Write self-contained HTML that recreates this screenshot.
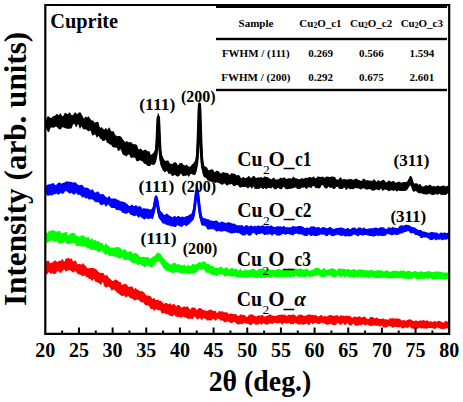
<!DOCTYPE html>
<html><head><meta charset="utf-8"><style>html,body{margin:0;padding:0;background:#fff}svg{display:block}</style></head>
<body><svg width="463" height="402" viewBox="0 0 463 402">
<style>
text{font-family:"Liberation Serif",serif;font-weight:bold;fill:#000}
.tk{font-size:20px}
.cl{font-size:21px}
.pk{font-size:16px}
.tb{font-size:11px}
</style>
<rect width="463" height="402" fill="#fff"/>
<path d="M45.50,261.8 45.75,261.6 46.00,261.5 46.25,261.4 46.50,261.3 46.75,261.2 47.00,261.1 47.25,261.0 47.50,260.8 47.75,260.7 48.00,260.7 48.25,260.6 48.50,260.7 48.75,260.9 49.00,261.2 49.25,261.6 49.50,262.1 49.75,262.7 50.00,263.0 50.25,263.2 50.50,263.2 50.75,263.1 51.00,262.9 51.25,262.7 51.50,262.6 51.75,262.5 52.00,262.5 52.25,262.4 52.50,262.4 52.75,262.3 53.00,262.2 53.25,262.0 53.50,261.7 53.75,261.3 54.00,261.0 54.25,260.7 54.50,260.5 54.75,260.5 55.00,260.5 55.25,260.5 55.50,260.6 55.75,260.8 56.00,261.0 56.25,261.2 56.50,261.4 56.75,261.6 57.00,261.8 57.25,261.9 57.50,261.9 57.75,261.8 58.00,261.6 58.25,261.4 58.50,261.2 58.75,261.1 59.00,260.9 59.25,260.7 59.50,260.5 59.75,260.4 60.00,260.4 60.25,260.6 60.50,260.8 60.75,260.9 61.00,260.9 61.25,260.6 61.50,260.1 61.75,259.6 62.00,259.2 62.25,259.0 62.50,259.0 62.75,259.2 63.00,259.5 63.25,260.0 63.50,260.6 63.75,261.2 64.00,261.5 64.25,261.7 64.50,261.5 64.75,261.1 65.00,260.5 65.25,259.8 65.50,259.1 65.75,258.6 66.00,258.4 66.25,258.3 66.50,258.3 66.75,258.4 67.00,258.4 67.25,258.4 67.50,258.4 67.75,258.2 68.00,258.1 68.25,258.0 68.50,258.1 68.75,258.2 69.00,258.4 69.25,258.7 69.50,259.0 69.75,259.1 70.00,259.0 70.25,258.8 70.50,258.6 70.75,258.4 71.00,258.4 71.25,258.4 71.50,258.5 71.75,258.8 72.00,259.2 72.25,259.7 72.50,260.2 72.75,260.7 73.00,261.1 73.25,261.3 73.50,261.4 73.75,261.4 74.00,261.3 74.25,261.1 74.50,261.0 74.75,260.8 75.00,260.6 75.25,260.5 75.50,260.5 75.75,260.6 76.00,260.9 76.25,261.3 76.50,262.0 76.75,262.7 77.00,263.4 77.25,263.9 77.50,264.2 77.75,264.2 78.00,264.2 78.25,264.2 78.50,264.1 78.75,264.0 79.00,263.9 79.25,263.8 79.50,263.8 79.75,263.8 80.00,263.9 80.25,264.0 80.50,264.2 80.75,264.3 81.00,264.5 81.25,264.6 81.50,264.6 81.75,264.6 82.00,264.4 82.25,264.1 82.50,263.8 82.75,263.5 83.00,263.3 83.25,263.2 83.50,263.4 83.75,263.6 84.00,264.1 84.25,264.5 84.50,264.9 84.75,265.3 85.00,265.5 85.25,265.6 85.50,265.8 85.75,265.9 86.00,266.2 86.25,266.6 86.50,267.0 86.75,267.4 87.00,267.8 87.25,268.0 87.50,268.2 87.75,268.2 88.00,268.2 88.25,268.2 88.50,268.1 88.75,268.2 89.00,268.2 89.25,268.2 89.50,268.3 89.75,268.3 90.00,268.2 90.25,268.1 90.50,268.0 90.75,268.0 91.00,267.9 91.25,267.9 91.50,267.9 91.75,267.9 92.00,267.9 92.25,267.8 92.50,267.8 92.75,267.9 93.00,267.9 93.25,268.0 93.50,268.0 93.75,268.1 94.00,268.3 94.25,268.4 94.50,268.5 94.75,268.7 95.00,268.8 95.25,268.9 95.50,269.0 95.75,269.1 96.00,269.2 96.25,269.3 96.50,269.5 96.75,269.7 97.00,269.9 97.25,270.2 97.50,270.6 97.75,271.0 98.00,271.4 98.25,271.8 98.50,272.0 98.75,272.1 99.00,272.3 99.25,272.4 99.50,272.6 99.75,272.7 100.00,272.8 100.25,272.8 100.50,272.9 100.75,272.9 101.00,272.9 101.25,272.9 101.50,272.9 101.75,272.9 102.00,272.9 102.25,272.8 102.50,272.8 102.75,272.8 103.00,272.8 103.25,273.0 103.50,273.2 103.75,273.6 104.00,274.0 104.25,274.4 104.50,274.8 104.75,275.1 105.00,275.4 105.25,275.6 105.50,275.7 105.75,275.6 106.00,275.5 106.25,275.2 106.50,275.0 106.75,274.9 107.00,274.9 107.25,275.1 107.50,275.4 107.75,275.9 108.00,276.4 108.25,276.9 108.50,277.3 108.75,277.6 109.00,277.9 109.25,278.1 109.50,278.2 109.75,278.4 110.00,278.6 110.25,278.8 110.50,279.1 110.75,279.4 111.00,279.6 111.25,279.9 111.50,280.1 111.75,280.3 112.00,280.6 112.25,280.8 112.50,281.0 112.75,281.0 113.00,281.0 113.25,280.9 113.50,280.8 113.75,280.6 114.00,280.4 114.25,280.2 114.50,279.9 114.75,279.7 115.00,279.5 115.25,279.4 115.50,279.4 115.75,279.5 116.00,279.6 116.25,279.8 116.50,280.0 116.75,280.1 117.00,280.3 117.25,280.4 117.50,280.5 117.75,280.6 118.00,280.8 118.25,281.1 118.50,281.4 118.75,281.6 119.00,281.8 119.25,281.9 119.50,281.9 119.75,281.9 120.00,281.9 120.25,282.0 120.50,282.2 120.75,282.6 121.00,283.1 121.25,283.6 121.50,284.1 121.75,284.5 122.00,284.7 122.25,284.8 122.50,284.8 122.75,284.7 123.00,284.7 123.25,284.6 123.50,284.5 123.75,284.3 124.00,284.1 124.25,284.0 124.50,283.9 124.75,283.8 125.00,283.8 125.25,283.8 125.50,283.9 125.75,284.0 126.00,284.2 126.25,284.3 126.50,284.4 126.75,284.6 127.00,284.8 127.25,285.0 127.50,285.4 127.75,285.9 128.00,286.2 128.25,286.5 128.50,286.7 128.75,286.8 129.00,286.8 129.25,286.8 129.50,286.8 129.75,286.8 130.00,286.8 130.25,286.7 130.50,286.6 130.75,286.5 131.00,286.4 131.25,286.4 131.50,286.4 131.75,286.4 132.00,286.5 132.25,286.6 132.50,286.8 132.75,287.1 133.00,287.5 133.25,288.0 133.50,288.5 133.75,289.0 134.00,289.3 134.25,289.3 134.50,289.1 134.75,288.8 135.00,288.4 135.25,288.1 135.50,288.0 135.75,288.0 136.00,288.1 136.25,288.4 136.50,288.8 136.75,289.2 137.00,289.6 137.25,289.8 137.50,289.9 137.75,289.8 138.00,289.8 138.25,289.8 138.50,289.9 138.75,290.1 139.00,290.3 139.25,290.6 139.50,290.9 139.75,291.1 140.00,291.2 140.25,291.3 140.50,291.3 140.75,291.3 141.00,291.2 141.25,291.2 141.50,291.2 141.75,291.1 142.00,291.1 142.25,291.2 142.50,291.3 142.75,291.4 143.00,291.6 143.25,291.9 143.50,292.1 143.75,292.3 144.00,292.4 144.25,292.6 144.50,292.9 144.75,293.2 145.00,293.7 145.25,294.1 145.50,294.5 145.75,294.9 146.00,295.1 146.25,295.3 146.50,295.4 146.75,295.5 147.00,295.5 147.25,295.5 147.50,295.6 147.75,295.6 148.00,295.6 148.25,295.6 148.50,295.7 148.75,295.7 149.00,295.8 149.25,295.8 149.50,295.8 149.75,295.9 150.00,296.0 150.25,296.1 150.50,296.3 150.75,296.4 151.00,296.7 151.25,297.0 151.50,297.4 151.75,298.0 152.00,298.5 152.25,298.9 152.50,299.0 152.75,298.9 153.00,298.6 153.25,298.3 153.50,298.1 153.75,298.0 154.00,298.0 154.25,298.1 154.50,298.5 154.75,298.9 155.00,299.3 155.25,299.6 155.50,299.8 155.75,299.9 156.00,300.0 156.25,299.9 156.50,299.9 156.75,299.9 157.00,299.8 157.25,299.7 157.50,299.7 157.75,299.7 158.00,299.7 158.25,299.8 158.50,300.0 158.75,300.3 159.00,300.6 159.25,300.9 159.50,301.0 159.75,301.0 160.00,300.9 160.25,300.7 160.50,300.7 160.75,300.6 161.00,300.8 161.25,301.0 161.50,301.3 161.75,301.7 162.00,302.0 162.25,302.3 162.50,302.5 162.75,302.6 163.00,302.9 163.25,303.1 163.50,303.4 163.75,303.6 164.00,303.8 164.25,303.8 164.50,303.7 164.75,303.5 165.00,303.3 165.25,303.1 165.50,303.0 165.75,302.9 166.00,302.9 166.25,302.9 166.50,303.0 166.75,303.1 167.00,303.3 167.25,303.5 167.50,303.6 167.75,303.8 168.00,304.0 168.25,304.1 168.50,304.2 168.75,304.2 169.00,304.0 169.25,303.8 169.50,303.6 169.75,303.4 170.00,303.3 170.25,303.3 170.50,303.4 170.75,303.6 171.00,303.9 171.25,304.3 171.50,304.6 171.75,304.9 172.00,304.9 172.25,304.8 172.50,304.6 172.75,304.4 173.00,304.2 173.25,304.2 173.50,304.1 173.75,304.1 174.00,304.1 174.25,304.2 174.50,304.3 174.75,304.5 175.00,304.8 175.25,305.2 175.50,305.6 175.75,306.1 176.00,306.3 176.25,306.4 176.50,306.3 176.75,305.9 177.00,305.6 177.25,305.3 177.50,305.1 177.75,305.0 178.00,305.0 178.25,305.0 178.50,305.0 178.75,305.1 179.00,305.2 179.25,305.3 179.50,305.4 179.75,305.6 180.00,305.9 180.25,306.2 180.50,306.5 180.75,306.8 181.00,307.0 181.25,307.1 181.50,307.3 181.75,307.4 182.00,307.4 182.25,307.4 182.50,307.4 182.75,307.2 183.00,307.0 183.25,306.7 183.50,306.5 183.75,306.3 184.00,306.2 184.25,306.2 184.50,306.3 184.75,306.5 185.00,306.7 185.25,306.9 185.50,307.1 185.75,307.1 186.00,307.0 186.25,306.8 186.50,306.7 186.75,306.6 187.00,306.6 187.25,306.6 187.50,306.6 187.75,306.7 188.00,306.8 188.25,306.9 188.50,307.2 188.75,307.6 189.00,308.1 189.25,308.6 189.50,309.1 189.75,309.5 190.00,309.7 190.25,309.7 190.50,309.5 190.75,309.1 191.00,308.6 191.25,308.2 191.50,307.8 191.75,307.6 192.00,307.5 192.25,307.5 192.50,307.5 192.75,307.4 193.00,307.4 193.25,307.4 193.50,307.4 193.75,307.5 194.00,307.5 194.25,307.6 194.50,307.7 194.75,307.8 195.00,308.0 195.25,308.1 195.50,308.3 195.75,308.6 196.00,309.0 196.25,309.4 196.50,309.7 196.75,309.9 197.00,309.9 197.25,309.7 197.50,309.4 197.75,309.1 198.00,308.7 198.25,308.4 198.50,308.2 198.75,308.1 199.00,308.1 199.25,308.1 199.50,308.2 199.75,308.2 200.00,308.3 200.25,308.3 200.50,308.3 200.75,308.3 201.00,308.3 201.25,308.3 201.50,308.4 201.75,308.7 202.00,308.9 202.25,309.3 202.50,309.5 202.75,309.7 203.00,309.9 203.25,309.9 203.50,310.0 203.75,310.0 204.00,310.1 204.25,310.2 204.50,310.3 204.75,310.5 205.00,310.6 205.25,310.7 205.50,310.7 205.75,310.7 206.00,310.7 206.25,310.7 206.50,310.7 206.75,310.7 207.00,310.7 207.25,310.7 207.50,310.7 207.75,310.7 208.00,310.6 208.25,310.6 208.50,310.5 208.75,310.3 209.00,310.1 209.25,309.9 209.50,309.6 209.75,309.5 210.00,309.4 210.25,309.4 210.50,309.5 210.75,309.6 211.00,309.7 211.25,309.9 211.50,310.1 211.75,310.2 212.00,310.2 212.25,310.3 212.50,310.3 212.75,310.4 213.00,310.6 213.25,310.8 213.50,311.0 213.75,311.2 214.00,311.2 214.25,311.1 214.50,310.9 214.75,310.7 215.00,310.6 215.25,310.6 215.50,310.8 215.75,311.1 216.00,311.6 216.25,312.2 216.50,312.6 216.75,312.8 217.00,312.9 217.25,312.8 217.50,312.7 217.75,312.6 218.00,312.4 218.25,312.1 218.50,311.8 218.75,311.4 219.00,311.1 219.25,310.8 219.50,310.7 219.75,310.7 220.00,310.9 220.25,311.1 220.50,311.4 220.75,311.7 221.00,311.9 221.25,311.8 221.50,311.6 221.75,311.4 222.00,311.2 222.25,311.1 222.50,311.1 222.75,311.2 223.00,311.5 223.25,311.7 223.50,312.0 223.75,312.2 224.00,312.3 224.25,312.3 224.50,312.3 224.75,312.2 225.00,312.2 225.25,312.2 225.50,312.2 225.75,312.2 226.00,312.2 226.25,312.2 226.50,312.2 226.75,312.2 227.00,312.3 227.25,312.4 227.50,312.6 227.75,313.0 228.00,313.3 228.25,313.7 228.50,313.9 228.75,314.0 229.00,314.1 229.25,314.0 229.50,313.9 229.75,313.8 230.00,313.6 230.25,313.5 230.50,313.5 230.75,313.5 231.00,313.5 231.25,313.5 231.50,313.5 231.75,313.5 232.00,313.6 232.25,313.6 232.50,313.7 232.75,313.8 233.00,313.9 233.25,314.0 233.50,314.2 233.75,314.3 234.00,314.3 234.25,314.3 234.50,314.2 234.75,314.1 235.00,314.0 235.25,313.9 235.50,313.8 235.75,313.9 236.00,314.0 236.25,314.3 236.50,314.6 236.75,315.0 237.00,315.4 237.25,315.6 237.50,315.8 237.75,315.8 238.00,315.8 238.25,315.8 238.50,315.8 238.75,315.8 239.00,315.7 239.25,315.6 239.50,315.5 239.75,315.2 240.00,315.0 240.25,314.7 240.50,314.5 240.75,314.3 241.00,314.3 241.25,314.3 241.50,314.4 241.75,314.6 242.00,314.7 242.25,314.9 242.50,314.9 242.75,314.9 243.00,314.9 243.25,314.8 243.50,314.7 243.75,314.7 244.00,314.8 244.25,314.8 244.50,315.0 244.75,315.2 245.00,315.5 245.25,315.7 245.50,315.9 245.75,316.1 246.00,316.3 246.25,316.5 246.50,316.8 246.75,317.0 247.00,317.1 247.25,317.0 247.50,316.7 247.75,316.4 248.00,316.0 248.25,315.7 248.50,315.3 248.75,315.0 249.00,314.9 249.25,314.7 249.50,314.7 249.75,314.6 250.00,314.6 250.25,314.5 250.50,314.5 250.75,314.5 251.00,314.5 251.25,314.4 251.50,314.4 251.75,314.5 252.00,314.5 252.25,314.5 252.50,314.5 252.75,314.5 253.00,314.6 253.25,314.7 253.50,314.9 253.75,315.2 254.00,315.4 254.25,315.7 254.50,315.9 254.75,316.0 255.00,316.1 255.25,316.1 255.50,316.2 255.75,316.3 256.00,316.4 256.25,316.5 256.50,316.4 256.75,316.3 257.00,316.2 257.25,316.0 257.50,315.8 257.75,315.6 258.00,315.6 258.25,315.6 258.50,315.6 258.75,315.6 259.00,315.6 259.25,315.6 259.50,315.6 259.75,315.5 260.00,315.5 260.25,315.5 260.50,315.5 260.75,315.5 261.00,315.5 261.25,315.4 261.50,315.3 261.75,315.2 262.00,315.1 262.25,315.1 262.50,315.1 262.75,315.1 263.00,315.3 263.25,315.5 263.50,315.9 263.75,316.2 264.00,316.4 264.25,316.5 264.50,316.6 264.75,316.5 265.00,316.5 265.25,316.4 265.50,316.3 265.75,316.2 266.00,316.1 266.25,316.0 266.50,315.9 266.75,315.9 267.00,315.8 267.25,315.7 267.50,315.6 267.75,315.5 268.00,315.4 268.25,315.3 268.50,315.1 268.75,314.9 269.00,314.7 269.25,314.6 269.50,314.4 269.75,314.3 270.00,314.3 270.25,314.3 270.50,314.4 270.75,314.6 271.00,314.8 271.25,315.0 271.50,315.2 271.75,315.3 272.00,315.4 272.25,315.5 272.50,315.5 272.75,315.5 273.00,315.5 273.25,315.6 273.50,315.7 273.75,315.8 274.00,316.0 274.25,316.1 274.50,316.1 274.75,316.1 275.00,316.0 275.25,315.9 275.50,315.9 275.75,315.8 276.00,315.8 276.25,315.8 276.50,315.7 276.75,315.6 277.00,315.5 277.25,315.4 277.50,315.4 277.75,315.3 278.00,315.2 278.25,315.1 278.50,315.0 278.75,314.9 279.00,314.8 279.25,314.7 279.50,314.7 279.75,314.7 280.00,314.8 280.25,314.8 280.50,314.8 280.75,314.8 281.00,314.7 281.25,314.5 281.50,314.4 281.75,314.4 282.00,314.4 282.25,314.5 282.50,314.7 282.75,314.9 283.00,315.0 283.25,315.0 283.50,314.9 283.75,314.7 284.00,314.5 284.25,314.4 284.50,314.4 284.75,314.5 285.00,314.7 285.25,314.9 285.50,315.2 285.75,315.4 286.00,315.6 286.25,315.6 286.50,315.7 286.75,315.7 287.00,315.7 287.25,315.6 287.50,315.5 287.75,315.3 288.00,315.1 288.25,314.9 288.50,314.8 288.75,314.7 289.00,314.6 289.25,314.6 289.50,314.7 289.75,314.7 290.00,314.8 290.25,314.9 290.50,315.0 290.75,315.0 291.00,315.0 291.25,315.0 291.50,314.9 291.75,314.7 292.00,314.6 292.25,314.5 292.50,314.5 292.75,314.5 293.00,314.5 293.25,314.5 293.50,314.5 293.75,314.6 294.00,314.6 294.25,314.7 294.50,314.8 294.75,315.0 295.00,315.1 295.25,315.2 295.50,315.4 295.75,315.7 296.00,316.0 296.25,316.3 296.50,316.5 296.75,316.6 297.00,316.5 297.25,316.3 297.50,315.9 297.75,315.6 298.00,315.4 298.25,315.1 298.50,315.0 298.75,314.8 299.00,314.7 299.25,314.6 299.50,314.6 299.75,314.6 300.00,314.7 300.25,314.8 300.50,314.8 300.75,314.8 301.00,314.7 301.25,314.7 301.50,314.6 301.75,314.6 302.00,314.7 302.25,314.9 302.50,315.1 302.75,315.3 303.00,315.5 303.25,315.7 303.50,315.7 303.75,315.8 304.00,315.8 304.25,315.8 304.50,315.8 304.75,315.8 305.00,315.8 305.25,315.8 305.50,315.8 305.75,315.7 306.00,315.6 306.25,315.4 306.50,315.2 306.75,315.0 307.00,314.9 307.25,314.8 307.50,314.8 307.75,314.7 308.00,314.7 308.25,314.6 308.50,314.6 308.75,314.6 309.00,314.6 309.25,314.6 309.50,314.6 309.75,314.6 310.00,314.7 310.25,314.7 310.50,314.7 310.75,314.8 311.00,314.8 311.25,314.9 311.50,314.9 311.75,314.9 312.00,314.8 312.25,314.8 312.50,314.8 312.75,314.8 313.00,314.9 313.25,315.1 313.50,315.3 313.75,315.4 314.00,315.5 314.25,315.4 314.50,315.3 314.75,315.1 315.00,315.0 315.25,314.9 315.50,314.8 315.75,314.8 316.00,314.9 316.25,315.1 316.50,315.4 316.75,315.7 317.00,316.0 317.25,316.2 317.50,316.4 317.75,316.4 318.00,316.4 318.25,316.4 318.50,316.3 318.75,316.2 319.00,316.1 319.25,316.1 319.50,316.0 319.75,315.9 320.00,315.8 320.25,315.6 320.50,315.4 320.75,315.1 321.00,315.0 321.25,314.9 321.50,314.9 321.75,315.0 322.00,315.2 322.25,315.5 322.50,315.9 322.75,316.2 323.00,316.4 323.25,316.5 323.50,316.5 323.75,316.4 324.00,316.3 324.25,316.2 324.50,316.1 324.75,316.1 325.00,316.1 325.25,316.1 325.50,316.2 325.75,316.3 326.00,316.4 326.25,316.5 326.50,316.5 326.75,316.6 327.00,316.5 327.25,316.5 327.50,316.3 327.75,316.1 328.00,315.8 328.25,315.6 328.50,315.4 328.75,315.3 329.00,315.3 329.25,315.3 329.50,315.2 329.75,315.2 330.00,315.1 330.25,315.1 330.50,315.0 330.75,315.0 331.00,315.0 331.25,315.1 331.50,315.1 331.75,315.2 332.00,315.4 332.25,315.5 332.50,315.6 332.75,315.7 333.00,315.7 333.25,315.8 333.50,315.8 333.75,315.9 334.00,315.9 334.25,315.9 334.50,315.8 334.75,315.7 335.00,315.6 335.25,315.5 335.50,315.5 335.75,315.4 336.00,315.4 336.25,315.3 336.50,315.2 336.75,315.2 337.00,315.1 337.25,315.1 337.50,315.2 337.75,315.4 338.00,315.6 338.25,316.0 338.50,316.3 338.75,316.6 339.00,316.7 339.25,316.6 339.50,316.3 339.75,315.9 340.00,315.6 340.25,315.4 340.50,315.3 340.75,315.2 341.00,315.3 341.25,315.5 341.50,315.6 341.75,315.8 342.00,315.8 342.25,315.8 342.50,315.7 342.75,315.7 343.00,315.6 343.25,315.6 343.50,315.7 343.75,315.7 344.00,315.9 344.25,316.0 344.50,316.1 344.75,316.2 345.00,316.2 345.25,316.1 345.50,315.9 345.75,315.7 346.00,315.6 346.25,315.5 346.50,315.4 346.75,315.5 347.00,315.6 347.25,315.8 347.50,316.0 347.75,316.1 348.00,316.1 348.25,316.0 348.50,315.9 348.75,315.7 349.00,315.6 349.25,315.6 349.50,315.7 349.75,315.8 350.00,316.1 350.25,316.3 350.50,316.5 350.75,316.7 351.00,316.9 351.25,317.1 351.50,317.2 351.75,317.4 352.00,317.6 352.25,317.7 352.50,317.7 352.75,317.7 353.00,317.5 353.25,317.3 353.50,317.1 353.75,316.8 354.00,316.7 354.25,316.6 354.50,316.5 354.75,316.6 355.00,316.6 355.25,316.7 355.50,316.8 355.75,316.9 356.00,317.0 356.25,317.1 356.50,317.1 356.75,317.2 357.00,317.1 357.25,317.1 357.50,317.0 357.75,316.9 358.00,316.8 358.25,316.7 358.50,316.6 358.75,316.5 359.00,316.4 359.25,316.3 359.50,316.3 359.75,316.3 360.00,316.3 360.25,316.4 360.50,316.7 360.75,317.0 361.00,317.3 361.25,317.6 361.50,317.7 361.75,317.7 362.00,317.5 362.25,317.3 362.50,317.1 362.75,317.0 363.00,316.9 363.25,316.8 363.50,316.8 363.75,316.7 364.00,316.7 364.25,316.6 364.50,316.6 364.75,316.7 365.00,316.8 365.25,317.0 365.50,317.3 365.75,317.6 366.00,317.9 366.25,318.2 366.50,318.4 366.75,318.5 367.00,318.6 367.25,318.6 367.50,318.8 367.75,318.9 368.00,319.0 368.25,319.1 368.50,319.1 368.75,318.9 369.00,318.6 369.25,318.2 369.50,317.8 369.75,317.5 370.00,317.3 370.25,317.2 370.50,317.1 370.75,317.0 371.00,317.0 371.25,316.9 371.50,316.9 371.75,317.0 372.00,317.0 372.25,317.0 372.50,317.0 372.75,317.1 373.00,317.2 373.25,317.3 373.50,317.5 373.75,317.8 374.00,318.1 374.25,318.3 374.50,318.5 374.75,318.5 375.00,318.4 375.25,318.2 375.50,318.0 375.75,317.8 376.00,317.6 376.25,317.4 376.50,317.4 376.75,317.4 377.00,317.5 377.25,317.6 377.50,317.9 377.75,318.1 378.00,318.4 378.25,318.5 378.50,318.6 378.75,318.7 379.00,318.7 379.25,318.8 379.50,318.8 379.75,318.9 380.00,319.0 380.25,319.0 380.50,319.1 380.75,319.1 381.00,319.1 381.25,319.0 381.50,318.9 381.75,318.8 382.00,318.7 382.25,318.6 382.50,318.5 382.75,318.5 383.00,318.5 383.25,318.5 383.50,318.6 383.75,318.7 384.00,318.8 384.25,319.0 384.50,319.2 384.75,319.3 385.00,319.3 385.25,319.4 385.50,319.4 385.75,319.3 386.00,319.3 386.25,319.3 386.50,319.3 386.75,319.3 387.00,319.4 387.25,319.4 387.50,319.5 387.75,319.6 388.00,319.7 388.25,319.8 388.50,319.7 388.75,319.5 389.00,319.2 389.25,318.8 389.50,318.5 389.75,318.3 390.00,318.2 390.25,318.2 390.50,318.3 390.75,318.5 391.00,318.6 391.25,318.7 391.50,318.6 391.75,318.5 392.00,318.4 392.25,318.3 392.50,318.3 392.75,318.3 393.00,318.3 393.25,318.3 393.50,318.3 393.75,318.3 394.00,318.4 394.25,318.4 394.50,318.4 394.75,318.5 395.00,318.5 395.25,318.5 395.50,318.5 395.75,318.5 396.00,318.5 396.25,318.5 396.50,318.5 396.75,318.5 397.00,318.5 397.25,318.5 397.50,318.6 397.75,318.6 398.00,318.6 398.25,318.6 398.50,318.6 398.75,318.6 399.00,318.6 399.25,318.7 399.50,318.7 399.75,318.8 400.00,318.9 400.25,319.1 400.50,319.4 400.75,319.6 401.00,319.9 401.25,320.1 401.50,320.3 401.75,320.4 402.00,320.5 402.25,320.5 402.50,320.4 402.75,320.3 403.00,320.2 403.25,320.1 403.50,320.0 403.75,320.0 404.00,320.1 404.25,320.2 404.50,320.3 404.75,320.5 405.00,320.7 405.25,320.8 405.50,320.8 405.75,320.8 406.00,320.8 406.25,320.6 406.50,320.4 406.75,320.2 407.00,320.1 407.25,320.0 407.50,320.0 407.75,319.9 408.00,319.8 408.25,319.7 408.50,319.5 408.75,319.4 409.00,319.3 409.25,319.2 409.50,319.2 409.75,319.2 410.00,319.3 410.25,319.4 410.50,319.4 410.75,319.5 411.00,319.6 411.25,319.8 411.50,319.9 411.75,320.0 412.00,320.2 412.25,320.3 412.50,320.5 412.75,320.7 413.00,320.8 413.25,321.0 413.50,321.0 413.75,321.1 414.00,321.1 414.25,321.0 414.50,320.9 414.75,320.8 415.00,320.7 415.25,320.5 415.50,320.4 415.75,320.3 416.00,320.3 416.25,320.4 416.50,320.5 416.75,320.7 417.00,320.9 417.25,321.0 417.50,321.2 417.75,321.2 418.00,321.1 418.25,321.0 418.50,320.9 418.75,320.8 419.00,320.8 419.25,320.7 419.50,320.7 419.75,320.6 420.00,320.5 420.25,320.5 420.50,320.5 420.75,320.4 421.00,320.4 421.25,320.4 421.50,320.5 421.75,320.5 422.00,320.5 422.25,320.6 422.50,320.5 422.75,320.5 423.00,320.3 423.25,320.2 423.50,320.1 423.75,320.0 424.00,320.0 424.25,320.2 424.50,320.4 424.75,320.7 425.00,321.0 425.25,321.1 425.50,321.1 425.75,320.9 426.00,320.7 426.25,320.5 426.50,320.4 426.75,320.3 427.00,320.4 427.25,320.4 427.50,320.5 427.75,320.6 428.00,320.8 428.25,321.0 428.50,321.2 428.75,321.4 429.00,321.5 429.25,321.6 429.50,321.7 429.75,321.6 430.00,321.5 430.25,321.4 430.50,321.3 430.75,321.2 431.00,321.2 431.25,321.3 431.50,321.4 431.75,321.5 432.00,321.7 432.25,321.8 432.50,321.9 432.75,322.0 433.00,321.9 433.25,321.8 433.50,321.6 433.75,321.4 434.00,321.2 434.25,321.1 434.50,321.0 434.75,321.0 435.00,321.1 435.25,321.2 435.50,321.4 435.75,321.6 436.00,321.7 436.25,321.8 436.50,321.9 436.75,321.8 437.00,321.7 437.25,321.5 437.50,321.3 437.75,321.1 438.00,320.9 438.25,320.8 438.50,320.8 438.75,320.8 439.00,320.8 439.25,320.9 439.50,321.0 439.75,321.0 440.00,321.1 440.25,321.2 440.50,321.3 440.75,321.4 441.00,321.6 441.25,321.8 441.50,322.0 441.75,322.1 442.00,322.2 442.25,322.3 442.50,322.3 442.75,322.3 443.00,322.4 443.25,322.4 443.50,322.4 443.75,322.3 444.00,322.3 444.25,322.1 444.50,321.9 444.75,321.6 445.00,321.3 445.25,321.1 445.50,320.9 445.75,320.8 446.00,320.8 446.25,320.8 446.50,321.0 446.75,321.2 447.00,321.4 447.25,321.5 447.50,321.6 447.75,321.7 448.00,321.7 448.25,321.7 448.50,321.7 448.75,321.8 449.00,321.8 449.25,321.9 449.50,322.1 L449.50,329.2 449.25,329.1 449.00,329.1 448.75,329.0 448.50,328.8 448.25,328.7 448.00,328.5 447.75,328.3 447.50,328.2 447.25,328.2 447.00,328.2 446.75,328.3 446.50,328.4 446.25,328.4 446.00,328.4 445.75,328.5 445.50,328.5 445.25,328.5 445.00,328.6 444.75,328.7 444.50,328.9 444.25,329.0 444.00,329.1 443.75,329.2 443.50,329.2 443.25,329.2 443.00,329.2 442.75,329.2 442.50,329.1 442.25,329.1 442.00,329.1 441.75,329.1 441.50,329.1 441.25,329.1 441.00,329.0 440.75,328.9 440.50,328.8 440.25,328.6 440.00,328.4 439.75,328.3 439.50,328.3 439.25,328.2 439.00,328.2 438.75,328.1 438.50,328.0 438.25,327.9 438.00,327.8 437.75,327.7 437.50,327.6 437.25,327.6 437.00,327.6 436.75,327.6 436.50,327.7 436.25,327.9 436.00,328.2 435.75,328.4 435.50,328.7 435.25,328.8 435.00,328.9 434.75,328.9 434.50,328.9 434.25,328.8 434.00,328.8 433.75,328.6 433.50,328.5 433.25,328.4 433.00,328.4 432.75,328.3 432.50,328.3 432.25,328.2 432.00,328.2 431.75,328.1 431.50,328.1 431.25,328.0 431.00,327.9 430.75,327.9 430.50,327.9 430.25,327.9 430.00,327.9 429.75,327.9 429.50,327.9 429.25,327.9 429.00,327.8 428.75,327.8 428.50,327.8 428.25,327.9 428.00,327.9 427.75,328.1 427.50,328.2 427.25,328.4 427.00,328.5 426.75,328.6 426.50,328.7 426.25,328.7 426.00,328.7 425.75,328.6 425.50,328.6 425.25,328.6 425.00,328.6 424.75,328.6 424.50,328.6 424.25,328.6 424.00,328.5 423.75,328.5 423.50,328.4 423.25,328.3 423.00,328.2 422.75,328.2 422.50,328.2 422.25,328.3 422.00,328.4 421.75,328.4 421.50,328.5 421.25,328.4 421.00,328.4 420.75,328.2 420.50,328.1 420.25,328.0 420.00,327.8 419.75,327.7 419.50,327.7 419.25,327.7 419.00,327.9 418.75,328.0 418.50,328.2 418.25,328.4 418.00,328.5 417.75,328.6 417.50,328.7 417.25,328.7 417.00,328.8 416.75,328.9 416.50,328.9 416.25,328.9 416.00,328.9 415.75,328.9 415.50,328.9 415.25,328.9 415.00,328.9 414.75,328.9 414.50,328.8 414.25,328.7 414.00,328.6 413.75,328.5 413.50,328.4 413.25,328.4 413.00,328.5 412.75,328.6 412.50,328.7 412.25,328.7 412.00,328.7 411.75,328.7 411.50,328.6 411.25,328.4 411.00,328.1 410.75,327.7 410.50,327.3 410.25,326.9 410.00,326.6 409.75,326.5 409.50,326.4 409.25,326.6 409.00,326.8 408.75,327.0 408.50,327.3 408.25,327.6 408.00,327.8 407.75,327.9 407.50,327.9 407.25,327.9 407.00,327.8 406.75,327.7 406.50,327.6 406.25,327.5 406.00,327.4 405.75,327.5 405.50,327.6 405.25,327.6 405.00,327.7 404.75,327.8 404.50,327.8 404.25,327.9 404.00,328.0 403.75,328.1 403.50,328.2 403.25,328.3 403.00,328.4 402.75,328.4 402.50,328.4 402.25,328.3 402.00,328.2 401.75,328.1 401.50,327.8 401.25,327.5 401.00,327.2 400.75,327.0 400.50,326.8 400.25,326.8 400.00,326.9 399.75,327.1 399.50,327.3 399.25,327.5 399.00,327.6 398.75,327.6 398.50,327.5 398.25,327.4 398.00,327.2 397.75,327.0 397.50,326.9 397.25,326.9 397.00,327.0 396.75,327.1 396.50,327.1 396.25,327.2 396.00,327.2 395.75,327.1 395.50,327.1 395.25,326.9 395.00,326.8 394.75,326.7 394.50,326.7 394.25,326.8 394.00,327.0 393.75,327.3 393.50,327.5 393.25,327.7 393.00,327.8 392.75,327.8 392.50,327.8 392.25,327.7 392.00,327.6 391.75,327.4 391.50,327.1 391.25,326.8 391.00,326.5 390.75,326.3 390.50,326.1 390.25,326.1 390.00,326.2 389.75,326.2 389.50,326.3 389.25,326.3 389.00,326.3 388.75,326.2 388.50,326.2 388.25,326.1 388.00,326.2 387.75,326.4 387.50,326.7 387.25,327.0 387.00,327.2 386.75,327.4 386.50,327.5 386.25,327.5 386.00,327.5 385.75,327.5 385.50,327.5 385.25,327.5 385.00,327.5 384.75,327.5 384.50,327.5 384.25,327.4 384.00,327.4 383.75,327.4 383.50,327.4 383.25,327.3 383.00,327.1 382.75,326.9 382.50,326.6 382.25,326.3 382.00,326.0 381.75,325.7 381.50,325.6 381.25,325.7 381.00,325.8 380.75,326.0 380.50,326.2 380.25,326.4 380.00,326.5 379.75,326.6 379.50,326.6 379.25,326.5 379.00,326.3 378.75,326.1 378.50,325.8 378.25,325.6 378.00,325.5 377.75,325.5 377.50,325.6 377.25,325.7 377.00,325.8 376.75,325.8 376.50,325.9 376.25,325.8 376.00,325.8 375.75,325.8 375.50,325.7 375.25,325.6 375.00,325.5 374.75,325.4 374.50,325.3 374.25,325.3 374.00,325.3 373.75,325.3 373.50,325.4 373.25,325.5 373.00,325.6 372.75,325.7 372.50,325.8 372.25,325.9 372.00,325.9 371.75,325.9 371.50,325.9 371.25,325.9 371.00,325.9 370.75,325.9 370.50,325.9 370.25,325.8 370.00,325.8 369.75,325.8 369.50,325.7 369.25,325.6 369.00,325.5 368.75,325.3 368.50,325.2 368.25,325.0 368.00,324.9 367.75,324.8 367.50,324.6 367.25,324.5 367.00,324.5 366.75,324.5 366.50,324.7 366.25,325.0 366.00,325.2 365.75,325.4 365.50,325.5 365.25,325.4 365.00,325.4 364.75,325.2 364.50,325.0 364.25,324.7 364.00,324.5 363.75,324.3 363.50,324.2 363.25,324.2 363.00,324.2 362.75,324.3 362.50,324.4 362.25,324.6 362.00,324.8 361.75,325.0 361.50,325.2 361.25,325.3 361.00,325.3 360.75,325.3 360.50,325.3 360.25,325.3 360.00,325.2 359.75,325.1 359.50,325.1 359.25,325.1 359.00,325.2 358.75,325.3 358.50,325.4 358.25,325.6 358.00,325.7 357.75,325.7 357.50,325.8 357.25,325.8 357.00,325.8 356.75,325.8 356.50,325.8 356.25,325.9 356.00,325.8 355.75,325.8 355.50,325.7 355.25,325.6 355.00,325.4 354.75,325.1 354.50,324.8 354.25,324.5 354.00,324.1 353.75,323.8 353.50,323.7 353.25,323.6 353.00,323.7 352.75,323.9 352.50,324.2 352.25,324.6 352.00,324.9 351.75,325.2 351.50,325.4 351.25,325.5 351.00,325.6 350.75,325.6 350.50,325.6 350.25,325.6 350.00,325.5 349.75,325.5 349.50,325.4 349.25,325.2 349.00,324.9 348.75,324.6 348.50,324.2 348.25,323.9 348.00,323.7 347.75,323.6 347.50,323.6 347.25,323.6 347.00,323.6 346.75,323.7 346.50,323.9 346.25,324.1 346.00,324.4 345.75,324.7 345.50,324.9 345.25,325.1 345.00,325.1 344.75,325.0 344.50,324.8 344.25,324.5 344.00,324.2 343.75,323.8 343.50,323.6 343.25,323.4 343.00,323.3 342.75,323.3 342.50,323.3 342.25,323.4 342.00,323.6 341.75,323.9 341.50,324.2 341.25,324.5 341.00,324.7 340.75,324.9 340.50,324.9 340.25,324.8 340.00,324.6 339.75,324.4 339.50,324.1 339.25,323.8 339.00,323.6 338.75,323.5 338.50,323.3 338.25,323.2 338.00,323.2 337.75,323.1 337.50,323.2 337.25,323.3 337.00,323.6 336.75,323.9 336.50,324.3 336.25,324.6 336.00,324.9 335.75,325.0 335.50,325.1 335.25,325.1 335.00,325.0 334.75,325.0 334.50,325.0 334.25,325.0 334.00,325.0 333.75,324.9 333.50,324.9 333.25,324.9 333.00,324.9 332.75,324.9 332.50,324.8 332.25,324.7 332.00,324.6 331.75,324.5 331.50,324.3 331.25,324.1 331.00,323.9 330.75,323.8 330.50,323.8 330.25,323.9 330.00,324.0 329.75,324.1 329.50,324.2 329.25,324.2 329.00,324.3 328.75,324.4 328.50,324.4 328.25,324.5 328.00,324.6 327.75,324.7 327.50,324.7 327.25,324.8 327.00,324.8 326.75,324.7 326.50,324.6 326.25,324.5 326.00,324.3 325.75,324.2 325.50,324.0 325.25,323.9 325.00,323.7 324.75,323.5 324.50,323.4 324.25,323.3 324.00,323.3 323.75,323.3 323.50,323.3 323.25,323.3 323.00,323.3 322.75,323.2 322.50,323.1 322.25,322.9 322.00,322.8 321.75,322.6 321.50,322.6 321.25,322.6 321.00,322.7 320.75,322.9 320.50,323.2 320.25,323.4 320.00,323.7 319.75,323.8 319.50,324.0 319.25,324.1 319.00,324.1 318.75,324.1 318.50,324.1 318.25,324.0 318.00,324.0 317.75,323.9 317.50,323.8 317.25,323.7 317.00,323.5 316.75,323.3 316.50,323.2 316.25,323.0 316.00,322.9 315.75,322.8 315.50,322.8 315.25,322.8 315.00,322.8 314.75,322.8 314.50,322.9 314.25,323.0 314.00,323.2 313.75,323.4 313.50,323.7 313.25,324.0 313.00,324.2 312.75,324.2 312.50,324.1 312.25,323.8 312.00,323.5 311.75,323.1 311.50,322.8 311.25,322.6 311.00,322.7 310.75,322.9 310.50,323.3 310.25,323.7 310.00,324.1 309.75,324.5 309.50,324.7 309.25,324.8 309.00,324.9 308.75,324.9 308.50,324.9 308.25,324.8 308.00,324.7 307.75,324.5 307.50,324.3 307.25,324.1 307.00,323.8 306.75,323.7 306.50,323.6 306.25,323.6 306.00,323.7 305.75,323.9 305.50,324.0 305.25,324.1 305.00,324.2 304.75,324.2 304.50,324.2 304.25,324.3 304.00,324.3 303.75,324.4 303.50,324.6 303.25,324.7 303.00,324.8 302.75,324.8 302.50,324.8 302.25,324.7 302.00,324.5 301.75,324.3 301.50,324.1 301.25,324.0 301.00,324.0 300.75,324.1 300.50,324.2 300.25,324.4 300.00,324.4 299.75,324.5 299.50,324.5 299.25,324.5 299.00,324.5 298.75,324.5 298.50,324.5 298.25,324.4 298.00,324.3 297.75,324.1 297.50,324.0 297.25,323.8 297.00,323.7 296.75,323.6 296.50,323.6 296.25,323.5 296.00,323.3 295.75,323.1 295.50,322.9 295.25,322.7 295.00,322.6 294.75,322.6 294.50,322.9 294.25,323.3 294.00,323.7 293.75,324.0 293.50,324.1 293.25,324.2 293.00,324.2 292.75,324.2 292.50,324.1 292.25,324.0 292.00,324.0 291.75,324.0 291.50,324.1 291.25,324.2 291.00,324.3 290.75,324.3 290.50,324.1 290.25,323.9 290.00,323.6 289.75,323.2 289.50,323.0 289.25,322.9 289.00,322.9 288.75,323.0 288.50,323.0 288.25,323.1 288.00,323.2 287.75,323.2 287.50,323.3 287.25,323.3 287.00,323.4 286.75,323.5 286.50,323.6 286.25,323.6 286.00,323.6 285.75,323.6 285.50,323.6 285.25,323.4 285.00,323.3 284.75,323.0 284.50,322.8 284.25,322.7 284.00,322.7 283.75,322.9 283.50,323.3 283.25,323.8 283.00,324.2 282.75,324.5 282.50,324.6 282.25,324.7 282.00,324.6 281.75,324.4 281.50,324.1 281.25,323.7 281.00,323.2 280.75,322.9 280.50,322.7 280.25,322.7 280.00,322.8 279.75,322.9 279.50,323.1 279.25,323.2 279.00,323.2 278.75,323.2 278.50,323.2 278.25,323.2 278.00,323.2 277.75,323.2 277.50,323.2 277.25,323.2 277.00,323.2 276.75,323.2 276.50,323.1 276.25,323.1 276.00,323.1 275.75,323.1 275.50,323.0 275.25,322.9 275.00,322.8 274.75,322.7 274.50,322.6 274.25,322.7 274.00,322.8 273.75,323.0 273.50,323.3 273.25,323.6 273.00,323.9 272.75,324.0 272.50,324.0 272.25,324.0 272.00,323.9 271.75,323.8 271.50,323.7 271.25,323.6 271.00,323.5 270.75,323.5 270.50,323.5 270.25,323.5 270.00,323.5 269.75,323.5 269.50,323.5 269.25,323.5 269.00,323.5 268.75,323.7 268.50,323.9 268.25,324.1 268.00,324.4 267.75,324.5 267.50,324.7 267.25,324.7 267.00,324.7 266.75,324.6 266.50,324.5 266.25,324.4 266.00,324.4 265.75,324.3 265.50,324.2 265.25,324.2 265.00,324.1 264.75,324.0 264.50,323.9 264.25,323.8 264.00,323.6 263.75,323.4 263.50,323.2 263.25,323.1 263.00,323.2 262.75,323.4 262.50,323.7 262.25,324.1 262.00,324.4 261.75,324.7 261.50,324.8 261.25,324.8 261.00,324.6 260.75,324.3 260.50,324.0 260.25,323.6 260.00,323.4 259.75,323.3 259.50,323.5 259.25,323.7 259.00,324.0 258.75,324.2 258.50,324.4 258.25,324.4 258.00,324.4 257.75,324.4 257.50,324.4 257.25,324.5 257.00,324.6 256.75,324.7 256.50,324.8 256.25,324.8 256.00,324.8 255.75,324.8 255.50,324.7 255.25,324.6 255.00,324.4 254.75,324.1 254.50,323.8 254.25,323.6 254.00,323.4 253.75,323.4 253.50,323.4 253.25,323.4 253.00,323.5 252.75,323.6 252.50,323.8 252.25,324.0 252.00,324.2 251.75,324.4 251.50,324.6 251.25,324.8 251.00,324.9 250.75,325.0 250.50,325.0 250.25,325.0 250.00,325.0 249.75,324.9 249.50,324.8 249.25,324.7 249.00,324.4 248.75,324.2 248.50,323.9 248.25,323.7 248.00,323.6 247.75,323.5 247.50,323.6 247.25,323.7 247.00,323.7 246.75,323.8 246.50,323.8 246.25,323.7 246.00,323.6 245.75,323.5 245.50,323.4 245.25,323.2 245.00,323.1 244.75,322.9 244.50,322.8 244.25,322.7 244.00,322.7 243.75,322.8 243.50,323.1 243.25,323.5 243.00,323.8 242.75,324.1 242.50,324.2 242.25,324.3 242.00,324.2 241.75,324.2 241.50,324.1 241.25,324.0 241.00,323.9 240.75,323.8 240.50,323.8 240.25,323.9 240.00,324.0 239.75,324.1 239.50,324.3 239.25,324.4 239.00,324.5 238.75,324.5 238.50,324.5 238.25,324.4 238.00,324.4 237.75,324.3 237.50,324.3 237.25,324.2 237.00,324.1 236.75,324.0 236.50,323.8 236.25,323.5 236.00,323.2 235.75,322.9 235.50,322.7 235.25,322.5 235.00,322.3 234.75,322.2 234.50,322.1 234.25,321.9 234.00,321.9 233.75,321.9 233.50,322.0 233.25,322.2 233.00,322.4 232.75,322.6 232.50,322.7 232.25,322.8 232.00,322.9 231.75,322.9 231.50,322.9 231.25,322.9 231.00,322.9 230.75,322.9 230.50,322.8 230.25,322.6 230.00,322.5 229.75,322.4 229.50,322.3 229.25,322.2 229.00,322.0 228.75,321.9 228.50,321.8 228.25,321.7 228.00,321.6 227.75,321.6 227.50,321.5 227.25,321.5 227.00,321.5 226.75,321.6 226.50,321.7 226.25,321.9 226.00,322.1 225.75,322.2 225.50,322.4 225.25,322.4 225.00,322.4 224.75,322.3 224.50,322.2 224.25,322.1 224.00,321.9 223.75,321.7 223.50,321.4 223.25,321.1 223.00,320.7 222.75,320.4 222.50,320.2 222.25,320.2 222.00,320.4 221.75,320.6 221.50,320.8 221.25,320.9 221.00,320.9 220.75,320.7 220.50,320.5 220.25,320.1 220.00,319.7 219.75,319.3 219.50,319.1 219.25,318.9 219.00,318.8 218.75,318.7 218.50,318.7 218.25,318.7 218.00,318.7 217.75,318.7 217.50,318.8 217.25,319.0 217.00,319.3 216.75,319.6 216.50,320.0 216.25,320.3 216.00,320.5 215.75,320.7 215.50,320.7 215.25,320.6 215.00,320.5 214.75,320.2 214.50,319.9 214.25,319.6 214.00,319.3 213.75,319.1 213.50,319.0 213.25,318.9 213.00,318.9 212.75,319.1 212.50,319.2 212.25,319.5 212.00,319.8 211.75,320.0 211.50,320.2 211.25,320.3 211.00,320.4 210.75,320.4 210.50,320.4 210.25,320.4 210.00,320.4 209.75,320.3 209.50,320.3 209.25,320.2 209.00,320.2 208.75,320.3 208.50,320.3 208.25,320.4 208.00,320.5 207.75,320.6 207.50,320.6 207.25,320.5 207.00,320.4 206.75,320.2 206.50,319.9 206.25,319.6 206.00,319.3 205.75,319.1 205.50,318.9 205.25,318.8 205.00,318.8 204.75,318.6 204.50,318.5 204.25,318.3 204.00,318.2 203.75,318.1 203.50,318.1 203.25,318.2 203.00,318.5 202.75,318.8 202.50,319.2 202.25,319.6 202.00,319.8 201.75,319.9 201.50,319.9 201.25,319.8 201.00,319.5 200.75,319.1 200.50,318.7 200.25,318.3 200.00,318.1 199.75,318.0 199.50,318.0 199.25,318.2 199.00,318.4 198.75,318.7 198.50,319.0 198.25,319.3 198.00,319.5 197.75,319.6 197.50,319.6 197.25,319.5 197.00,319.3 196.75,319.0 196.50,318.6 196.25,318.2 196.00,317.9 195.75,317.6 195.50,317.4 195.25,317.1 195.00,316.9 194.75,316.7 194.50,316.6 194.25,316.7 194.00,316.9 193.75,317.3 193.50,317.8 193.25,318.3 193.00,318.7 192.75,319.0 192.50,319.2 192.25,319.2 192.00,319.1 191.75,318.9 191.50,318.7 191.25,318.6 191.00,318.5 190.75,318.5 190.50,318.6 190.25,318.7 190.00,318.7 189.75,318.8 189.50,318.8 189.25,318.8 189.00,318.8 188.75,318.9 188.50,318.8 188.25,318.8 188.00,318.8 187.75,318.7 187.50,318.5 187.25,318.4 187.00,318.2 186.75,318.1 186.50,317.9 186.25,317.8 186.00,317.7 185.75,317.6 185.50,317.5 185.25,317.5 185.00,317.4 184.75,317.4 184.50,317.3 184.25,317.2 184.00,317.0 183.75,316.9 183.50,316.7 183.25,316.6 183.00,316.6 182.75,316.6 182.50,316.7 182.25,317.0 182.00,317.2 181.75,317.5 181.50,317.6 181.25,317.7 181.00,317.7 180.75,317.6 180.50,317.5 180.25,317.2 180.00,317.0 179.75,316.8 179.50,316.7 179.25,316.8 179.00,316.9 178.75,317.1 178.50,317.2 178.25,317.2 178.00,317.2 177.75,317.1 177.50,316.9 177.25,316.7 177.00,316.6 176.75,316.6 176.50,316.7 176.25,316.8 176.00,316.8 175.75,316.6 175.50,316.3 175.25,315.9 175.00,315.4 174.75,315.0 174.50,314.7 174.25,314.7 174.00,314.8 173.75,315.2 173.50,315.5 173.25,315.9 173.00,316.1 172.75,316.2 172.50,316.3 172.25,316.3 172.00,316.2 171.75,316.2 171.50,316.1 171.25,316.0 171.00,316.0 170.75,315.9 170.50,315.9 170.25,315.8 170.00,315.7 169.75,315.6 169.50,315.5 169.25,315.3 169.00,315.1 168.75,314.9 168.50,314.6 168.25,314.4 168.00,314.1 167.75,314.0 167.50,314.0 167.25,314.0 167.00,314.1 166.75,314.1 166.50,314.2 166.25,314.2 166.00,314.2 165.75,314.1 165.50,314.0 165.25,313.7 165.00,313.4 164.75,313.1 164.50,312.9 164.25,312.9 164.00,313.0 163.75,313.1 163.50,313.2 163.25,313.3 163.00,313.4 162.75,313.4 162.50,313.5 162.25,313.5 162.00,313.5 161.75,313.3 161.50,313.1 161.25,312.6 161.00,311.9 160.75,311.3 160.50,310.7 160.25,310.3 160.00,310.1 159.75,310.1 159.50,310.2 159.25,310.2 159.00,310.3 158.75,310.3 158.50,310.3 158.25,310.3 158.00,310.3 157.75,310.1 157.50,310.0 157.25,309.7 157.00,309.4 156.75,309.2 156.50,309.0 156.25,308.9 156.00,309.0 155.75,309.3 155.50,309.6 155.25,310.0 155.00,310.3 154.75,310.6 154.50,310.7 154.25,310.7 154.00,310.6 153.75,310.4 153.50,310.1 153.25,309.6 153.00,309.3 152.75,309.0 152.50,308.8 152.25,308.8 152.00,308.9 151.75,308.9 151.50,308.9 151.25,308.9 151.00,308.9 150.75,308.7 150.50,308.6 150.25,308.3 150.00,307.9 149.75,307.3 149.50,306.8 149.25,306.3 149.00,305.9 148.75,305.7 148.50,305.6 148.25,305.6 148.00,305.6 147.75,305.6 147.50,305.5 147.25,305.5 147.00,305.5 146.75,305.5 146.50,305.5 146.25,305.5 146.00,305.4 145.75,305.3 145.50,305.1 145.25,304.9 145.00,304.7 144.75,304.5 144.50,304.2 144.25,303.8 144.00,303.4 143.75,303.1 143.50,302.7 143.25,302.5 143.00,302.3 142.75,302.2 142.50,302.2 142.25,302.2 142.00,302.3 141.75,302.4 141.50,302.4 141.25,302.4 141.00,302.3 140.75,302.2 140.50,301.9 140.25,301.6 140.00,301.3 139.75,301.0 139.50,300.7 139.25,300.5 139.00,300.2 138.75,300.0 138.50,299.8 138.25,299.7 138.00,299.7 137.75,299.8 137.50,299.8 137.25,299.8 137.00,299.8 136.75,299.8 136.50,299.8 136.25,299.8 136.00,299.9 135.75,300.0 135.50,300.2 135.25,300.3 135.00,300.4 134.75,300.4 134.50,300.4 134.25,300.2 134.00,300.0 133.75,299.7 133.50,299.5 133.25,299.3 133.00,299.1 132.75,299.0 132.50,298.9 132.25,298.8 132.00,298.7 131.75,298.5 131.50,298.4 131.25,298.4 131.00,298.3 130.75,298.3 130.50,298.2 130.25,298.0 130.00,297.9 129.75,297.6 129.50,297.4 129.25,297.0 129.00,296.7 128.75,296.4 128.50,296.2 128.25,296.1 128.00,296.2 127.75,296.3 127.50,296.4 127.25,296.5 127.00,296.6 126.75,296.8 126.50,296.9 126.25,297.1 126.00,297.2 125.75,297.2 125.50,297.1 125.25,297.0 125.00,296.8 124.75,296.4 124.50,296.0 124.25,295.6 124.00,295.4 123.75,295.4 123.50,295.5 123.25,295.7 123.00,295.9 122.75,296.0 122.50,296.0 122.25,296.0 122.00,296.0 121.75,295.9 121.50,295.7 121.25,295.6 121.00,295.4 120.75,295.3 120.50,295.2 120.25,295.0 120.00,294.8 119.75,294.5 119.50,294.2 119.25,293.9 119.00,293.7 118.75,293.5 118.50,293.3 118.25,293.2 118.00,293.1 117.75,293.0 117.50,292.9 117.25,292.7 117.00,292.6 116.75,292.3 116.50,292.0 116.25,291.6 116.00,291.3 115.75,291.1 115.50,290.9 115.25,290.7 115.00,290.5 114.75,290.3 114.50,290.0 114.25,289.8 114.00,289.6 113.75,289.5 113.50,289.5 113.25,289.5 113.00,289.7 112.75,289.9 112.50,290.2 112.25,290.4 112.00,290.5 111.75,290.5 111.50,290.4 111.25,290.2 111.00,289.7 110.75,289.1 110.50,288.5 110.25,288.0 110.00,287.6 109.75,287.3 109.50,287.1 109.25,287.0 109.00,286.8 108.75,286.6 108.50,286.5 108.25,286.5 108.00,286.5 107.75,286.7 107.50,286.9 107.25,287.1 107.00,287.3 106.75,287.4 106.50,287.4 106.25,287.4 106.00,287.3 105.75,287.3 105.50,287.2 105.25,287.1 105.00,287.0 104.75,286.8 104.50,286.6 104.25,286.1 104.00,285.5 103.75,284.7 103.50,283.9 103.25,283.1 103.00,282.5 102.75,282.1 102.50,282.1 102.25,282.3 102.00,282.9 101.75,283.5 101.50,284.1 101.25,284.5 101.00,284.8 100.75,284.8 100.50,284.8 100.25,284.6 100.00,284.4 99.75,284.0 99.50,283.6 99.25,283.3 99.00,283.0 98.75,282.9 98.50,282.7 98.25,282.7 98.00,282.6 97.75,282.5 97.50,282.4 97.25,282.2 97.00,282.1 96.75,282.0 96.50,281.9 96.25,281.9 96.00,281.8 95.75,281.8 95.50,281.7 95.25,281.5 95.00,281.1 94.75,280.6 94.50,280.0 94.25,279.5 94.00,279.1 93.75,279.0 93.50,279.2 93.25,279.6 93.00,280.1 92.75,280.5 92.50,280.8 92.25,281.0 92.00,281.0 91.75,280.8 91.50,280.4 91.25,280.0 91.00,279.5 90.75,279.2 90.50,279.0 90.25,279.0 90.00,279.1 89.75,279.1 89.50,279.1 89.25,279.0 89.00,278.8 88.75,278.5 88.50,278.2 88.25,277.8 88.00,277.5 87.75,277.3 87.50,277.2 87.25,277.2 87.00,277.1 86.75,277.0 86.50,277.0 86.25,276.8 86.00,276.7 85.75,276.4 85.50,276.1 85.25,275.8 85.00,275.5 84.75,275.4 84.50,275.4 84.25,275.5 84.00,275.6 83.75,275.7 83.50,275.9 83.25,276.0 83.00,276.1 82.75,276.2 82.50,276.2 82.25,276.1 82.00,275.9 81.75,275.6 81.50,275.4 81.25,275.1 81.00,274.9 80.75,274.8 80.50,274.7 80.25,274.7 80.00,274.7 79.75,274.6 79.50,274.6 79.25,274.6 79.00,274.6 78.75,274.5 78.50,274.3 78.25,274.1 78.00,273.9 77.75,273.7 77.50,273.6 77.25,273.4 77.00,273.2 76.75,272.9 76.50,272.5 76.25,272.1 76.00,271.7 75.75,271.4 75.50,271.2 75.25,271.1 75.00,271.1 74.75,271.2 74.50,271.3 74.25,271.6 74.00,271.9 73.75,272.2 73.50,272.4 73.25,272.5 73.00,272.5 72.75,272.4 72.50,272.2 72.25,272.0 72.00,271.7 71.75,271.4 71.50,271.1 71.25,270.9 71.00,270.8 70.75,270.7 70.50,270.6 70.25,270.5 70.00,270.4 69.75,270.3 69.50,270.3 69.25,270.3 69.00,270.3 68.75,270.3 68.50,270.3 68.25,270.3 68.00,270.3 67.75,270.4 67.50,270.5 67.25,270.7 67.00,270.9 66.75,271.1 66.50,271.3 66.25,271.4 66.00,271.4 65.75,271.4 65.50,271.2 65.25,270.9 65.00,270.5 64.75,270.0 64.50,269.7 64.25,269.5 64.00,269.6 63.75,269.8 63.50,270.1 63.25,270.3 63.00,270.5 62.75,270.6 62.50,270.9 62.25,271.2 62.00,271.5 61.75,272.0 61.50,272.3 61.25,272.6 61.00,272.8 60.75,272.9 60.50,272.9 60.25,272.8 60.00,272.7 59.75,272.4 59.50,272.1 59.25,271.8 59.00,271.6 58.75,271.4 58.50,271.3 58.25,271.2 58.00,271.2 57.75,271.2 57.50,271.2 57.25,271.3 57.00,271.5 56.75,271.8 56.50,272.3 56.25,272.7 56.00,273.2 55.75,273.5 55.50,273.7 55.25,273.8 55.00,273.8 54.75,273.9 54.50,273.9 54.25,273.9 54.00,273.9 53.75,273.9 53.50,273.8 53.25,273.7 53.00,273.5 52.75,273.3 52.50,273.0 52.25,272.9 52.00,272.9 51.75,273.1 51.50,273.5 51.25,273.8 51.00,274.0 50.75,274.0 50.50,273.9 50.25,273.6 50.00,273.1 49.75,272.6 49.50,272.2 49.25,272.0 49.00,272.0 48.75,272.1 48.50,272.4 48.25,272.7 48.00,273.0 47.75,273.4 47.50,273.7 47.25,274.1 47.00,274.4 46.75,274.6 46.50,274.7 46.25,274.7 46.00,274.6 45.75,274.4 45.50,274.2Z" fill="#ff0000"/><path d="M45.5,267.9 46.0,267.9 46.5,267.8 47.0,267.8 47.5,267.7 48.0,267.7 48.5,267.6 49.0,267.6 49.5,267.5 50.0,267.5 50.5,267.4 51.0,267.3 51.5,267.3 52.0,267.2 52.5,267.2 53.0,267.1 53.5,267.0 54.0,267.0 54.5,266.9 55.0,266.8 55.5,266.8 56.0,266.7 56.5,266.6 57.0,266.6 57.5,266.5 58.0,266.4 58.5,266.3 59.0,266.3 59.5,266.2 60.0,266.1 60.5,266.0 61.0,266.0 61.5,265.9 62.0,265.8 62.5,265.7 63.0,265.6 63.5,265.6 64.0,265.5 64.5,265.4 65.0,265.3 65.5,265.2 66.0,265.1 66.5,265.0 67.0,264.9 67.5,264.9 68.0,264.9 68.5,264.9 69.0,264.9 69.5,264.9 70.0,265.0 70.5,265.0 71.0,265.1 71.5,265.2 72.0,265.4 72.5,265.5 73.0,265.7 73.5,265.8 74.0,266.0 74.5,266.1 75.0,266.3 75.5,266.4 76.0,266.6 76.5,266.7 77.0,266.9 77.5,267.1 78.0,267.3 78.5,267.5 79.0,267.7 79.5,267.9 80.0,268.1 80.5,268.3 81.0,268.6 81.5,268.8 82.0,269.1 82.5,269.4 83.0,269.7 83.5,269.9 84.0,270.2 84.5,270.5 85.0,270.8 85.5,271.0 86.0,271.3 86.5,271.6 87.0,271.9 87.5,272.1 88.0,272.4 88.5,272.6 89.0,272.9 89.5,273.1 90.0,273.4 90.5,273.6 91.0,273.9 91.5,274.1 92.0,274.3 92.5,274.5 93.0,274.8 93.5,275.0 94.0,275.2 94.5,275.4 95.0,275.7 95.5,275.9 96.0,276.1 96.5,276.3 97.0,276.6 97.5,276.8 98.0,277.0 98.5,277.3 99.0,277.5 99.5,277.7 100.0,278.0 100.5,278.2 101.0,278.5 101.5,278.7 102.0,279.0 102.5,279.2 103.0,279.5 103.5,279.7 104.0,280.0 104.5,280.2 105.0,280.5 105.5,280.7 106.0,281.0 106.5,281.2 107.0,281.5 107.5,281.7 108.0,282.0 108.5,282.2 109.0,282.5 109.5,282.8 110.0,283.0 110.5,283.3 111.0,283.6 111.5,283.8 112.0,284.1 112.5,284.4 113.0,284.7 113.5,284.9 114.0,285.2 114.5,285.5 115.0,285.8 115.5,286.0 116.0,286.3 116.5,286.6 117.0,286.9 117.5,287.1 118.0,287.4 118.5,287.6 119.0,287.9 119.5,288.1 120.0,288.3 120.5,288.5 121.0,288.8 121.5,289.0 122.0,289.2 122.5,289.4 123.0,289.6 123.5,289.8 124.0,290.0 124.5,290.2 125.0,290.4 125.5,290.6 126.0,290.8 126.5,291.0 127.0,291.2 127.5,291.4 128.0,291.6 128.5,291.7 129.0,291.9 129.5,292.1 130.0,292.3 130.5,292.5 131.0,292.7 131.5,292.9 132.0,293.0 132.5,293.2 133.0,293.4 133.5,293.6 134.0,293.7 134.5,293.9 135.0,294.1 135.5,294.3 136.0,294.4 136.5,294.6 137.0,294.8 137.5,295.0 138.0,295.2 138.5,295.5 139.0,295.7 139.5,296.0 140.0,296.3 140.5,296.6 141.0,296.9 141.5,297.2 142.0,297.5 142.5,297.9 143.0,298.2 143.5,298.5 144.0,298.8 144.5,299.1 145.0,299.4 145.5,299.7 146.0,300.0 146.5,300.3 147.0,300.6 147.5,300.9 148.0,301.1 148.5,301.4 149.0,301.7 149.5,301.9 150.0,302.2 150.5,302.5 151.0,302.7 151.5,303.0 152.0,303.3 152.5,303.5 153.0,303.8 153.5,304.0 154.0,304.2 154.5,304.5 155.0,304.7 155.5,304.9 156.0,305.1 156.5,305.3 157.0,305.5 157.5,305.6 158.0,305.8 158.5,306.0 159.0,306.2 159.5,306.4 160.0,306.5 160.5,306.7 161.0,306.9 161.5,307.1 162.0,307.2 162.5,307.4 163.0,307.6 163.5,307.7 164.0,307.9 164.5,308.0 165.0,308.2 165.5,308.3 166.0,308.5 166.5,308.6 167.0,308.7 167.5,308.9 168.0,309.0 168.5,309.1 169.0,309.2 169.5,309.4 170.0,309.5 170.5,309.6 171.0,309.7 171.5,309.9 172.0,310.0 172.5,310.1 173.0,310.2 173.5,310.3 174.0,310.4 174.5,310.5 175.0,310.6 175.5,310.7 176.0,310.8 176.5,310.9 177.0,311.0 177.5,311.1 178.0,311.2 178.5,311.2 179.0,311.3 179.5,311.4 180.0,311.5 180.5,311.6 181.0,311.7 181.5,311.7 182.0,311.8 182.5,311.9 183.0,312.0 183.5,312.1 184.0,312.2 184.5,312.2 185.0,312.3 185.5,312.4 186.0,312.5 186.5,312.6 187.0,312.7 187.5,312.7 188.0,312.8 188.5,312.9 189.0,312.9 189.5,313.0 190.0,313.1 190.5,313.1 191.0,313.2 191.5,313.2 192.0,313.3 192.5,313.3 193.0,313.4 193.5,313.4 194.0,313.5 194.5,313.5 195.0,313.6 195.5,313.6 196.0,313.6 196.5,313.7 197.0,313.7 197.5,313.8 198.0,313.8 198.5,313.9 199.0,313.9 199.5,314.0 200.0,314.0 200.5,314.1 201.0,314.1 201.5,314.2 202.0,314.2 202.5,314.3 203.0,314.3 203.5,314.4 204.0,314.4 204.5,314.5 205.0,314.5 205.5,314.6 206.0,314.6 206.5,314.7 207.0,314.8 207.5,314.8 208.0,314.9 208.5,314.9 209.0,315.0 209.5,315.1 210.0,315.1 210.5,315.2 211.0,315.2 211.5,315.3 212.0,315.4 212.5,315.4 213.0,315.5 213.5,315.5 214.0,315.6 214.5,315.7 215.0,315.7 215.5,315.8 216.0,315.8 216.5,315.9 217.0,316.0 217.5,316.0 218.0,316.1 218.5,316.1 219.0,316.2 219.5,316.3 220.0,316.3 220.5,316.4 221.0,316.5 221.5,316.5 222.0,316.6 222.5,316.7 223.0,316.8 223.5,316.8 224.0,316.9 224.5,317.0 225.0,317.0 225.5,317.1 226.0,317.2 226.5,317.2 227.0,317.3 227.5,317.4 228.0,317.5 228.5,317.5 229.0,317.6 229.5,317.7 230.0,317.7 230.5,317.8 231.0,317.9 231.5,317.9 232.0,318.0 232.5,318.1 233.0,318.2 233.5,318.2 234.0,318.3 234.5,318.4 235.0,318.4 235.5,318.5 236.0,318.6 236.5,318.6 237.0,318.7 237.5,318.8 238.0,318.9 238.5,318.9 239.0,319.0 239.5,319.1 240.0,319.1 240.5,319.2 241.0,319.3 241.5,319.3 242.0,319.4 242.5,319.5 243.0,319.5 243.5,319.5 244.0,319.6 244.5,319.6 245.0,319.6 245.5,319.7 246.0,319.7 246.5,319.7 247.0,319.7 247.5,319.7 248.0,319.7 248.5,319.7 249.0,319.7 249.5,319.7 250.0,319.7 250.5,319.7 251.0,319.7 251.5,319.7 252.0,319.7 252.5,319.7 253.0,319.7 253.5,319.7 254.0,319.7 254.5,319.6 255.0,319.6 255.5,319.6 256.0,319.6 256.5,319.6 257.0,319.6 257.5,319.6 258.0,319.6 258.5,319.6 259.0,319.6 259.5,319.6 260.0,319.6 260.5,319.6 261.0,319.6 261.5,319.6 262.0,319.6 262.5,319.6 263.0,319.6 263.5,319.6 264.0,319.6 264.5,319.6 265.0,319.6 265.5,319.6 266.0,319.6 266.5,319.6 267.0,319.6 267.5,319.6 268.0,319.6 268.5,319.6 269.0,319.6 269.5,319.6 270.0,319.6 270.5,319.6 271.0,319.6 271.5,319.6 272.0,319.6 272.5,319.6 273.0,319.6 273.5,319.6 274.0,319.6 274.5,319.5 275.0,319.5 275.5,319.5 276.0,319.5 276.5,319.5 277.0,319.5 277.5,319.5 278.0,319.5 278.5,319.5 279.0,319.5 279.5,319.5 280.0,319.5 280.5,319.5 281.0,319.5 281.5,319.5 282.0,319.5 282.5,319.5 283.0,319.5 283.5,319.5 284.0,319.5 284.5,319.5 285.0,319.5 285.5,319.5 286.0,319.5 286.5,319.5 287.0,319.5 287.5,319.5 288.0,319.5 288.5,319.6 289.0,319.6 289.5,319.6 290.0,319.6 290.5,319.6 291.0,319.6 291.5,319.6 292.0,319.6 292.5,319.6 293.0,319.6 293.5,319.6 294.0,319.6 294.5,319.6 295.0,319.6 295.5,319.6 296.0,319.6 296.5,319.6 297.0,319.7 297.5,319.7 298.0,319.7 298.5,319.7 299.0,319.7 299.5,319.7 300.0,319.7 300.5,319.7 301.0,319.7 301.5,319.7 302.0,319.7 302.5,319.7 303.0,319.7 303.5,319.7 304.0,319.7 304.5,319.7 305.0,319.7 305.5,319.8 306.0,319.8 306.5,319.8 307.0,319.8 307.5,319.8 308.0,319.8 308.5,319.8 309.0,319.8 309.5,319.8 310.0,319.8 310.5,319.8 311.0,319.8 311.5,319.8 312.0,319.8 312.5,319.8 313.0,319.8 313.5,319.8 314.0,319.8 314.5,319.9 315.0,319.9 315.5,319.9 316.0,319.9 316.5,319.9 317.0,319.9 317.5,319.9 318.0,319.9 318.5,319.9 319.0,319.9 319.5,319.9 320.0,319.9 320.5,319.9 321.0,319.9 321.5,319.9 322.0,319.9 322.5,319.9 323.0,320.0 323.5,320.0 324.0,320.0 324.5,320.0 325.0,320.0 325.5,320.0 326.0,320.0 326.5,320.0 327.0,320.0 327.5,320.0 328.0,320.0 328.5,320.0 329.0,320.0 329.5,320.0 330.0,320.0 330.5,320.0 331.0,320.0 331.5,320.1 332.0,320.1 332.5,320.1 333.0,320.1 333.5,320.1 334.0,320.1 334.5,320.1 335.0,320.1 335.5,320.1 336.0,320.1 336.5,320.1 337.0,320.1 337.5,320.1 338.0,320.1 338.5,320.1 339.0,320.1 339.5,320.1 340.0,320.2 340.5,320.2 341.0,320.2 341.5,320.2 342.0,320.2 342.5,320.2 343.0,320.2 343.5,320.2 344.0,320.2 344.5,320.3 345.0,320.3 345.5,320.3 346.0,320.3 346.5,320.3 347.0,320.4 347.5,320.4 348.0,320.4 348.5,320.5 349.0,320.5 349.5,320.5 350.0,320.6 350.5,320.6 351.0,320.6 351.5,320.6 352.0,320.7 352.5,320.7 353.0,320.7 353.5,320.8 354.0,320.8 354.5,320.8 355.0,320.9 355.5,320.9 356.0,320.9 356.5,320.9 357.0,321.0 357.5,321.0 358.0,321.0 358.5,321.1 359.0,321.1 359.5,321.1 360.0,321.2 360.5,321.2 361.0,321.2 361.5,321.2 362.0,321.3 362.5,321.3 363.0,321.3 363.5,321.4 364.0,321.4 364.5,321.4 365.0,321.5 365.5,321.5 366.0,321.5 366.5,321.5 367.0,321.6 367.5,321.6 368.0,321.6 368.5,321.7 369.0,321.7 369.5,321.7 370.0,321.8 370.5,321.8 371.0,321.8 371.5,321.8 372.0,321.9 372.5,321.9 373.0,321.9 373.5,322.0 374.0,322.0 374.5,322.0 375.0,322.1 375.5,322.1 376.0,322.1 376.5,322.1 377.0,322.2 377.5,322.2 378.0,322.2 378.5,322.3 379.0,322.3 379.5,322.3 380.0,322.3 380.5,322.4 381.0,322.4 381.5,322.4 382.0,322.4 382.5,322.5 383.0,322.5 383.5,322.5 384.0,322.6 384.5,322.6 385.0,322.6 385.5,322.6 386.0,322.7 386.5,322.7 387.0,322.7 387.5,322.8 388.0,322.8 388.5,322.8 389.0,322.8 389.5,322.9 390.0,322.9 390.5,322.9 391.0,323.0 391.5,323.0 392.0,323.0 392.5,323.0 393.0,323.1 393.5,323.1 394.0,323.1 394.5,323.2 395.0,323.2 395.5,323.2 396.0,323.2 396.5,323.3 397.0,323.3 397.5,323.3 398.0,323.4 398.5,323.4 399.0,323.4 399.5,323.4 400.0,323.5 400.5,323.5 401.0,323.5 401.5,323.6 402.0,323.6 402.5,323.6 403.0,323.6 403.5,323.7 404.0,323.7 404.5,323.7 405.0,323.7 405.5,323.8 406.0,323.8 406.5,323.8 407.0,323.8 407.5,323.8 408.0,323.9 408.5,323.9 409.0,323.9 409.5,323.9 410.0,324.0 410.5,324.0 411.0,324.0 411.5,324.0 412.0,324.0 412.5,324.1 413.0,324.1 413.5,324.1 414.0,324.1 414.5,324.2 415.0,324.2 415.5,324.2 416.0,324.2 416.5,324.2 417.0,324.3 417.5,324.3 418.0,324.3 418.5,324.3 419.0,324.3 419.5,324.4 420.0,324.4 420.5,324.4 421.0,324.4 421.5,324.5 422.0,324.5 422.5,324.5 423.0,324.5 423.5,324.5 424.0,324.6 424.5,324.6 425.0,324.6 425.5,324.6 426.0,324.7 426.5,324.7 427.0,324.7 427.5,324.7 428.0,324.7 428.5,324.8 429.0,324.8 429.5,324.8 430.0,324.8 430.5,324.8 431.0,324.9 431.5,324.9 432.0,324.9 432.5,324.9 433.0,324.9 433.5,325.0 434.0,325.0 434.5,325.0 435.0,325.0 435.5,325.0 436.0,325.0 436.5,325.0 437.0,325.1 437.5,325.1 438.0,325.1 438.5,325.1 439.0,325.1 439.5,325.1 440.0,325.1 440.5,325.1 441.0,325.1 441.5,325.1 442.0,325.2 442.5,325.2 443.0,325.2 443.5,325.2 444.0,325.2 444.5,325.2 445.0,325.2 445.5,325.2 446.0,325.2 446.5,325.2 447.0,325.3 447.5,325.3 448.0,325.3 448.5,325.3 449.0,325.3 449.5,325.3" fill="none" stroke="#ff0000" stroke-width="3.0" stroke-linejoin="round"/><path d="M45.50,230.4 45.75,230.7 46.00,231.0 46.25,231.4 46.50,231.9 46.75,232.4 47.00,232.7 47.25,232.9 47.50,232.9 47.75,232.8 48.00,232.5 48.25,232.0 48.50,231.5 48.75,231.0 49.00,230.6 49.25,230.4 49.50,230.4 49.75,230.5 50.00,230.7 50.25,230.9 50.50,231.0 50.75,231.0 51.00,230.8 51.25,230.6 51.50,230.4 51.75,230.3 52.00,230.2 52.25,230.2 52.50,230.2 52.75,230.2 53.00,230.2 53.25,230.2 53.50,230.2 53.75,230.3 54.00,230.4 54.25,230.6 54.50,230.8 54.75,231.0 55.00,231.1 55.25,231.2 55.50,231.2 55.75,231.3 56.00,231.3 56.25,231.3 56.50,231.4 56.75,231.4 57.00,231.4 57.25,231.5 57.50,231.6 57.75,231.6 58.00,231.6 58.25,231.4 58.50,231.2 58.75,231.0 59.00,230.9 59.25,230.8 59.50,230.8 59.75,230.8 60.00,231.0 60.25,231.3 60.50,231.7 60.75,232.2 61.00,232.7 61.25,233.1 61.50,233.3 61.75,233.4 62.00,233.4 62.25,233.4 62.50,233.3 62.75,233.2 63.00,233.1 63.25,233.0 63.50,232.9 63.75,232.8 64.00,232.8 64.25,232.7 64.50,232.6 64.75,232.4 65.00,232.2 65.25,232.0 65.50,231.8 65.75,231.7 66.00,231.7 66.25,231.8 66.50,232.1 66.75,232.6 67.00,233.2 67.25,234.0 67.50,234.6 67.75,235.1 68.00,235.3 68.25,235.3 68.50,235.2 68.75,235.0 69.00,234.8 69.25,234.6 69.50,234.4 69.75,234.2 70.00,234.0 70.25,233.8 70.50,233.6 70.75,233.4 71.00,233.3 71.25,233.2 71.50,233.1 71.75,233.1 72.00,233.0 72.25,232.9 72.50,232.8 72.75,232.7 73.00,232.7 73.25,232.7 73.50,232.7 73.75,232.8 74.00,232.9 74.25,233.1 74.50,233.2 74.75,233.4 75.00,233.7 75.25,234.0 75.50,234.4 75.75,234.8 76.00,235.1 76.25,235.4 76.50,235.7 76.75,235.9 77.00,236.0 77.25,236.0 77.50,236.1 77.75,236.1 78.00,236.1 78.25,236.2 78.50,236.3 78.75,236.5 79.00,236.7 79.25,237.0 79.50,237.1 79.75,237.1 80.00,236.9 80.25,236.5 80.50,236.0 80.75,235.7 81.00,235.5 81.25,235.4 81.50,235.4 81.75,235.4 82.00,235.4 82.25,235.4 82.50,235.4 82.75,235.4 83.00,235.3 83.25,235.3 83.50,235.4 83.75,235.5 84.00,235.8 84.25,236.0 84.50,236.3 84.75,236.6 85.00,236.9 85.25,237.2 85.50,237.4 85.75,237.5 86.00,237.5 86.25,237.5 86.50,237.5 86.75,237.5 87.00,237.4 87.25,237.3 87.50,237.2 87.75,237.1 88.00,237.0 88.25,237.0 88.50,237.1 88.75,237.2 89.00,237.6 89.25,238.0 89.50,238.6 89.75,239.1 90.00,239.5 90.25,239.7 90.50,239.7 90.75,239.5 91.00,239.1 91.25,238.8 91.50,238.5 91.75,238.3 92.00,238.3 92.25,238.5 92.50,238.8 92.75,239.2 93.00,239.6 93.25,240.1 93.50,240.4 93.75,240.6 94.00,240.6 94.25,240.4 94.50,240.2 94.75,240.0 95.00,240.0 95.25,240.0 95.50,240.1 95.75,240.3 96.00,240.6 96.25,240.9 96.50,241.2 96.75,241.4 97.00,241.5 97.25,241.5 97.50,241.3 97.75,241.2 98.00,241.0 98.25,240.9 98.50,240.9 98.75,241.0 99.00,241.1 99.25,241.4 99.50,241.8 99.75,242.3 100.00,242.6 100.25,242.9 100.50,243.0 100.75,243.0 101.00,242.9 101.25,242.8 101.50,242.7 101.75,242.7 102.00,242.8 102.25,242.9 102.50,243.2 102.75,243.6 103.00,244.1 103.25,244.6 103.50,245.1 103.75,245.4 104.00,245.5 104.25,245.5 104.50,245.3 104.75,244.9 105.00,244.4 105.25,244.0 105.50,243.6 105.75,243.5 106.00,243.5 106.25,243.6 106.50,243.9 106.75,244.2 107.00,244.5 107.25,244.8 107.50,245.1 107.75,245.3 108.00,245.5 108.25,245.7 108.50,245.9 108.75,246.1 109.00,246.2 109.25,246.4 109.50,246.6 109.75,246.9 110.00,247.2 110.25,247.5 110.50,247.8 110.75,247.8 111.00,247.7 111.25,247.6 111.50,247.4 111.75,247.4 112.00,247.3 112.25,247.4 112.50,247.5 112.75,247.6 113.00,247.7 113.25,247.7 113.50,247.8 113.75,247.8 114.00,247.7 114.25,247.6 114.50,247.6 114.75,247.5 115.00,247.5 115.25,247.4 115.50,247.4 115.75,247.4 116.00,247.3 116.25,247.2 116.50,247.1 116.75,247.0 117.00,246.9 117.25,246.9 117.50,246.8 117.75,246.9 118.00,247.0 118.25,247.2 118.50,247.4 118.75,247.5 119.00,247.6 119.25,247.6 119.50,247.5 119.75,247.5 120.00,247.6 120.25,247.8 120.50,248.1 120.75,248.5 121.00,249.0 121.25,249.5 121.50,249.8 121.75,250.1 122.00,250.2 122.25,250.3 122.50,250.2 122.75,250.1 123.00,250.0 123.25,249.8 123.50,249.6 123.75,249.5 124.00,249.4 124.25,249.4 124.50,249.3 124.75,249.2 125.00,249.2 125.25,249.2 125.50,249.3 125.75,249.5 126.00,249.9 126.25,250.4 126.50,251.0 126.75,251.5 127.00,251.8 127.25,251.9 127.50,252.0 127.75,251.9 128.00,251.9 128.25,251.9 128.50,251.9 128.75,251.9 129.00,251.8 129.25,251.8 129.50,251.7 129.75,251.5 130.00,251.4 130.25,251.2 130.50,251.1 130.75,251.1 131.00,251.2 131.25,251.4 131.50,251.7 131.75,252.1 132.00,252.6 132.25,253.0 132.50,253.3 132.75,253.4 133.00,253.5 133.25,253.4 133.50,253.4 133.75,253.4 134.00,253.3 134.25,253.2 134.50,253.1 134.75,253.0 135.00,252.9 135.25,252.9 135.50,252.9 135.75,253.0 136.00,253.1 136.25,253.3 136.50,253.5 136.75,253.6 137.00,253.8 137.25,253.9 137.50,254.0 137.75,254.1 138.00,254.3 138.25,254.5 138.50,254.9 138.75,255.3 139.00,255.7 139.25,256.0 139.50,256.3 139.75,256.5 140.00,256.8 140.25,257.0 140.50,257.1 140.75,257.2 141.00,257.1 141.25,257.0 141.50,256.9 141.75,256.8 142.00,256.7 142.25,256.7 142.50,256.7 142.75,256.7 143.00,256.7 143.25,256.6 143.50,256.7 143.75,256.7 144.00,256.9 144.25,257.0 144.50,257.1 144.75,257.2 145.00,257.2 145.25,257.2 145.50,257.2 145.75,257.2 146.00,257.2 146.25,257.2 146.50,257.2 146.75,257.1 147.00,257.0 147.25,256.9 147.50,256.9 147.75,256.8 148.00,256.8 148.25,257.0 148.50,257.2 148.75,257.5 149.00,257.9 149.25,258.3 149.50,258.6 149.75,258.8 150.00,258.8 150.25,258.8 150.50,258.6 150.75,258.4 151.00,258.2 151.25,258.0 151.50,257.8 151.75,257.6 152.00,257.4 152.25,257.2 152.50,256.9 152.75,256.7 153.00,256.5 153.25,256.4 153.50,256.3 153.75,256.3 154.00,256.2 154.25,256.1 154.50,255.9 154.75,255.8 155.00,255.5 155.25,255.3 155.50,255.1 155.75,254.7 156.00,254.3 156.25,253.9 156.50,253.4 156.75,253.0 157.00,252.7 157.25,252.6 157.50,252.6 157.75,252.7 158.00,252.8 158.25,252.9 158.50,253.1 158.75,253.2 159.00,253.2 159.25,253.3 159.50,253.3 159.75,253.3 160.00,253.4 160.25,253.5 160.50,253.7 160.75,254.1 161.00,254.6 161.25,255.2 161.50,255.8 161.75,256.3 162.00,256.6 162.25,256.8 162.50,257.0 162.75,257.3 163.00,257.6 163.25,257.9 163.50,258.2 163.75,258.4 164.00,258.6 164.25,258.7 164.50,258.8 164.75,259.0 165.00,259.3 165.25,259.7 165.50,260.2 165.75,260.7 166.00,261.0 166.25,261.3 166.50,261.4 166.75,261.5 167.00,261.7 167.25,261.9 167.50,262.2 167.75,262.5 168.00,262.8 168.25,263.0 168.50,263.2 168.75,263.2 169.00,263.3 169.25,263.4 169.50,263.5 169.75,263.8 170.00,264.0 170.25,264.2 170.50,264.4 170.75,264.5 171.00,264.5 171.25,264.5 171.50,264.4 171.75,264.2 172.00,264.0 172.25,263.8 172.50,263.5 172.75,263.3 173.00,263.1 173.25,262.9 173.50,262.8 173.75,262.8 174.00,262.8 174.25,262.8 174.50,262.8 174.75,262.8 175.00,262.8 175.25,262.9 175.50,263.1 175.75,263.4 176.00,263.8 176.25,264.2 176.50,264.5 176.75,264.6 177.00,264.6 177.25,264.4 177.50,264.2 177.75,264.0 178.00,263.8 178.25,263.7 178.50,263.7 178.75,263.9 179.00,264.1 179.25,264.3 179.50,264.6 179.75,264.8 180.00,264.9 180.25,264.9 180.50,264.9 180.75,264.9 181.00,265.0 181.25,265.0 181.50,265.1 181.75,265.2 182.00,265.3 182.25,265.4 182.50,265.4 182.75,265.5 183.00,265.4 183.25,265.3 183.50,265.1 183.75,265.0 184.00,264.8 184.25,264.7 184.50,264.6 184.75,264.7 185.00,264.9 185.25,265.2 185.50,265.6 185.75,266.0 186.00,266.4 186.25,266.5 186.50,266.4 186.75,266.1 187.00,265.7 187.25,265.3 187.50,265.0 187.75,264.9 188.00,264.8 188.25,264.8 188.50,264.9 188.75,265.1 189.00,265.4 189.25,265.7 189.50,265.9 189.75,266.1 190.00,266.1 190.25,266.1 190.50,265.9 190.75,265.7 191.00,265.6 191.25,265.4 191.50,265.1 191.75,264.8 192.00,264.5 192.25,264.3 192.50,264.1 192.75,264.0 193.00,264.0 193.25,264.0 193.50,264.1 193.75,264.2 194.00,264.3 194.25,264.3 194.50,264.4 194.75,264.5 195.00,264.5 195.25,264.5 195.50,264.4 195.75,264.3 196.00,264.2 196.25,264.0 196.50,263.8 196.75,263.7 197.00,263.5 197.25,263.4 197.50,263.3 197.75,263.2 198.00,263.0 198.25,262.8 198.50,262.6 198.75,262.3 199.00,262.1 199.25,262.0 199.50,261.9 199.75,262.0 200.00,262.1 200.25,262.3 200.50,262.6 200.75,262.8 201.00,262.9 201.25,262.8 201.50,262.6 201.75,262.2 202.00,261.8 202.25,261.6 202.50,261.5 202.75,261.4 203.00,261.5 203.25,261.6 203.50,261.7 203.75,261.7 204.00,261.7 204.25,261.6 204.50,261.6 204.75,261.6 205.00,261.6 205.25,261.7 205.50,262.0 205.75,262.3 206.00,262.7 206.25,263.2 206.50,263.5 206.75,263.8 207.00,264.0 207.25,264.1 207.50,264.0 207.75,264.0 208.00,263.9 208.25,263.9 208.50,264.0 208.75,264.1 209.00,264.2 209.25,264.4 209.50,264.5 209.75,264.8 210.00,265.0 210.25,265.2 210.50,265.5 210.75,265.7 211.00,265.8 211.25,265.8 211.50,265.8 211.75,265.9 212.00,265.9 212.25,266.0 212.50,266.1 212.75,266.2 213.00,266.4 213.25,266.5 213.50,266.7 213.75,266.8 214.00,267.0 214.25,267.3 214.50,267.5 214.75,267.6 215.00,267.7 215.25,267.8 215.50,267.9 215.75,268.0 216.00,268.0 216.25,268.0 216.50,268.0 216.75,268.0 217.00,267.9 217.25,267.9 217.50,267.9 217.75,267.9 218.00,267.8 218.25,267.8 218.50,267.8 218.75,267.8 219.00,267.7 219.25,267.6 219.50,267.5 219.75,267.2 220.00,267.0 220.25,266.7 220.50,266.6 220.75,266.5 221.00,266.5 221.25,266.6 221.50,266.8 221.75,267.0 222.00,267.3 222.25,267.6 222.50,267.9 222.75,268.2 223.00,268.4 223.25,268.5 223.50,268.6 223.75,268.6 224.00,268.6 224.25,268.6 224.50,268.5 224.75,268.3 225.00,268.0 225.25,267.7 225.50,267.4 225.75,267.2 226.00,267.1 226.25,267.1 226.50,267.2 226.75,267.3 227.00,267.5 227.25,267.8 227.50,268.0 227.75,268.3 228.00,268.5 228.25,268.8 228.50,269.1 228.75,269.3 229.00,269.5 229.25,269.5 229.50,269.4 229.75,269.3 230.00,269.1 230.25,268.8 230.50,268.6 230.75,268.5 231.00,268.3 231.25,268.2 231.50,268.1 231.75,268.1 232.00,268.1 232.25,268.1 232.50,268.1 232.75,268.2 233.00,268.4 233.25,268.5 233.50,268.7 233.75,268.8 234.00,269.0 234.25,269.1 234.50,269.2 234.75,269.2 235.00,269.1 235.25,268.9 235.50,268.8 235.75,268.6 236.00,268.6 236.25,268.6 236.50,268.7 236.75,269.0 237.00,269.3 237.25,269.6 237.50,269.9 237.75,270.2 238.00,270.5 238.25,270.6 238.50,270.6 238.75,270.5 239.00,270.3 239.25,269.9 239.50,269.4 239.75,269.1 240.00,268.8 240.25,268.7 240.50,268.7 240.75,268.8 241.00,269.1 241.25,269.5 241.50,270.0 241.75,270.4 242.00,270.8 242.25,271.0 242.50,271.1 242.75,271.1 243.00,271.0 243.25,270.8 243.50,270.5 243.75,270.2 244.00,269.9 244.25,269.8 244.50,269.7 244.75,269.6 245.00,269.6 245.25,269.7 245.50,269.7 245.75,269.8 246.00,269.9 246.25,270.0 246.50,270.1 246.75,270.1 247.00,270.2 247.25,270.2 247.50,270.2 247.75,270.2 248.00,270.3 248.25,270.4 248.50,270.4 248.75,270.4 249.00,270.3 249.25,270.1 249.50,269.9 249.75,269.7 250.00,269.6 250.25,269.5 250.50,269.5 250.75,269.5 251.00,269.5 251.25,269.5 251.50,269.4 251.75,269.2 252.00,269.0 252.25,268.9 252.50,268.7 252.75,268.6 253.00,268.6 253.25,268.6 253.50,268.7 253.75,268.8 254.00,268.9 254.25,269.1 254.50,269.2 254.75,269.4 255.00,269.6 255.25,269.8 255.50,270.1 255.75,270.4 256.00,270.6 256.25,270.7 256.50,270.7 256.75,270.6 257.00,270.5 257.25,270.3 257.50,270.1 257.75,269.9 258.00,269.7 258.25,269.4 258.50,269.2 258.75,269.0 259.00,268.8 259.25,268.7 259.50,268.6 259.75,268.6 260.00,268.6 260.25,268.7 260.50,268.8 260.75,268.9 261.00,268.9 261.25,268.9 261.50,268.8 261.75,268.7 262.00,268.6 262.25,268.6 262.50,268.5 262.75,268.5 263.00,268.5 263.25,268.6 263.50,268.6 263.75,268.6 264.00,268.8 264.25,269.0 264.50,269.3 264.75,269.7 265.00,269.9 265.25,270.0 265.50,270.0 265.75,269.8 266.00,269.6 266.25,269.4 266.50,269.2 266.75,269.0 267.00,268.9 267.25,268.7 267.50,268.7 267.75,268.7 268.00,268.8 268.25,269.0 268.50,269.2 268.75,269.5 269.00,269.8 269.25,270.0 269.50,270.1 269.75,270.1 270.00,270.1 270.25,270.1 270.50,270.0 270.75,269.8 271.00,269.7 271.25,269.6 271.50,269.5 271.75,269.5 272.00,269.5 272.25,269.5 272.50,269.6 272.75,269.6 273.00,269.7 273.25,269.7 273.50,269.8 273.75,269.9 274.00,270.0 274.25,270.1 274.50,270.2 274.75,270.3 275.00,270.3 275.25,270.2 275.50,270.0 275.75,269.9 276.00,269.7 276.25,269.6 276.50,269.5 276.75,269.4 277.00,269.4 277.25,269.3 277.50,269.3 277.75,269.2 278.00,269.2 278.25,269.1 278.50,269.1 278.75,269.0 279.00,268.9 279.25,268.9 279.50,268.9 279.75,268.9 280.00,269.0 280.25,269.1 280.50,269.4 280.75,269.6 281.00,269.8 281.25,269.9 281.50,269.9 281.75,269.8 282.00,269.5 282.25,269.3 282.50,269.1 282.75,268.9 283.00,268.8 283.25,268.8 283.50,268.7 283.75,268.8 284.00,268.8 284.25,268.8 284.50,268.8 284.75,268.9 285.00,268.9 285.25,268.9 285.50,269.0 285.75,269.1 286.00,269.2 286.25,269.4 286.50,269.6 286.75,269.7 287.00,269.8 287.25,269.8 287.50,269.7 287.75,269.4 288.00,269.2 288.25,268.9 288.50,268.7 288.75,268.6 289.00,268.6 289.25,268.6 289.50,268.5 289.75,268.5 290.00,268.5 290.25,268.6 290.50,268.6 290.75,268.8 291.00,269.1 291.25,269.5 291.50,269.8 291.75,270.1 292.00,270.3 292.25,270.2 292.50,270.0 292.75,269.8 293.00,269.5 293.25,269.4 293.50,269.2 293.75,269.1 294.00,269.0 294.25,268.8 294.50,268.7 294.75,268.6 295.00,268.5 295.25,268.4 295.50,268.4 295.75,268.5 296.00,268.5 296.25,268.6 296.50,268.8 296.75,268.9 297.00,269.0 297.25,269.0 297.50,269.0 297.75,269.0 298.00,269.0 298.25,269.0 298.50,269.0 298.75,269.0 299.00,268.9 299.25,268.8 299.50,268.7 299.75,268.6 300.00,268.5 300.25,268.4 300.50,268.3 300.75,268.4 301.00,268.4 301.25,268.6 301.50,268.7 301.75,268.9 302.00,269.1 302.25,269.2 302.50,269.3 302.75,269.4 303.00,269.4 303.25,269.4 303.50,269.4 303.75,269.4 304.00,269.4 304.25,269.4 304.50,269.4 304.75,269.4 305.00,269.4 305.25,269.4 305.50,269.3 305.75,269.1 306.00,268.9 306.25,268.7 306.50,268.5 306.75,268.4 307.00,268.4 307.25,268.5 307.50,268.8 307.75,269.1 308.00,269.5 308.25,269.9 308.50,270.2 308.75,270.4 309.00,270.5 309.25,270.6 309.50,270.6 309.75,270.7 310.00,270.8 310.25,270.8 310.50,270.7 310.75,270.5 311.00,270.3 311.25,270.2 311.50,270.0 311.75,269.9 312.00,269.8 312.25,269.7 312.50,269.6 312.75,269.6 313.00,269.5 313.25,269.5 313.50,269.4 313.75,269.3 314.00,269.0 314.25,268.7 314.50,268.5 314.75,268.3 315.00,268.2 315.25,268.1 315.50,268.1 315.75,268.1 316.00,268.1 316.25,268.1 316.50,268.1 316.75,268.1 317.00,268.1 317.25,268.0 317.50,268.0 317.75,268.0 318.00,268.0 318.25,268.0 318.50,268.1 318.75,268.1 319.00,268.2 319.25,268.4 319.50,268.7 319.75,269.0 320.00,269.2 320.25,269.4 320.50,269.6 320.75,269.7 321.00,269.7 321.25,269.7 321.50,269.6 321.75,269.5 322.00,269.4 322.25,269.3 322.50,269.2 322.75,269.1 323.00,268.9 323.25,268.7 323.50,268.5 323.75,268.3 324.00,268.1 324.25,268.1 324.50,268.1 324.75,268.3 325.00,268.5 325.25,268.9 325.50,269.3 325.75,269.7 326.00,269.9 326.25,269.9 326.50,269.9 326.75,269.8 327.00,269.7 327.25,269.6 327.50,269.5 327.75,269.5 328.00,269.5 328.25,269.5 328.50,269.4 328.75,269.3 329.00,269.2 329.25,269.1 329.50,269.0 329.75,268.9 330.00,268.8 330.25,268.8 330.50,268.8 330.75,268.8 331.00,268.8 331.25,268.8 331.50,268.6 331.75,268.5 332.00,268.4 332.25,268.3 332.50,268.3 332.75,268.3 333.00,268.4 333.25,268.5 333.50,268.6 333.75,268.7 334.00,268.8 334.25,268.9 334.50,269.0 334.75,269.1 335.00,269.3 335.25,269.5 335.50,269.8 335.75,270.1 336.00,270.3 336.25,270.5 336.50,270.5 336.75,270.5 337.00,270.3 337.25,270.0 337.50,269.6 337.75,269.2 338.00,268.9 338.25,268.6 338.50,268.5 338.75,268.5 339.00,268.5 339.25,268.5 339.50,268.5 339.75,268.5 340.00,268.6 340.25,268.6 340.50,268.7 340.75,268.7 341.00,268.8 341.25,268.8 341.50,268.8 341.75,268.8 342.00,268.9 342.25,268.9 342.50,268.9 342.75,268.9 343.00,268.9 343.25,268.9 343.50,268.8 343.75,268.8 344.00,268.7 344.25,268.7 344.50,268.7 344.75,268.8 345.00,268.9 345.25,269.1 345.50,269.3 345.75,269.5 346.00,269.6 346.25,269.7 346.50,269.6 346.75,269.5 347.00,269.4 347.25,269.2 347.50,269.0 347.75,268.9 348.00,268.9 348.25,268.9 348.50,268.9 348.75,269.1 349.00,269.3 349.25,269.5 349.50,269.7 349.75,269.8 350.00,269.9 350.25,270.0 350.50,270.0 350.75,270.0 351.00,270.0 351.25,270.0 351.50,269.9 351.75,269.9 352.00,269.7 352.25,269.6 352.50,269.5 352.75,269.4 353.00,269.3 353.25,269.2 353.50,269.2 353.75,269.1 354.00,269.1 354.25,269.1 354.50,269.2 354.75,269.3 355.00,269.5 355.25,269.7 355.50,269.9 355.75,270.1 356.00,270.2 356.25,270.2 356.50,270.2 356.75,270.2 357.00,270.2 357.25,270.1 357.50,270.0 357.75,269.9 358.00,269.7 358.25,269.5 358.50,269.4 358.75,269.3 359.00,269.3 359.25,269.3 359.50,269.4 359.75,269.4 360.00,269.5 360.25,269.5 360.50,269.5 360.75,269.5 361.00,269.5 361.25,269.5 361.50,269.5 361.75,269.5 362.00,269.6 362.25,269.6 362.50,269.6 362.75,269.7 363.00,269.7 363.25,269.7 363.50,269.7 363.75,269.7 364.00,269.8 364.25,269.9 364.50,270.1 364.75,270.2 365.00,270.3 365.25,270.4 365.50,270.4 365.75,270.3 366.00,270.2 366.25,270.2 366.50,270.2 366.75,270.2 367.00,270.2 367.25,270.2 367.50,270.2 367.75,270.3 368.00,270.4 368.25,270.4 368.50,270.5 368.75,270.5 369.00,270.5 369.25,270.5 369.50,270.4 369.75,270.4 370.00,270.2 370.25,270.1 370.50,270.0 370.75,269.9 371.00,269.9 371.25,269.9 371.50,269.9 371.75,270.0 372.00,270.1 372.25,270.2 372.50,270.3 372.75,270.3 373.00,270.4 373.25,270.5 373.50,270.6 373.75,270.7 374.00,270.8 374.25,270.9 374.50,271.0 374.75,271.1 375.00,271.1 375.25,271.1 375.50,271.0 375.75,270.9 376.00,270.8 376.25,270.6 376.50,270.5 376.75,270.4 377.00,270.3 377.25,270.2 377.50,270.1 377.75,270.1 378.00,270.1 378.25,270.1 378.50,270.2 378.75,270.3 379.00,270.4 379.25,270.5 379.50,270.5 379.75,270.5 380.00,270.4 380.25,270.3 380.50,270.2 380.75,270.2 381.00,270.2 381.25,270.2 381.50,270.2 381.75,270.3 382.00,270.4 382.25,270.5 382.50,270.7 382.75,270.9 383.00,271.0 383.25,271.2 383.50,271.3 383.75,271.4 384.00,271.4 384.25,271.4 384.50,271.3 384.75,271.1 385.00,270.9 385.25,270.7 385.50,270.6 385.75,270.5 386.00,270.4 386.25,270.4 386.50,270.4 386.75,270.4 387.00,270.4 387.25,270.4 387.50,270.5 387.75,270.6 388.00,270.7 388.25,270.8 388.50,271.0 388.75,271.2 389.00,271.3 389.25,271.4 389.50,271.5 389.75,271.5 390.00,271.6 390.25,271.7 390.50,271.8 390.75,271.8 391.00,271.7 391.25,271.6 391.50,271.3 391.75,271.1 392.00,270.9 392.25,270.8 392.50,270.7 392.75,270.7 393.00,270.7 393.25,270.8 393.50,270.8 393.75,270.9 394.00,270.9 394.25,270.9 394.50,270.8 394.75,270.7 395.00,270.7 395.25,270.6 395.50,270.6 395.75,270.6 396.00,270.6 396.25,270.7 396.50,270.7 396.75,270.7 397.00,270.8 397.25,270.9 397.50,270.9 397.75,271.0 398.00,271.1 398.25,271.2 398.50,271.3 398.75,271.4 399.00,271.4 399.25,271.3 399.50,271.1 399.75,270.9 400.00,270.7 400.25,270.6 400.50,270.6 400.75,270.6 401.00,270.6 401.25,270.7 401.50,270.7 401.75,270.7 402.00,270.7 402.25,270.7 402.50,270.7 402.75,270.7 403.00,270.6 403.25,270.6 403.50,270.6 403.75,270.6 404.00,270.6 404.25,270.6 404.50,270.7 404.75,270.9 405.00,271.1 405.25,271.3 405.50,271.6 405.75,271.7 406.00,271.7 406.25,271.6 406.50,271.4 406.75,271.3 407.00,271.2 407.25,271.1 407.50,271.0 407.75,271.0 408.00,271.0 408.25,270.9 408.50,270.9 408.75,270.8 409.00,270.8 409.25,270.8 409.50,270.8 409.75,270.8 410.00,271.0 410.25,271.1 410.50,271.4 410.75,271.6 411.00,271.7 411.25,271.9 411.50,272.0 411.75,272.1 412.00,272.1 412.25,272.1 412.50,272.0 412.75,271.9 413.00,271.7 413.25,271.6 413.50,271.5 413.75,271.4 414.00,271.3 414.25,271.3 414.50,271.2 414.75,271.1 415.00,271.0 415.25,271.0 415.50,270.9 415.75,271.0 416.00,271.1 416.25,271.2 416.50,271.4 416.75,271.7 417.00,271.9 417.25,272.0 417.50,272.1 417.75,272.2 418.00,272.2 418.25,272.2 418.50,272.1 418.75,272.1 419.00,272.0 419.25,271.8 419.50,271.6 419.75,271.4 420.00,271.3 420.25,271.3 420.50,271.3 420.75,271.3 421.00,271.4 421.25,271.4 421.50,271.5 421.75,271.5 422.00,271.4 422.25,271.4 422.50,271.5 422.75,271.5 423.00,271.7 423.25,271.8 423.50,271.9 423.75,272.0 424.00,272.0 424.25,271.9 424.50,271.9 424.75,271.8 425.00,271.8 425.25,271.8 425.50,271.8 425.75,271.8 426.00,271.7 426.25,271.7 426.50,271.6 426.75,271.5 427.00,271.4 427.25,271.3 427.50,271.3 427.75,271.3 428.00,271.3 428.25,271.3 428.50,271.3 428.75,271.3 429.00,271.3 429.25,271.3 429.50,271.3 429.75,271.3 430.00,271.3 430.25,271.3 430.50,271.4 430.75,271.4 431.00,271.5 431.25,271.7 431.50,271.9 431.75,272.1 432.00,272.2 432.25,272.3 432.50,272.2 432.75,272.1 433.00,271.9 433.25,271.8 433.50,271.8 433.75,271.7 434.00,271.7 434.25,271.8 434.50,271.8 434.75,271.7 435.00,271.7 435.25,271.6 435.50,271.6 435.75,271.5 436.00,271.5 436.25,271.5 436.50,271.5 436.75,271.6 437.00,271.6 437.25,271.6 437.50,271.6 437.75,271.6 438.00,271.6 438.25,271.6 438.50,271.6 438.75,271.6 439.00,271.6 439.25,271.6 439.50,271.7 439.75,271.7 440.00,271.8 440.25,271.8 440.50,271.8 440.75,271.8 441.00,271.9 441.25,271.9 441.50,271.9 441.75,271.9 442.00,272.0 442.25,272.1 442.50,272.2 442.75,272.4 443.00,272.6 443.25,272.7 443.50,272.8 443.75,272.8 444.00,272.7 444.25,272.6 444.50,272.5 444.75,272.3 445.00,272.2 445.25,272.2 445.50,272.2 445.75,272.3 446.00,272.4 446.25,272.6 446.50,272.7 446.75,272.7 447.00,272.6 447.25,272.5 447.50,272.4 447.75,272.4 448.00,272.3 448.25,272.3 448.50,272.3 448.75,272.2 449.00,272.1 449.25,272.1 449.50,272.0 L449.50,279.7 449.25,279.7 449.00,279.7 448.75,279.7 448.50,279.7 448.25,279.6 448.00,279.5 447.75,279.4 447.50,279.3 447.25,279.2 447.00,279.1 446.75,279.0 446.50,279.0 446.25,279.0 446.00,279.0 445.75,279.1 445.50,279.3 445.25,279.4 445.00,279.5 444.75,279.6 444.50,279.6 444.25,279.6 444.00,279.5 443.75,279.4 443.50,279.3 443.25,279.2 443.00,279.1 442.75,279.1 442.50,279.1 442.25,279.2 442.00,279.2 441.75,279.2 441.50,279.1 441.25,279.1 441.00,279.0 440.75,278.9 440.50,278.8 440.25,278.8 440.00,278.7 439.75,278.7 439.50,278.6 439.25,278.6 439.00,278.6 438.75,278.7 438.50,278.7 438.25,278.7 438.00,278.7 437.75,278.8 437.50,278.9 437.25,279.0 437.00,279.1 436.75,279.2 436.50,279.2 436.25,279.1 436.00,279.1 435.75,279.0 435.50,279.0 435.25,279.0 435.00,279.1 434.75,279.2 434.50,279.3 434.25,279.4 434.00,279.4 433.75,279.4 433.50,279.4 433.25,279.4 433.00,279.4 432.75,279.4 432.50,279.3 432.25,279.2 432.00,279.1 431.75,278.9 431.50,278.8 431.25,278.6 431.00,278.4 430.75,278.3 430.50,278.2 430.25,278.1 430.00,278.1 429.75,278.1 429.50,278.2 429.25,278.4 429.00,278.6 428.75,278.8 428.50,279.0 428.25,279.1 428.00,279.2 427.75,279.2 427.50,279.1 427.25,279.0 427.00,278.7 426.75,278.5 426.50,278.3 426.25,278.3 426.00,278.3 425.75,278.3 425.50,278.4 425.25,278.4 425.00,278.5 424.75,278.6 424.50,278.7 424.25,278.8 424.00,278.9 423.75,278.9 423.50,278.9 423.25,278.9 423.00,278.8 422.75,278.7 422.50,278.6 422.25,278.5 422.00,278.4 421.75,278.4 421.50,278.4 421.25,278.5 421.00,278.7 420.75,278.8 420.50,278.9 420.25,279.0 420.00,279.1 419.75,279.1 419.50,279.1 419.25,279.1 419.00,279.1 418.75,279.1 418.50,279.0 418.25,278.9 418.00,278.8 417.75,278.8 417.50,278.8 417.25,278.9 417.00,278.9 416.75,279.0 416.50,279.0 416.25,279.0 416.00,278.9 415.75,278.8 415.50,278.5 415.25,278.2 415.00,277.9 414.75,277.7 414.50,277.5 414.25,277.4 414.00,277.4 413.75,277.4 413.50,277.6 413.25,277.7 413.00,278.0 412.75,278.3 412.50,278.5 412.25,278.6 412.00,278.8 411.75,278.8 411.50,278.8 411.25,278.8 411.00,278.9 410.75,278.9 410.50,278.9 410.25,278.9 410.00,278.9 409.75,278.9 409.50,278.9 409.25,278.9 409.00,278.9 408.75,278.9 408.50,278.8 408.25,278.7 408.00,278.5 407.75,278.4 407.50,278.3 407.25,278.3 407.00,278.4 406.75,278.5 406.50,278.7 406.25,278.7 406.00,278.7 405.75,278.7 405.50,278.7 405.25,278.6 405.00,278.5 404.75,278.4 404.50,278.4 404.25,278.5 404.00,278.5 403.75,278.6 403.50,278.7 403.25,278.8 403.00,278.8 402.75,278.7 402.50,278.6 402.25,278.4 402.00,278.2 401.75,278.1 401.50,277.9 401.25,277.8 401.00,277.8 400.75,277.7 400.50,277.8 400.25,277.8 400.00,277.9 399.75,278.0 399.50,278.2 399.25,278.2 399.00,278.3 398.75,278.3 398.50,278.3 398.25,278.2 398.00,278.1 397.75,278.0 397.50,277.9 397.25,277.8 397.00,277.8 396.75,277.8 396.50,277.8 396.25,277.8 396.00,277.8 395.75,277.9 395.50,277.9 395.25,278.0 395.00,278.1 394.75,278.1 394.50,278.2 394.25,278.3 394.00,278.3 393.75,278.4 393.50,278.4 393.25,278.4 393.00,278.3 392.75,278.3 392.50,278.3 392.25,278.2 392.00,278.2 391.75,278.3 391.50,278.3 391.25,278.4 391.00,278.5 390.75,278.5 390.50,278.6 390.25,278.6 390.00,278.6 389.75,278.5 389.50,278.4 389.25,278.2 389.00,278.0 388.75,277.9 388.50,278.0 388.25,278.1 388.00,278.3 387.75,278.4 387.50,278.5 387.25,278.5 387.00,278.5 386.75,278.4 386.50,278.2 386.25,278.0 386.00,277.9 385.75,277.8 385.50,277.8 385.25,277.8 385.00,277.8 384.75,277.8 384.50,277.8 384.25,277.8 384.00,277.8 383.75,277.8 383.50,277.8 383.25,277.8 383.00,277.7 382.75,277.7 382.50,277.7 382.25,277.8 382.00,277.8 381.75,277.9 381.50,278.0 381.25,278.0 381.00,278.1 380.75,278.1 380.50,278.1 380.25,278.1 380.00,278.1 379.75,278.1 379.50,278.2 379.25,278.2 379.00,278.2 378.75,278.2 378.50,278.1 378.25,278.1 378.00,278.1 377.75,278.2 377.50,278.2 377.25,278.2 377.00,278.2 376.75,278.2 376.50,278.2 376.25,278.2 376.00,278.1 375.75,278.0 375.50,277.9 375.25,277.8 375.00,277.8 374.75,277.8 374.50,277.8 374.25,277.8 374.00,277.8 373.75,277.8 373.50,277.7 373.25,277.5 373.00,277.3 372.75,277.0 372.50,276.8 372.25,276.7 372.00,276.6 371.75,276.6 371.50,276.6 371.25,276.6 371.00,276.7 370.75,276.8 370.50,277.0 370.25,277.3 370.00,277.6 369.75,277.9 369.50,278.1 369.25,278.2 369.00,278.2 368.75,278.2 368.50,278.2 368.25,278.1 368.00,277.9 367.75,277.7 367.50,277.4 367.25,277.1 367.00,277.0 366.75,277.0 366.50,277.2 366.25,277.4 366.00,277.6 365.75,277.8 365.50,277.9 365.25,277.9 365.00,277.8 364.75,277.6 364.50,277.3 364.25,277.0 364.00,276.8 363.75,276.7 363.50,276.7 363.25,276.8 363.00,277.0 362.75,277.2 362.50,277.5 362.25,277.7 362.00,277.8 361.75,277.8 361.50,277.8 361.25,277.6 361.00,277.3 360.75,277.0 360.50,276.7 360.25,276.5 360.00,276.5 359.75,276.6 359.50,276.8 359.25,277.1 359.00,277.3 358.75,277.6 358.50,277.7 358.25,277.7 358.00,277.7 357.75,277.5 357.50,277.3 357.25,277.1 357.00,276.8 356.75,276.7 356.50,276.7 356.25,276.7 356.00,276.9 355.75,277.1 355.50,277.3 355.25,277.5 355.00,277.6 354.75,277.7 354.50,277.7 354.25,277.7 354.00,277.7 353.75,277.6 353.50,277.6 353.25,277.6 353.00,277.6 352.75,277.6 352.50,277.6 352.25,277.6 352.00,277.6 351.75,277.5 351.50,277.4 351.25,277.3 351.00,277.3 350.75,277.3 350.50,277.3 350.25,277.4 350.00,277.5 349.75,277.5 349.50,277.5 349.25,277.4 349.00,277.2 348.75,277.0 348.50,276.8 348.25,276.6 348.00,276.4 347.75,276.3 347.50,276.2 347.25,276.2 347.00,276.2 346.75,276.2 346.50,276.3 346.25,276.4 346.00,276.6 345.75,276.8 345.50,277.1 345.25,277.2 345.00,277.2 344.75,277.2 344.50,277.0 344.25,276.7 344.00,276.4 343.75,276.2 343.50,276.1 343.25,276.1 343.00,276.2 342.75,276.3 342.50,276.4 342.25,276.5 342.00,276.6 341.75,276.8 341.50,276.9 341.25,277.0 341.00,277.1 340.75,277.0 340.50,277.0 340.25,276.9 340.00,276.7 339.75,276.5 339.50,276.3 339.25,276.1 339.00,275.9 338.75,275.7 338.50,275.6 338.25,275.6 338.00,275.6 337.75,275.7 337.50,275.9 337.25,276.1 337.00,276.2 336.75,276.4 336.50,276.5 336.25,276.6 336.00,276.8 335.75,276.9 335.50,276.9 335.25,277.0 335.00,277.1 334.75,277.1 334.50,277.1 334.25,277.1 334.00,277.1 333.75,277.0 333.50,277.0 333.25,276.9 333.00,276.9 332.75,276.9 332.50,276.9 332.25,276.8 332.00,276.8 331.75,276.8 331.50,276.7 331.25,276.6 331.00,276.4 330.75,276.1 330.50,275.8 330.25,275.6 330.00,275.4 329.75,275.4 329.50,275.4 329.25,275.4 329.00,275.4 328.75,275.4 328.50,275.5 328.25,275.6 328.00,275.6 327.75,275.7 327.50,275.7 327.25,275.8 327.00,275.8 326.75,275.9 326.50,276.0 326.25,276.1 326.00,276.3 325.75,276.5 325.50,276.6 325.25,276.8 325.00,276.8 324.75,276.9 324.50,276.9 324.25,276.9 324.00,276.9 323.75,276.9 323.50,276.9 323.25,276.9 323.00,276.9 322.75,276.9 322.50,276.9 322.25,276.8 322.00,276.8 321.75,276.8 321.50,276.9 321.25,276.9 321.00,276.9 320.75,276.9 320.50,276.8 320.25,276.6 320.00,276.4 319.75,276.1 319.50,275.8 319.25,275.5 319.00,275.3 318.75,275.2 318.50,275.1 318.25,275.1 318.00,275.1 317.75,275.2 317.50,275.4 317.25,275.5 317.00,275.6 316.75,275.7 316.50,275.8 316.25,275.8 316.00,275.8 315.75,275.8 315.50,275.8 315.25,275.8 315.00,275.8 314.75,275.8 314.50,275.8 314.25,275.9 314.00,276.0 313.75,276.2 313.50,276.4 313.25,276.6 313.00,276.7 312.75,276.8 312.50,276.8 312.25,276.7 312.00,276.6 311.75,276.5 311.50,276.4 311.25,276.4 311.00,276.4 310.75,276.6 310.50,276.8 310.25,276.9 310.00,277.1 309.75,277.1 309.50,277.1 309.25,277.0 309.00,276.8 308.75,276.6 308.50,276.4 308.25,276.1 308.00,276.0 307.75,275.9 307.50,275.9 307.25,276.0 307.00,276.2 306.75,276.4 306.50,276.6 306.25,276.8 306.00,276.8 305.75,276.9 305.50,276.9 305.25,276.9 305.00,277.0 304.75,277.0 304.50,277.0 304.25,277.1 304.00,277.1 303.75,277.1 303.50,277.0 303.25,277.0 303.00,276.9 302.75,276.7 302.50,276.6 302.25,276.5 302.00,276.4 301.75,276.5 301.50,276.6 301.25,276.8 301.00,277.0 300.75,277.2 300.50,277.3 300.25,277.4 300.00,277.4 299.75,277.3 299.50,277.2 299.25,277.1 299.00,276.9 298.75,276.7 298.50,276.6 298.25,276.5 298.00,276.5 297.75,276.4 297.50,276.3 297.25,276.1 297.00,275.9 296.75,275.8 296.50,275.7 296.25,275.6 296.00,275.6 295.75,275.7 295.50,275.9 295.25,276.1 295.00,276.3 294.75,276.5 294.50,276.6 294.25,276.8 294.00,276.9 293.75,277.1 293.50,277.2 293.25,277.3 293.00,277.3 292.75,277.2 292.50,277.1 292.25,276.9 292.00,276.7 291.75,276.6 291.50,276.6 291.25,276.6 291.00,276.8 290.75,277.0 290.50,277.2 290.25,277.4 290.00,277.5 289.75,277.6 289.50,277.5 289.25,277.4 289.00,277.2 288.75,277.0 288.50,276.8 288.25,276.8 288.00,276.8 287.75,276.9 287.50,277.0 287.25,277.1 287.00,277.1 286.75,277.1 286.50,277.1 286.25,277.1 286.00,277.1 285.75,277.1 285.50,277.1 285.25,277.2 285.00,277.2 284.75,277.3 284.50,277.4 284.25,277.6 284.00,277.7 283.75,277.7 283.50,277.7 283.25,277.6 283.00,277.5 282.75,277.3 282.50,277.1 282.25,277.0 282.00,277.1 281.75,277.2 281.50,277.4 281.25,277.5 281.00,277.6 280.75,277.5 280.50,277.4 280.25,277.1 280.00,276.8 279.75,276.6 279.50,276.5 279.25,276.7 279.00,277.0 278.75,277.3 278.50,277.6 278.25,277.7 278.00,277.8 277.75,277.7 277.50,277.6 277.25,277.5 277.00,277.4 276.75,277.2 276.50,277.1 276.25,277.0 276.00,276.9 275.75,276.9 275.50,277.0 275.25,277.1 275.00,277.3 274.75,277.4 274.50,277.5 274.25,277.4 274.00,277.3 273.75,277.1 273.50,276.8 273.25,276.6 273.00,276.4 272.75,276.3 272.50,276.2 272.25,276.3 272.00,276.5 271.75,276.7 271.50,277.0 271.25,277.4 271.00,277.6 270.75,277.8 270.50,277.8 270.25,277.8 270.00,277.6 269.75,277.4 269.50,277.2 269.25,277.0 269.00,276.9 268.75,277.0 268.50,277.0 268.25,277.1 268.00,277.1 267.75,277.1 267.50,277.1 267.25,277.2 267.00,277.2 266.75,277.2 266.50,277.2 266.25,277.3 266.00,277.4 265.75,277.6 265.50,277.7 265.25,277.9 265.00,278.0 264.75,278.0 264.50,278.0 264.25,278.0 264.00,277.9 263.75,277.9 263.50,277.8 263.25,277.7 263.00,277.7 262.75,277.7 262.50,277.8 262.25,277.9 262.00,278.0 261.75,278.0 261.50,278.1 261.25,278.1 261.00,278.0 260.75,278.0 260.50,277.9 260.25,277.7 260.00,277.6 259.75,277.4 259.50,277.2 259.25,277.1 259.00,277.0 258.75,277.0 258.50,277.1 258.25,277.2 258.00,277.5 257.75,277.7 257.50,277.9 257.25,278.0 257.00,278.1 256.75,278.2 256.50,278.2 256.25,278.2 256.00,278.2 255.75,278.1 255.50,278.1 255.25,277.9 255.00,277.7 254.75,277.4 254.50,277.1 254.25,276.9 254.00,276.9 253.75,277.0 253.50,277.1 253.25,277.2 253.00,277.3 252.75,277.3 252.50,277.3 252.25,277.2 252.00,277.1 251.75,276.9 251.50,276.7 251.25,276.5 251.00,276.5 250.75,276.5 250.50,276.7 250.25,276.9 250.00,277.0 249.75,277.1 249.50,277.2 249.25,277.3 249.00,277.3 248.75,277.4 248.50,277.4 248.25,277.4 248.00,277.4 247.75,277.4 247.50,277.5 247.25,277.6 247.00,277.7 246.75,277.8 246.50,277.9 246.25,278.0 246.00,278.0 245.75,277.9 245.50,277.9 245.25,277.8 245.00,277.7 244.75,277.6 244.50,277.5 244.25,277.4 244.00,277.4 243.75,277.4 243.50,277.4 243.25,277.4 243.00,277.5 242.75,277.6 242.50,277.6 242.25,277.6 242.00,277.6 241.75,277.5 241.50,277.5 241.25,277.4 241.00,277.3 240.75,277.2 240.50,277.2 240.25,277.1 240.00,277.0 239.75,277.1 239.50,277.2 239.25,277.4 239.00,277.6 238.75,277.8 238.50,277.8 238.25,277.8 238.00,277.7 237.75,277.6 237.50,277.5 237.25,277.4 237.00,277.3 236.75,277.2 236.50,277.1 236.25,277.0 236.00,276.9 235.75,276.8 235.50,276.6 235.25,276.4 235.00,276.3 234.75,276.2 234.50,276.2 234.25,276.2 234.00,276.3 233.75,276.3 233.50,276.4 233.25,276.4 233.00,276.4 232.75,276.4 232.50,276.5 232.25,276.5 232.00,276.5 231.75,276.6 231.50,276.6 231.25,276.5 231.00,276.4 230.75,276.3 230.50,276.1 230.25,275.9 230.00,275.8 229.75,275.8 229.50,275.9 229.25,276.1 229.00,276.2 228.75,276.2 228.50,276.2 228.25,276.2 228.00,276.0 227.75,275.8 227.50,275.7 227.25,275.6 227.00,275.6 226.75,275.7 226.50,275.9 226.25,276.1 226.00,276.4 225.75,276.6 225.50,276.7 225.25,276.7 225.00,276.7 224.75,276.5 224.50,276.3 224.25,276.0 224.00,275.7 223.75,275.5 223.50,275.3 223.25,275.1 223.00,274.9 222.75,274.7 222.50,274.6 222.25,274.5 222.00,274.4 221.75,274.4 221.50,274.3 221.25,274.3 221.00,274.3 220.75,274.3 220.50,274.3 220.25,274.3 220.00,274.3 219.75,274.3 219.50,274.3 219.25,274.3 219.00,274.3 218.75,274.4 218.50,274.5 218.25,274.7 218.00,275.0 217.75,275.3 217.50,275.5 217.25,275.7 217.00,275.9 216.75,275.9 216.50,275.9 216.25,275.9 216.00,275.7 215.75,275.5 215.50,275.2 215.25,275.0 215.00,274.9 214.75,274.9 214.50,275.0 214.25,275.1 214.00,275.2 213.75,275.3 213.50,275.3 213.25,275.2 213.00,275.1 212.75,274.9 212.50,274.8 212.25,274.7 212.00,274.6 211.75,274.6 211.50,274.6 211.25,274.5 211.00,274.4 210.75,274.3 210.50,274.0 210.25,273.8 210.00,273.6 209.75,273.4 209.50,273.2 209.25,273.1 209.00,273.0 208.75,272.9 208.50,272.8 208.25,272.7 208.00,272.7 207.75,272.7 207.50,272.7 207.25,272.8 207.00,272.8 206.75,272.8 206.50,272.8 206.25,272.7 206.00,272.6 205.75,272.3 205.50,271.9 205.25,271.4 205.00,270.9 204.75,270.4 204.50,270.1 204.25,269.9 204.00,269.7 203.75,269.6 203.50,269.4 203.25,269.3 203.00,269.2 202.75,269.2 202.50,269.2 202.25,269.3 202.00,269.4 201.75,269.6 201.50,269.7 201.25,269.8 201.00,269.9 200.75,270.0 200.50,270.0 200.25,270.0 200.00,269.9 199.75,269.7 199.50,269.6 199.25,269.4 199.00,269.4 198.75,269.5 198.50,269.7 198.25,270.1 198.00,270.7 197.75,271.2 197.50,271.6 197.25,271.9 197.00,272.1 196.75,272.2 196.50,272.2 196.25,272.3 196.00,272.3 195.75,272.5 195.50,272.7 195.25,272.9 195.00,273.1 194.75,273.2 194.50,273.3 194.25,273.3 194.00,273.3 193.75,273.3 193.50,273.2 193.25,273.1 193.00,273.0 192.75,273.0 192.50,272.9 192.25,272.9 192.00,272.9 191.75,272.9 191.50,272.9 191.25,273.0 191.00,273.1 190.75,273.3 190.50,273.5 190.25,273.8 190.00,274.1 189.75,274.3 189.50,274.5 189.25,274.6 189.00,274.5 188.75,274.4 188.50,274.2 188.25,274.0 188.00,273.8 187.75,273.6 187.50,273.5 187.25,273.5 187.00,273.4 186.75,273.4 186.50,273.4 186.25,273.3 186.00,273.3 185.75,273.3 185.50,273.3 185.25,273.3 185.00,273.4 184.75,273.4 184.50,273.5 184.25,273.5 184.00,273.6 183.75,273.6 183.50,273.6 183.25,273.5 183.00,273.4 182.75,273.4 182.50,273.3 182.25,273.3 182.00,273.2 181.75,273.2 181.50,273.2 181.25,273.1 181.00,273.1 180.75,273.1 180.50,273.0 180.25,273.0 180.00,272.9 179.75,272.9 179.50,272.8 179.25,272.8 179.00,272.7 178.75,272.6 178.50,272.4 178.25,272.3 178.00,272.1 177.75,272.1 177.50,272.0 177.25,272.0 177.00,272.0 176.75,272.1 176.50,272.1 176.25,272.1 176.00,272.0 175.75,272.0 175.50,272.0 175.25,272.1 175.00,272.2 174.75,272.4 174.50,272.6 174.25,272.8 174.00,273.0 173.75,273.1 173.50,273.1 173.25,273.1 173.00,273.1 172.75,273.0 172.50,272.9 172.25,272.9 172.00,272.8 171.75,272.7 171.50,272.7 171.25,272.5 171.00,272.4 170.75,272.2 170.50,272.1 170.25,272.0 170.00,271.9 169.75,271.8 169.50,271.7 169.25,271.6 169.00,271.4 168.75,271.2 168.50,270.9 168.25,270.7 168.00,270.5 167.75,270.5 167.50,270.6 167.25,270.8 167.00,270.9 166.75,270.9 166.50,270.9 166.25,270.7 166.00,270.5 165.75,270.2 165.50,269.8 165.25,269.5 165.00,269.3 164.75,269.2 164.50,269.1 164.25,269.0 164.00,268.8 163.75,268.6 163.50,268.3 163.25,268.0 163.00,267.6 162.75,267.1 162.50,266.6 162.25,266.1 162.00,265.6 161.75,265.2 161.50,264.8 161.25,264.4 161.00,264.1 160.75,263.8 160.50,263.4 160.25,263.0 160.00,262.6 159.75,262.2 159.50,261.9 159.25,261.7 159.00,261.5 158.75,261.3 158.50,261.3 158.25,261.4 158.00,261.5 157.75,261.7 157.50,261.8 157.25,262.0 157.00,262.1 156.75,262.2 156.50,262.3 156.25,262.4 156.00,262.7 155.75,263.0 155.50,263.5 155.25,263.9 155.00,264.2 154.75,264.5 154.50,264.8 154.25,265.0 154.00,265.2 153.75,265.4 153.50,265.7 153.25,266.0 153.00,266.3 152.75,266.6 152.50,266.9 152.25,267.2 152.00,267.4 151.75,267.5 151.50,267.5 151.25,267.5 151.00,267.4 150.75,267.3 150.50,267.1 150.25,266.9 150.00,266.7 149.75,266.6 149.50,266.4 149.25,266.3 149.00,266.2 148.75,266.0 148.50,265.8 148.25,265.6 148.00,265.4 147.75,265.3 147.50,265.4 147.25,265.5 147.00,265.6 146.75,265.7 146.50,265.8 146.25,266.0 146.00,266.2 145.75,266.5 145.50,266.7 145.25,266.8 145.00,266.9 144.75,266.9 144.50,266.9 144.25,266.8 144.00,266.6 143.75,266.4 143.50,266.3 143.25,266.1 143.00,266.0 142.75,265.9 142.50,265.8 142.25,265.7 142.00,265.6 141.75,265.5 141.50,265.4 141.25,265.2 141.00,265.0 140.75,264.7 140.50,264.4 140.25,264.1 140.00,263.9 139.75,263.8 139.50,263.9 139.25,264.1 139.00,264.4 138.75,264.7 138.50,264.9 138.25,265.1 138.00,265.2 137.75,265.2 137.50,265.1 137.25,264.8 137.00,264.5 136.75,264.1 136.50,263.7 136.25,263.3 136.00,263.1 135.75,263.1 135.50,263.0 135.25,263.1 135.00,263.1 134.75,263.1 134.50,263.0 134.25,263.0 134.00,262.9 133.75,262.9 133.50,262.9 133.25,262.9 133.00,262.9 132.75,262.9 132.50,262.9 132.25,262.8 132.00,262.7 131.75,262.5 131.50,262.3 131.25,262.0 131.00,261.7 130.75,261.5 130.50,261.3 130.25,261.2 130.00,261.1 129.75,261.0 129.50,260.9 129.25,260.6 129.00,260.4 128.75,260.1 128.50,259.9 128.25,259.8 128.00,259.8 127.75,259.8 127.50,259.9 127.25,259.9 127.00,259.8 126.75,259.8 126.50,259.8 126.25,259.7 126.00,259.8 125.75,259.9 125.50,260.0 125.25,260.2 125.00,260.2 124.75,260.3 124.50,260.2 124.25,260.0 124.00,259.7 123.75,259.4 123.50,258.9 123.25,258.6 123.00,258.2 122.75,258.0 122.50,257.9 122.25,257.8 122.00,257.7 121.75,257.7 121.50,257.7 121.25,257.8 121.00,257.9 120.75,258.1 120.50,258.4 120.25,258.6 120.00,258.8 119.75,258.9 119.50,258.9 119.25,258.7 119.00,258.5 118.75,258.2 118.50,257.9 118.25,257.7 118.00,257.6 117.75,257.5 117.50,257.5 117.25,257.5 117.00,257.4 116.75,257.3 116.50,257.1 116.25,257.0 116.00,256.9 115.75,256.8 115.50,256.7 115.25,256.7 115.00,256.7 114.75,256.7 114.50,256.7 114.25,256.6 114.00,256.6 113.75,256.4 113.50,256.3 113.25,256.1 113.00,256.0 112.75,255.9 112.50,255.9 112.25,256.0 112.00,256.1 111.75,256.2 111.50,256.2 111.25,256.2 111.00,256.2 110.75,256.1 110.50,256.0 110.25,255.8 110.00,255.7 109.75,255.5 109.50,255.4 109.25,255.4 109.00,255.3 108.75,255.2 108.50,255.1 108.25,254.9 108.00,254.7 107.75,254.3 107.50,254.0 107.25,253.7 107.00,253.6 106.75,253.7 106.50,253.9 106.25,254.2 106.00,254.5 105.75,254.8 105.50,254.9 105.25,254.9 105.00,254.7 104.75,254.4 104.50,254.1 104.25,253.6 104.00,253.2 103.75,252.9 103.50,252.7 103.25,252.5 103.00,252.3 102.75,252.1 102.50,251.8 102.25,251.5 102.00,251.3 101.75,251.1 101.50,250.9 101.25,250.9 101.00,251.0 100.75,251.0 100.50,251.1 100.25,251.2 100.00,251.3 99.75,251.5 99.50,251.7 99.25,251.9 99.00,252.1 98.75,252.3 98.50,252.3 98.25,252.2 98.00,252.1 97.75,251.8 97.50,251.5 97.25,251.1 97.00,250.9 96.75,250.7 96.50,250.6 96.25,250.5 96.00,250.3 95.75,250.2 95.50,250.1 95.25,249.9 95.00,249.9 94.75,249.8 94.50,249.9 94.25,249.9 94.00,250.0 93.75,250.0 93.50,250.0 93.25,249.9 93.00,249.8 92.75,249.6 92.50,249.5 92.25,249.4 92.00,249.4 91.75,249.4 91.50,249.5 91.25,249.7 91.00,249.7 90.75,249.8 90.50,249.7 90.25,249.6 90.00,249.4 89.75,249.1 89.50,248.8 89.25,248.5 89.00,248.3 88.75,248.3 88.50,248.4 88.25,248.5 88.00,248.6 87.75,248.6 87.50,248.6 87.25,248.5 87.00,248.3 86.75,247.9 86.50,247.5 86.25,247.0 86.00,246.6 85.75,246.4 85.50,246.4 85.25,246.4 85.00,246.5 84.75,246.5 84.50,246.4 84.25,246.4 84.00,246.3 83.75,246.3 83.50,246.4 83.25,246.5 83.00,246.6 82.75,246.6 82.50,246.7 82.25,246.6 82.00,246.6 81.75,246.5 81.50,246.4 81.25,246.4 81.00,246.3 80.75,246.3 80.50,246.2 80.25,246.1 80.00,245.9 79.75,245.7 79.50,245.5 79.25,245.4 79.00,245.4 78.75,245.4 78.50,245.6 78.25,245.7 78.00,245.8 77.75,245.9 77.50,246.0 77.25,246.0 77.00,246.0 76.75,245.9 76.50,245.9 76.25,245.7 76.00,245.5 75.75,245.1 75.50,244.6 75.25,244.1 75.00,243.6 74.75,243.3 74.50,243.1 74.25,243.1 74.00,243.1 73.75,243.1 73.50,243.1 73.25,243.1 73.00,243.0 72.75,242.9 72.50,242.8 72.25,242.8 72.00,242.8 71.75,242.9 71.50,243.1 71.25,243.3 71.00,243.4 70.75,243.5 70.50,243.5 70.25,243.5 70.00,243.5 69.75,243.6 69.50,243.7 69.25,243.8 69.00,244.0 68.75,244.1 68.50,244.2 68.25,244.3 68.00,244.3 67.75,244.3 67.50,244.2 67.25,244.0 67.00,243.8 66.75,243.6 66.50,243.4 66.25,243.2 66.00,243.0 65.75,242.8 65.50,242.5 65.25,242.2 65.00,241.8 64.75,241.5 64.50,241.4 64.25,241.6 64.00,242.0 63.75,242.5 63.50,243.0 63.25,243.3 63.00,243.5 62.75,243.5 62.50,243.5 62.25,243.4 62.00,243.3 61.75,243.2 61.50,243.2 61.25,243.2 61.00,243.3 60.75,243.3 60.50,243.3 60.25,243.3 60.00,243.3 59.75,243.3 59.50,243.3 59.25,243.3 59.00,243.3 58.75,243.3 58.50,243.2 58.25,243.0 58.00,242.7 57.75,242.3 57.50,241.9 57.25,241.6 57.00,241.3 56.75,241.2 56.50,241.3 56.25,241.4 56.00,241.5 55.75,241.6 55.50,241.8 55.25,241.8 55.00,241.9 54.75,241.9 54.50,241.9 54.25,241.9 54.00,241.8 53.75,241.7 53.50,241.6 53.25,241.4 53.00,241.1 52.75,240.8 52.50,240.5 52.25,240.3 52.00,240.3 51.75,240.4 51.50,240.6 51.25,240.8 51.00,241.0 50.75,241.1 50.50,241.1 50.25,241.1 50.00,241.0 49.75,240.9 49.50,240.9 49.25,241.1 49.00,241.3 48.75,241.7 48.50,242.1 48.25,242.3 48.00,242.5 47.75,242.6 47.50,242.6 47.25,242.6 47.00,242.6 46.75,242.7 46.50,242.8 46.25,242.9 46.00,243.0 45.75,243.1 45.50,243.1Z" fill="#00ff00"/><path d="M45.5,236.7 46.0,236.7 46.5,236.7 47.0,236.6 47.5,236.6 48.0,236.6 48.5,236.6 49.0,236.6 49.5,236.6 50.0,236.6 50.5,236.6 51.0,236.6 51.5,236.6 52.0,236.5 52.5,236.5 53.0,236.6 53.5,236.6 54.0,236.6 54.5,236.6 55.0,236.6 55.5,236.7 56.0,236.7 56.5,236.7 57.0,236.8 57.5,236.8 58.0,236.9 58.5,236.9 59.0,237.0 59.5,237.0 60.0,237.1 60.5,237.1 61.0,237.2 61.5,237.2 62.0,237.3 62.5,237.3 63.0,237.4 63.5,237.5 64.0,237.5 64.5,237.6 65.0,237.6 65.5,237.7 66.0,237.8 66.5,237.9 67.0,237.9 67.5,238.0 68.0,238.1 68.5,238.2 69.0,238.2 69.5,238.3 70.0,238.4 70.5,238.5 71.0,238.5 71.5,238.6 72.0,238.7 72.5,238.8 73.0,238.9 73.5,239.0 74.0,239.0 74.5,239.2 75.0,239.3 75.5,239.4 76.0,239.5 76.5,239.6 77.0,239.7 77.5,239.8 78.0,240.0 78.5,240.1 79.0,240.2 79.5,240.3 80.0,240.5 80.5,240.6 81.0,240.7 81.5,240.8 82.0,241.0 82.5,241.1 83.0,241.3 83.5,241.4 84.0,241.5 84.5,241.7 85.0,241.8 85.5,242.0 86.0,242.2 86.5,242.3 87.0,242.5 87.5,242.7 88.0,242.9 88.5,243.0 89.0,243.2 89.5,243.4 90.0,243.6 90.5,243.7 91.0,243.9 91.5,244.1 92.0,244.3 92.5,244.4 93.0,244.6 93.5,244.8 94.0,245.0 94.5,245.2 95.0,245.3 95.5,245.5 96.0,245.7 96.5,245.9 97.0,246.1 97.5,246.3 98.0,246.4 98.5,246.6 99.0,246.8 99.5,247.0 100.0,247.2 100.5,247.4 101.0,247.5 101.5,247.7 102.0,247.9 102.5,248.1 103.0,248.3 103.5,248.4 104.0,248.6 104.5,248.8 105.0,248.9 105.5,249.1 106.0,249.2 106.5,249.4 107.0,249.6 107.5,249.7 108.0,249.9 108.5,250.0 109.0,250.2 109.5,250.3 110.0,250.4 110.5,250.6 111.0,250.7 111.5,250.9 112.0,251.0 112.5,251.2 113.0,251.3 113.5,251.5 114.0,251.6 114.5,251.8 115.0,251.9 115.5,252.0 116.0,252.2 116.5,252.3 117.0,252.5 117.5,252.6 118.0,252.7 118.5,252.9 119.0,253.0 119.5,253.1 120.0,253.3 120.5,253.4 121.0,253.5 121.5,253.7 122.0,253.8 122.5,253.9 123.0,254.1 123.5,254.2 124.0,254.4 124.5,254.5 125.0,254.7 125.5,254.8 126.0,255.0 126.5,255.2 127.0,255.3 127.5,255.5 128.0,255.7 128.5,255.8 129.0,256.0 129.5,256.2 130.0,256.3 130.5,256.5 131.0,256.7 131.5,256.8 132.0,257.0 132.5,257.2 133.0,257.4 133.5,257.6 134.0,257.8 134.5,258.0 135.0,258.3 135.5,258.5 136.0,258.7 136.5,259.0 137.0,259.2 137.5,259.5 138.0,259.7 138.5,260.0 139.0,260.2 139.5,260.4 140.0,260.6 140.5,260.7 141.0,260.9 141.5,261.0 142.0,261.2 142.5,261.3 143.0,261.4 143.5,261.5 144.0,261.6 144.5,261.6 145.0,261.7 145.5,261.8 146.0,261.9 146.5,262.0 147.0,262.0 147.5,262.1 148.0,262.2 148.5,262.2 149.0,262.3 149.5,262.3 150.0,262.3 150.5,262.3 151.0,262.3 151.5,262.2 152.0,262.1 152.5,261.9 153.0,261.7 153.5,261.4 154.0,261.1 154.5,260.7 155.0,260.2 155.5,259.7 156.0,259.1 156.5,258.6 157.0,258.1 157.5,257.7 158.0,257.3 158.5,257.2 159.0,257.2 159.5,257.4 160.0,257.8 160.5,258.4 161.0,259.0 161.5,259.8 162.0,260.5 162.5,261.3 163.0,262.0 163.5,262.7 164.0,263.4 164.5,263.9 165.0,264.4 165.5,264.9 166.0,265.3 166.5,265.6 167.0,265.9 167.5,266.1 168.0,266.3 168.5,266.5 169.0,266.7 169.5,266.9 170.0,267.0 170.5,267.1 171.0,267.3 171.5,267.4 172.0,267.5 172.5,267.6 173.0,267.7 173.5,267.8 174.0,267.9 174.5,268.0 175.0,268.2 175.5,268.3 176.0,268.4 176.5,268.5 177.0,268.6 177.5,268.7 178.0,268.8 178.5,268.9 179.0,268.9 179.5,269.0 180.0,269.1 180.5,269.2 181.0,269.3 181.5,269.4 182.0,269.5 182.5,269.5 183.0,269.6 183.5,269.7 184.0,269.7 184.5,269.7 185.0,269.8 185.5,269.8 186.0,269.8 186.5,269.8 187.0,269.8 187.5,269.8 188.0,269.8 188.5,269.8 189.0,269.8 189.5,269.7 190.0,269.7 190.5,269.6 191.0,269.5 191.5,269.5 192.0,269.3 192.5,269.2 193.0,269.1 193.5,268.9 194.0,268.7 194.5,268.5 195.0,268.2 195.5,268.0 196.0,267.7 196.5,267.4 197.0,267.1 197.5,266.8 198.0,266.6 198.5,266.3 199.0,266.0 199.5,265.8 200.0,265.6 200.5,265.5 201.0,265.4 201.5,265.4 202.0,265.4 202.5,265.5 203.0,265.6 203.5,265.9 204.0,266.1 204.5,266.4 205.0,266.7 205.5,267.0 206.0,267.3 206.5,267.6 207.0,267.9 207.5,268.2 208.0,268.5 208.5,268.7 209.0,269.0 209.5,269.2 210.0,269.5 210.5,269.7 211.0,269.8 211.5,270.0 212.0,270.1 212.5,270.3 213.0,270.4 213.5,270.5 214.0,270.6 214.5,270.7 215.0,270.8 215.5,270.8 216.0,270.9 216.5,271.0 217.0,271.0 217.5,271.1 218.0,271.1 218.5,271.2 219.0,271.2 219.5,271.3 220.0,271.3 220.5,271.4 221.0,271.4 221.5,271.5 222.0,271.5 222.5,271.6 223.0,271.6 223.5,271.7 224.0,271.7 224.5,271.8 225.0,271.8 225.5,271.9 226.0,272.0 226.5,272.0 227.0,272.1 227.5,272.1 228.0,272.2 228.5,272.2 229.0,272.3 229.5,272.3 230.0,272.4 230.5,272.4 231.0,272.5 231.5,272.5 232.0,272.6 232.5,272.7 233.0,272.7 233.5,272.8 234.0,272.8 234.5,272.9 235.0,272.9 235.5,273.0 236.0,273.0 236.5,273.1 237.0,273.1 237.5,273.2 238.0,273.2 238.5,273.3 239.0,273.3 239.5,273.3 240.0,273.4 240.5,273.4 241.0,273.4 241.5,273.4 242.0,273.4 242.5,273.4 243.0,273.4 243.5,273.4 244.0,273.4 244.5,273.4 245.0,273.4 245.5,273.4 246.0,273.4 246.5,273.4 247.0,273.4 247.5,273.4 248.0,273.4 248.5,273.4 249.0,273.4 249.5,273.4 250.0,273.4 250.5,273.4 251.0,273.4 251.5,273.4 252.0,273.4 252.5,273.4 253.0,273.4 253.5,273.4 254.0,273.4 254.5,273.4 255.0,273.4 255.5,273.4 256.0,273.4 256.5,273.4 257.0,273.4 257.5,273.4 258.0,273.3 258.5,273.3 259.0,273.3 259.5,273.3 260.0,273.3 260.5,273.3 261.0,273.3 261.5,273.3 262.0,273.3 262.5,273.3 263.0,273.3 263.5,273.3 264.0,273.3 264.5,273.3 265.0,273.3 265.5,273.3 266.0,273.3 266.5,273.3 267.0,273.3 267.5,273.3 268.0,273.3 268.5,273.3 269.0,273.3 269.5,273.3 270.0,273.3 270.5,273.3 271.0,273.3 271.5,273.3 272.0,273.3 272.5,273.3 273.0,273.3 273.5,273.3 274.0,273.2 274.5,273.2 275.0,273.2 275.5,273.2 276.0,273.2 276.5,273.2 277.0,273.2 277.5,273.2 278.0,273.2 278.5,273.2 279.0,273.2 279.5,273.2 280.0,273.2 280.5,273.2 281.0,273.2 281.5,273.2 282.0,273.2 282.5,273.2 283.0,273.2 283.5,273.2 284.0,273.2 284.5,273.2 285.0,273.2 285.5,273.2 286.0,273.1 286.5,273.1 287.0,273.1 287.5,273.1 288.0,273.1 288.5,273.1 289.0,273.1 289.5,273.1 290.0,273.1 290.5,273.1 291.0,273.0 291.5,273.0 292.0,273.0 292.5,273.0 293.0,273.0 293.5,273.0 294.0,273.0 294.5,273.0 295.0,273.0 295.5,273.0 296.0,272.9 296.5,272.9 297.0,272.9 297.5,272.9 298.0,272.9 298.5,272.9 299.0,272.9 299.5,272.9 300.0,272.9 300.5,272.9 301.0,272.9 301.5,272.8 302.0,272.8 302.5,272.8 303.0,272.8 303.5,272.8 304.0,272.8 304.5,272.8 305.0,272.8 305.5,272.8 306.0,272.8 306.5,272.7 307.0,272.7 307.5,272.7 308.0,272.7 308.5,272.7 309.0,272.7 309.5,272.7 310.0,272.7 310.5,272.7 311.0,272.7 311.5,272.6 312.0,272.6 312.5,272.6 313.0,272.6 313.5,272.6 314.0,272.6 314.5,272.6 315.0,272.6 315.5,272.6 316.0,272.6 316.5,272.5 317.0,272.5 317.5,272.5 318.0,272.5 318.5,272.5 319.0,272.5 319.5,272.5 320.0,272.5 320.5,272.5 321.0,272.5 321.5,272.4 322.0,272.4 322.5,272.4 323.0,272.4 323.5,272.4 324.0,272.4 324.5,272.4 325.0,272.4 325.5,272.4 326.0,272.5 326.5,272.5 327.0,272.5 327.5,272.5 328.0,272.5 328.5,272.5 329.0,272.5 329.5,272.6 330.0,272.6 330.5,272.6 331.0,272.6 331.5,272.6 332.0,272.6 332.5,272.6 333.0,272.7 333.5,272.7 334.0,272.7 334.5,272.7 335.0,272.7 335.5,272.7 336.0,272.8 336.5,272.8 337.0,272.8 337.5,272.8 338.0,272.8 338.5,272.8 339.0,272.8 339.5,272.9 340.0,272.9 340.5,272.9 341.0,272.9 341.5,272.9 342.0,272.9 342.5,272.9 343.0,273.0 343.5,273.0 344.0,273.0 344.5,273.0 345.0,273.0 345.5,273.1 346.0,273.1 346.5,273.1 347.0,273.1 347.5,273.1 348.0,273.2 348.5,273.2 349.0,273.2 349.5,273.2 350.0,273.2 350.5,273.3 351.0,273.3 351.5,273.3 352.0,273.3 352.5,273.3 353.0,273.4 353.5,273.4 354.0,273.4 354.5,273.4 355.0,273.4 355.5,273.5 356.0,273.5 356.5,273.5 357.0,273.5 357.5,273.5 358.0,273.6 358.5,273.6 359.0,273.6 359.5,273.6 360.0,273.6 360.5,273.7 361.0,273.7 361.5,273.7 362.0,273.7 362.5,273.7 363.0,273.8 363.5,273.8 364.0,273.8 364.5,273.8 365.0,273.8 365.5,273.9 366.0,273.9 366.5,273.9 367.0,273.9 367.5,273.9 368.0,274.0 368.5,274.0 369.0,274.0 369.5,274.0 370.0,274.0 370.5,274.1 371.0,274.1 371.5,274.1 372.0,274.1 372.5,274.1 373.0,274.1 373.5,274.2 374.0,274.2 374.5,274.2 375.0,274.2 375.5,274.2 376.0,274.2 376.5,274.2 377.0,274.2 377.5,274.3 378.0,274.3 378.5,274.3 379.0,274.3 379.5,274.3 380.0,274.3 380.5,274.3 381.0,274.3 381.5,274.3 382.0,274.3 382.5,274.3 383.0,274.3 383.5,274.4 384.0,274.4 384.5,274.4 385.0,274.4 385.5,274.4 386.0,274.4 386.5,274.4 387.0,274.4 387.5,274.4 388.0,274.4 388.5,274.4 389.0,274.4 389.5,274.5 390.0,274.5 390.5,274.5 391.0,274.5 391.5,274.5 392.0,274.5 392.5,274.5 393.0,274.5 393.5,274.5 394.0,274.5 394.5,274.5 395.0,274.5 395.5,274.6 396.0,274.6 396.5,274.6 397.0,274.6 397.5,274.6 398.0,274.6 398.5,274.6 399.0,274.6 399.5,274.6 400.0,274.6 400.5,274.6 401.0,274.6 401.5,274.7 402.0,274.7 402.5,274.7 403.0,274.7 403.5,274.7 404.0,274.7 404.5,274.7 405.0,274.7 405.5,274.7 406.0,274.7 406.5,274.8 407.0,274.8 407.5,274.8 408.0,274.8 408.5,274.8 409.0,274.8 409.5,274.8 410.0,274.8 410.5,274.9 411.0,274.9 411.5,274.9 412.0,274.9 412.5,274.9 413.0,274.9 413.5,274.9 414.0,274.9 414.5,275.0 415.0,275.0 415.5,275.0 416.0,275.0 416.5,275.0 417.0,275.0 417.5,275.0 418.0,275.0 418.5,275.1 419.0,275.1 419.5,275.1 420.0,275.1 420.5,275.1 421.0,275.1 421.5,275.1 422.0,275.1 422.5,275.1 423.0,275.2 423.5,275.2 424.0,275.2 424.5,275.2 425.0,275.2 425.5,275.2 426.0,275.2 426.5,275.2 427.0,275.3 427.5,275.3 428.0,275.3 428.5,275.3 429.0,275.3 429.5,275.3 430.0,275.3 430.5,275.3 431.0,275.4 431.5,275.4 432.0,275.4 432.5,275.4 433.0,275.4 433.5,275.4 434.0,275.4 434.5,275.4 435.0,275.5 435.5,275.5 436.0,275.5 436.5,275.5 437.0,275.5 437.5,275.5 438.0,275.5 438.5,275.5 439.0,275.6 439.5,275.6 440.0,275.6 440.5,275.6 441.0,275.6 441.5,275.6 442.0,275.6 442.5,275.6 443.0,275.6 443.5,275.7 444.0,275.7 444.5,275.7 445.0,275.7 445.5,275.7 446.0,275.7 446.5,275.7 447.0,275.7 447.5,275.8 448.0,275.8 448.5,275.8 449.0,275.8 449.5,275.8" fill="none" stroke="#00ff00" stroke-width="3.0" stroke-linejoin="round"/><path d="M45.50,184.2 45.75,184.7 46.00,185.2 46.25,185.6 46.50,185.7 46.75,185.6 47.00,185.3 47.25,185.0 47.50,184.6 47.75,184.4 48.00,184.3 48.25,184.2 48.50,184.3 48.75,184.4 49.00,184.5 49.25,184.6 49.50,184.6 49.75,184.5 50.00,184.2 50.25,184.0 50.50,183.8 50.75,183.7 51.00,183.7 51.25,183.7 51.50,183.8 51.75,183.9 52.00,183.8 52.25,183.6 52.50,183.3 52.75,183.1 53.00,182.9 53.25,182.8 53.50,182.9 53.75,183.2 54.00,183.5 54.25,183.9 54.50,184.2 54.75,184.5 55.00,184.8 55.25,184.9 55.50,185.1 55.75,185.1 56.00,185.1 56.25,184.9 56.50,184.6 56.75,184.2 57.00,183.9 57.25,183.7 57.50,183.5 57.75,183.3 58.00,183.1 58.25,182.9 58.50,182.7 58.75,182.5 59.00,182.4 59.25,182.3 59.50,182.4 59.75,182.5 60.00,182.7 60.25,182.9 60.50,183.2 60.75,183.3 61.00,183.4 61.25,183.5 61.50,183.5 61.75,183.5 62.00,183.4 62.25,183.3 62.50,183.2 62.75,183.0 63.00,182.9 63.25,182.8 63.50,182.8 63.75,182.8 64.00,182.8 64.25,182.7 64.50,182.5 64.75,182.3 65.00,182.0 65.25,181.7 65.50,181.5 65.75,181.4 66.00,181.4 66.25,181.4 66.50,181.4 66.75,181.5 67.00,181.6 67.25,181.6 67.50,181.6 67.75,181.6 68.00,181.6 68.25,181.6 68.50,181.6 68.75,181.6 69.00,181.6 69.25,181.6 69.50,181.7 69.75,181.7 70.00,181.7 70.25,181.8 70.50,181.8 70.75,181.9 71.00,181.9 71.25,181.9 71.50,182.0 71.75,182.0 72.00,182.2 72.25,182.3 72.50,182.4 72.75,182.5 73.00,182.5 73.25,182.4 73.50,182.4 73.75,182.4 74.00,182.3 74.25,182.3 74.50,182.3 74.75,182.3 75.00,182.3 75.25,182.4 75.50,182.5 75.75,182.6 76.00,182.8 76.25,183.1 76.50,183.3 76.75,183.5 77.00,183.7 77.25,184.0 77.50,184.2 77.75,184.5 78.00,184.8 78.25,185.0 78.50,185.1 78.75,185.1 79.00,185.2 79.25,185.2 79.50,185.2 79.75,185.1 80.00,185.1 80.25,185.0 80.50,184.9 80.75,184.8 81.00,184.7 81.25,184.7 81.50,184.7 81.75,184.8 82.00,184.9 82.25,185.1 82.50,185.3 82.75,185.5 83.00,185.7 83.25,185.9 83.50,186.2 83.75,186.5 84.00,187.0 84.25,187.4 84.50,187.7 84.75,187.8 85.00,187.7 85.25,187.6 85.50,187.5 85.75,187.4 86.00,187.4 86.25,187.5 86.50,187.5 86.75,187.6 87.00,187.7 87.25,187.8 87.50,187.9 87.75,188.0 88.00,188.1 88.25,188.2 88.50,188.4 88.75,188.6 89.00,188.8 89.25,189.0 89.50,189.2 89.75,189.4 90.00,189.6 90.25,189.9 90.50,190.1 90.75,190.2 91.00,190.1 91.25,190.0 91.50,189.8 91.75,189.6 92.00,189.4 92.25,189.3 92.50,189.3 92.75,189.4 93.00,189.6 93.25,190.0 93.50,190.5 93.75,191.0 94.00,191.5 94.25,192.0 94.50,192.3 94.75,192.5 95.00,192.6 95.25,192.6 95.50,192.6 95.75,192.6 96.00,192.5 96.25,192.3 96.50,192.0 96.75,191.8 97.00,191.6 97.25,191.5 97.50,191.4 97.75,191.4 98.00,191.5 98.25,191.6 98.50,191.9 98.75,192.2 99.00,192.6 99.25,193.0 99.50,193.3 99.75,193.6 100.00,193.8 100.25,194.0 100.50,194.3 100.75,194.5 101.00,194.5 101.25,194.4 101.50,194.2 101.75,194.0 102.00,193.8 102.25,193.8 102.50,193.8 102.75,193.9 103.00,194.0 103.25,194.2 103.50,194.4 103.75,194.6 104.00,194.8 104.25,195.0 104.50,195.4 104.75,195.7 105.00,196.0 105.25,196.3 105.50,196.5 105.75,196.7 106.00,196.9 106.25,197.1 106.50,197.3 106.75,197.5 107.00,197.6 107.25,197.6 107.50,197.6 107.75,197.4 108.00,197.2 108.25,196.9 108.50,196.6 108.75,196.3 109.00,196.1 109.25,196.1 109.50,196.2 109.75,196.5 110.00,197.0 110.25,197.5 110.50,198.0 110.75,198.4 111.00,198.5 111.25,198.6 111.50,198.5 111.75,198.5 112.00,198.4 112.25,198.4 112.50,198.4 112.75,198.4 113.00,198.5 113.25,198.5 113.50,198.6 113.75,198.6 114.00,198.6 114.25,198.6 114.50,198.5 114.75,198.5 115.00,198.4 115.25,198.4 115.50,198.5 115.75,198.6 116.00,198.8 116.25,199.0 116.50,199.2 116.75,199.4 117.00,199.6 117.25,199.6 117.50,199.7 117.75,199.7 118.00,199.8 118.25,199.9 118.50,200.1 118.75,200.3 119.00,200.5 119.25,200.6 119.50,200.7 119.75,200.8 120.00,200.9 120.25,201.0 120.50,201.2 120.75,201.3 121.00,201.4 121.25,201.5 121.50,201.5 121.75,201.4 122.00,201.4 122.25,201.4 122.50,201.4 122.75,201.5 123.00,201.6 123.25,201.7 123.50,201.9 123.75,202.0 124.00,202.1 124.25,202.2 124.50,202.3 124.75,202.3 125.00,202.4 125.25,202.5 125.50,202.6 125.75,202.8 126.00,203.1 126.25,203.4 126.50,203.6 126.75,203.8 127.00,204.0 127.25,204.1 127.50,204.2 127.75,204.4 128.00,204.7 128.25,205.0 128.50,205.3 128.75,205.6 129.00,205.9 129.25,206.0 129.50,206.1 129.75,206.1 130.00,205.9 130.25,205.8 130.50,205.6 130.75,205.3 131.00,205.1 131.25,204.9 131.50,204.7 131.75,204.6 132.00,204.6 132.25,204.7 132.50,204.8 132.75,205.1 133.00,205.4 133.25,205.7 133.50,205.9 133.75,206.0 134.00,206.1 134.25,206.1 134.50,206.0 134.75,205.8 135.00,205.6 135.25,205.4 135.50,205.3 135.75,205.2 136.00,205.2 136.25,205.2 136.50,205.3 136.75,205.6 137.00,205.9 137.25,206.3 137.50,206.7 137.75,206.8 138.00,206.7 138.25,206.6 138.50,206.4 138.75,206.2 139.00,206.1 139.25,206.1 139.50,206.2 139.75,206.3 140.00,206.3 140.25,206.4 140.50,206.5 140.75,206.6 141.00,206.7 141.25,206.9 141.50,207.3 141.75,207.7 142.00,208.2 142.25,208.7 142.50,208.9 142.75,208.9 143.00,208.6 143.25,208.3 143.50,208.1 143.75,207.9 144.00,207.9 144.25,208.0 144.50,208.2 144.75,208.5 145.00,208.7 145.25,208.8 145.50,208.8 145.75,208.7 146.00,208.6 146.25,208.6 146.50,208.5 146.75,208.5 147.00,208.6 147.25,208.6 147.50,208.7 147.75,208.7 148.00,208.8 148.25,208.9 148.50,208.9 148.75,209.0 149.00,209.2 149.25,209.3 149.50,209.3 149.75,209.4 150.00,209.4 150.25,209.5 150.50,209.5 150.75,209.4 151.00,209.3 151.25,209.2 151.50,209.0 151.75,208.9 152.00,208.6 152.25,208.2 152.50,207.6 152.75,206.9 153.00,206.0 153.25,204.9 153.50,203.6 153.75,202.0 154.00,200.4 154.25,198.9 154.50,197.6 154.75,196.8 155.00,196.1 155.25,195.7 155.50,195.5 155.75,195.3 156.00,195.2 156.25,195.2 156.50,195.3 156.75,195.5 157.00,195.8 157.25,196.2 157.50,196.9 157.75,197.8 158.00,199.0 158.25,200.5 158.50,202.0 158.75,203.6 159.00,205.2 159.25,206.6 159.50,208.0 159.75,209.1 160.00,210.0 160.25,210.6 160.50,211.0 160.75,211.3 161.00,211.5 161.25,211.7 161.50,211.8 161.75,212.0 162.00,212.2 162.25,212.5 162.50,212.9 162.75,213.3 163.00,213.7 163.25,214.0 163.50,214.2 163.75,214.4 164.00,214.6 164.25,214.8 164.50,215.0 164.75,215.1 165.00,215.0 165.25,214.8 165.50,214.4 165.75,214.1 166.00,213.8 166.25,213.7 166.50,213.6 166.75,213.6 167.00,213.7 167.25,213.8 167.50,214.1 167.75,214.3 168.00,214.6 168.25,214.8 168.50,215.0 168.75,215.1 169.00,215.3 169.25,215.4 169.50,215.6 169.75,215.8 170.00,215.9 170.25,216.1 170.50,216.2 170.75,216.3 171.00,216.4 171.25,216.6 171.50,216.8 171.75,217.0 172.00,217.1 172.25,217.2 172.50,217.2 172.75,217.1 173.00,217.0 173.25,216.8 173.50,216.6 173.75,216.4 174.00,216.2 174.25,216.1 174.50,216.0 174.75,216.0 175.00,216.1 175.25,216.2 175.50,216.4 175.75,216.6 176.00,216.8 176.25,216.9 176.50,216.9 176.75,216.9 177.00,216.7 177.25,216.5 177.50,216.3 177.75,216.2 178.00,216.1 178.25,216.1 178.50,216.1 178.75,216.1 179.00,216.2 179.25,216.2 179.50,216.3 179.75,216.5 180.00,216.7 180.25,217.0 180.50,217.2 180.75,217.3 181.00,217.3 181.25,217.1 181.50,216.8 181.75,216.6 182.00,216.5 182.25,216.4 182.50,216.5 182.75,216.6 183.00,216.7 183.25,216.8 183.50,217.0 183.75,217.0 184.00,217.0 184.25,217.0 184.50,216.9 184.75,216.9 185.00,216.8 185.25,216.6 185.50,216.5 185.75,216.3 186.00,216.2 186.25,216.2 186.50,216.1 186.75,216.1 187.00,216.1 187.25,216.0 187.50,216.0 187.75,215.9 188.00,215.8 188.25,215.6 188.50,215.4 188.75,215.1 189.00,214.8 189.25,214.6 189.50,214.5 189.75,214.5 190.00,214.4 190.25,214.4 190.50,214.3 190.75,214.2 191.00,213.9 191.25,213.7 191.50,213.3 191.75,212.9 192.00,212.3 192.25,211.7 192.50,211.0 192.75,210.1 193.00,209.0 193.25,207.6 193.50,205.9 193.75,204.0 194.00,202.1 194.25,200.1 194.50,198.0 194.75,196.0 195.00,194.0 195.25,192.2 195.50,190.5 195.75,189.1 196.00,187.7 196.25,186.6 196.50,185.8 196.75,185.4 197.00,185.2 197.25,185.3 197.50,185.7 197.75,186.3 198.00,187.1 198.25,188.3 198.50,189.8 198.75,191.7 199.00,194.0 199.25,196.5 199.50,199.0 199.75,201.3 200.00,203.4 200.25,205.3 200.50,207.1 200.75,208.8 201.00,210.3 201.25,211.6 201.50,212.9 201.75,214.2 202.00,215.4 202.25,216.4 202.50,217.2 202.75,217.6 203.00,217.8 203.25,217.9 203.50,218.0 203.75,218.0 204.00,218.1 204.25,218.2 204.50,218.3 204.75,218.3 205.00,218.3 205.25,218.3 205.50,218.4 205.75,218.4 206.00,218.6 206.25,218.7 206.50,218.8 206.75,218.9 207.00,219.1 207.25,219.2 207.50,219.3 207.75,219.3 208.00,219.3 208.25,219.3 208.50,219.3 208.75,219.3 209.00,219.4 209.25,219.7 209.50,219.9 209.75,220.2 210.00,220.4 210.25,220.5 210.50,220.6 210.75,220.6 211.00,220.6 211.25,220.5 211.50,220.6 211.75,220.6 212.00,220.6 212.25,220.7 212.50,220.7 212.75,220.8 213.00,220.9 213.25,221.0 213.50,221.1 213.75,221.1 214.00,221.1 214.25,221.1 214.50,221.0 214.75,220.9 215.00,220.7 215.25,220.6 215.50,220.6 215.75,220.6 216.00,220.6 216.25,220.6 216.50,220.6 216.75,220.6 217.00,220.7 217.25,220.8 217.50,221.0 217.75,221.3 218.00,221.6 218.25,221.9 218.50,222.1 218.75,222.3 219.00,222.4 219.25,222.4 219.50,222.4 219.75,222.4 220.00,222.4 220.25,222.3 220.50,222.2 220.75,222.1 221.00,221.9 221.25,221.7 221.50,221.5 221.75,221.4 222.00,221.4 222.25,221.4 222.50,221.5 222.75,221.7 223.00,221.9 223.25,222.1 223.50,222.2 223.75,222.3 224.00,222.4 224.25,222.5 224.50,222.5 224.75,222.6 225.00,222.7 225.25,222.7 225.50,222.8 225.75,222.8 226.00,222.9 226.25,222.9 226.50,222.9 226.75,222.7 227.00,222.6 227.25,222.4 227.50,222.3 227.75,222.2 228.00,222.2 228.25,222.2 228.50,222.3 228.75,222.3 229.00,222.4 229.25,222.4 229.50,222.5 229.75,222.5 230.00,222.5 230.25,222.6 230.50,222.7 230.75,222.7 231.00,222.8 231.25,222.9 231.50,223.1 231.75,223.3 232.00,223.5 232.25,223.7 232.50,223.7 232.75,223.7 233.00,223.6 233.25,223.5 233.50,223.4 233.75,223.4 234.00,223.4 234.25,223.4 234.50,223.5 234.75,223.7 235.00,223.9 235.25,224.1 235.50,224.3 235.75,224.5 236.00,224.7 236.25,224.9 236.50,225.0 236.75,225.1 237.00,225.2 237.25,225.2 237.50,225.2 237.75,225.2 238.00,225.2 238.25,225.2 238.50,225.2 238.75,225.2 239.00,225.3 239.25,225.3 239.50,225.3 239.75,225.3 240.00,225.3 240.25,225.3 240.50,225.3 240.75,225.3 241.00,225.3 241.25,225.3 241.50,225.2 241.75,225.1 242.00,225.0 242.25,225.0 242.50,225.1 242.75,225.4 243.00,225.8 243.25,226.2 243.50,226.5 243.75,226.7 244.00,226.7 244.25,226.5 244.50,226.2 244.75,225.9 245.00,225.6 245.25,225.4 245.50,225.2 245.75,225.2 246.00,225.2 246.25,225.2 246.50,225.2 246.75,225.2 247.00,225.3 247.25,225.3 247.50,225.4 247.75,225.5 248.00,225.7 248.25,226.0 248.50,226.3 248.75,226.5 249.00,226.6 249.25,226.4 249.50,226.2 249.75,226.0 250.00,225.8 250.25,225.7 250.50,225.6 250.75,225.6 251.00,225.5 251.25,225.5 251.50,225.5 251.75,225.6 252.00,225.7 252.25,225.9 252.50,226.2 252.75,226.4 253.00,226.6 253.25,226.6 253.50,226.5 253.75,226.3 254.00,226.1 254.25,225.9 254.50,225.8 254.75,225.7 255.00,225.7 255.25,225.8 255.50,226.0 255.75,226.2 256.00,226.4 256.25,226.4 256.50,226.3 256.75,226.0 257.00,225.8 257.25,225.6 257.50,225.4 257.75,225.4 258.00,225.4 258.25,225.4 258.50,225.5 258.75,225.6 259.00,225.7 259.25,225.7 259.50,225.8 259.75,225.8 260.00,225.9 260.25,225.9 260.50,226.0 260.75,226.1 261.00,226.0 261.25,225.9 261.50,225.8 261.75,225.6 262.00,225.5 262.25,225.4 262.50,225.4 262.75,225.3 263.00,225.3 263.25,225.3 263.50,225.4 263.75,225.4 264.00,225.6 264.25,225.8 264.50,226.1 264.75,226.3 265.00,226.5 265.25,226.5 265.50,226.4 265.75,226.2 266.00,225.9 266.25,225.7 266.50,225.6 266.75,225.6 267.00,225.6 267.25,225.7 267.50,225.8 267.75,225.9 268.00,226.0 268.25,226.1 268.50,226.2 268.75,226.2 269.00,226.3 269.25,226.2 269.50,226.1 269.75,226.0 270.00,225.8 270.25,225.6 270.50,225.5 270.75,225.4 271.00,225.4 271.25,225.5 271.50,225.5 271.75,225.6 272.00,225.8 272.25,226.0 272.50,226.2 272.75,226.4 273.00,226.6 273.25,226.7 273.50,226.8 273.75,226.9 274.00,227.0 274.25,227.1 274.50,227.0 274.75,227.0 275.00,226.9 275.25,226.8 275.50,226.8 275.75,226.8 276.00,226.7 276.25,226.7 276.50,226.6 276.75,226.5 277.00,226.4 277.25,226.3 277.50,226.2 277.75,226.2 278.00,226.1 278.25,226.2 278.50,226.2 278.75,226.3 279.00,226.4 279.25,226.5 279.50,226.5 279.75,226.4 280.00,226.3 280.25,226.2 280.50,226.2 280.75,226.2 281.00,226.4 281.25,226.5 281.50,226.7 281.75,226.9 282.00,227.0 282.25,226.9 282.50,226.8 282.75,226.5 283.00,226.3 283.25,226.0 283.50,225.9 283.75,225.8 284.00,225.8 284.25,226.0 284.50,226.3 284.75,226.7 285.00,227.0 285.25,227.3 285.50,227.4 285.75,227.3 286.00,227.2 286.25,227.1 286.50,227.0 286.75,227.0 287.00,227.0 287.25,227.1 287.50,227.2 287.75,227.4 288.00,227.4 288.25,227.5 288.50,227.4 288.75,227.3 289.00,227.2 289.25,227.2 289.50,227.1 289.75,227.1 290.00,227.2 290.25,227.3 290.50,227.3 290.75,227.4 291.00,227.3 291.25,227.2 291.50,226.9 291.75,226.7 292.00,226.4 292.25,226.2 292.50,226.0 292.75,225.9 293.00,225.9 293.25,225.9 293.50,226.0 293.75,226.2 294.00,226.4 294.25,226.5 294.50,226.6 294.75,226.5 295.00,226.4 295.25,226.4 295.50,226.4 295.75,226.4 296.00,226.4 296.25,226.4 296.50,226.5 296.75,226.5 297.00,226.5 297.25,226.4 297.50,226.3 297.75,226.2 298.00,226.1 298.25,226.0 298.50,226.0 298.75,225.9 299.00,225.9 299.25,225.9 299.50,225.9 299.75,225.9 300.00,225.9 300.25,226.0 300.50,226.0 300.75,226.0 301.00,226.0 301.25,226.1 301.50,226.2 301.75,226.3 302.00,226.4 302.25,226.5 302.50,226.6 302.75,226.7 303.00,226.8 303.25,226.9 303.50,227.1 303.75,227.4 304.00,227.7 304.25,227.9 304.50,228.0 304.75,228.0 305.00,228.0 305.25,227.9 305.50,227.9 305.75,227.8 306.00,227.8 306.25,227.7 306.50,227.7 306.75,227.6 307.00,227.6 307.25,227.6 307.50,227.6 307.75,227.7 308.00,227.8 308.25,227.9 308.50,228.0 308.75,228.1 309.00,228.1 309.25,228.0 309.50,227.8 309.75,227.4 310.00,227.1 310.25,226.7 310.50,226.5 310.75,226.4 311.00,226.4 311.25,226.5 311.50,226.5 311.75,226.6 312.00,226.5 312.25,226.5 312.50,226.4 312.75,226.4 313.00,226.3 313.25,226.3 313.50,226.3 313.75,226.4 314.00,226.4 314.25,226.5 314.50,226.6 314.75,226.8 315.00,226.9 315.25,227.0 315.50,227.1 315.75,227.3 316.00,227.4 316.25,227.5 316.50,227.5 316.75,227.5 317.00,227.4 317.25,227.2 317.50,227.1 317.75,227.0 318.00,227.0 318.25,226.9 318.50,226.9 318.75,227.0 319.00,227.1 319.25,227.3 319.50,227.5 319.75,227.7 320.00,227.9 320.25,228.1 320.50,228.2 320.75,228.2 321.00,228.1 321.25,228.0 321.50,227.9 321.75,227.7 322.00,227.4 322.25,227.2 322.50,227.1 322.75,227.0 323.00,227.0 323.25,227.0 323.50,227.1 323.75,227.1 324.00,227.2 324.25,227.3 324.50,227.4 324.75,227.5 325.00,227.5 325.25,227.6 325.50,227.7 325.75,227.8 326.00,227.9 326.25,228.0 326.50,228.1 326.75,228.2 327.00,228.2 327.25,228.2 327.50,228.2 327.75,228.1 328.00,228.0 328.25,227.8 328.50,227.6 328.75,227.4 329.00,227.2 329.25,227.0 329.50,226.9 329.75,226.9 330.00,226.9 330.25,227.0 330.50,227.1 330.75,227.3 331.00,227.5 331.25,227.6 331.50,227.8 331.75,227.9 332.00,228.1 332.25,228.3 332.50,228.6 332.75,228.9 333.00,229.0 333.25,229.1 333.50,229.1 333.75,229.0 334.00,228.8 334.25,228.6 334.50,228.5 334.75,228.5 335.00,228.4 335.25,228.4 335.50,228.4 335.75,228.4 336.00,228.3 336.25,228.2 336.50,228.1 336.75,228.0 337.00,227.9 337.25,227.9 337.50,227.9 337.75,227.9 338.00,227.9 338.25,228.0 338.50,228.1 338.75,228.1 339.00,228.1 339.25,228.0 339.50,227.8 339.75,227.6 340.00,227.4 340.25,227.3 340.50,227.3 340.75,227.2 341.00,227.3 341.25,227.4 341.50,227.5 341.75,227.6 342.00,227.7 342.25,227.8 342.50,227.9 342.75,227.9 343.00,228.0 343.25,228.0 343.50,228.1 343.75,228.2 344.00,228.3 344.25,228.4 344.50,228.6 344.75,228.7 345.00,228.8 345.25,228.9 345.50,229.0 345.75,228.9 346.00,228.8 346.25,228.7 346.50,228.5 346.75,228.3 347.00,228.1 347.25,228.0 347.50,227.9 347.75,227.9 348.00,228.0 348.25,228.1 348.50,228.3 348.75,228.5 349.00,228.7 349.25,228.9 349.50,229.0 349.75,229.1 350.00,229.2 350.25,229.3 350.50,229.3 350.75,229.1 351.00,228.9 351.25,228.6 351.50,228.4 351.75,228.1 352.00,228.0 352.25,227.9 352.50,227.8 352.75,227.7 353.00,227.7 353.25,227.6 353.50,227.6 353.75,227.5 354.00,227.5 354.25,227.4 354.50,227.4 354.75,227.4 355.00,227.5 355.25,227.6 355.50,227.9 355.75,228.2 356.00,228.6 356.25,228.8 356.50,228.9 356.75,228.9 357.00,228.7 357.25,228.5 357.50,228.2 357.75,228.0 358.00,227.8 358.25,227.6 358.50,227.5 358.75,227.5 359.00,227.4 359.25,227.4 359.50,227.4 359.75,227.4 360.00,227.4 360.25,227.4 360.50,227.5 360.75,227.6 361.00,227.7 361.25,228.0 361.50,228.2 361.75,228.4 362.00,228.5 362.25,228.5 362.50,228.4 362.75,228.2 363.00,228.0 363.25,227.8 363.50,227.6 363.75,227.5 364.00,227.5 364.25,227.6 364.50,227.8 364.75,228.0 365.00,228.3 365.25,228.5 365.50,228.7 365.75,228.8 366.00,228.8 366.25,228.9 366.50,228.9 366.75,228.9 367.00,228.9 367.25,228.8 367.50,228.7 367.75,228.7 368.00,228.6 368.25,228.5 368.50,228.5 368.75,228.5 369.00,228.4 369.25,228.4 369.50,228.4 369.75,228.4 370.00,228.3 370.25,228.2 370.50,228.2 370.75,228.2 371.00,228.1 371.25,228.2 371.50,228.2 371.75,228.2 372.00,228.3 372.25,228.3 372.50,228.3 372.75,228.3 373.00,228.2 373.25,228.2 373.50,228.1 373.75,228.0 374.00,227.9 374.25,227.9 374.50,227.8 374.75,227.7 375.00,227.6 375.25,227.6 375.50,227.5 375.75,227.5 376.00,227.5 376.25,227.5 376.50,227.6 376.75,227.7 377.00,227.8 377.25,227.9 377.50,228.0 377.75,228.2 378.00,228.3 378.25,228.3 378.50,228.2 378.75,228.1 379.00,227.9 379.25,227.7 379.50,227.6 379.75,227.5 380.00,227.4 380.25,227.4 380.50,227.4 380.75,227.3 381.00,227.3 381.25,227.3 381.50,227.3 381.75,227.3 382.00,227.3 382.25,227.3 382.50,227.3 382.75,227.3 383.00,227.3 383.25,227.3 383.50,227.3 383.75,227.4 384.00,227.5 384.25,227.7 384.50,228.0 384.75,228.3 385.00,228.5 385.25,228.7 385.50,228.9 385.75,228.9 386.00,229.0 386.25,229.0 386.50,229.0 386.75,228.9 387.00,228.8 387.25,228.5 387.50,228.2 387.75,227.9 388.00,227.6 388.25,227.4 388.50,227.3 388.75,227.2 389.00,227.2 389.25,227.3 389.50,227.3 389.75,227.4 390.00,227.5 390.25,227.6 390.50,227.8 390.75,227.9 391.00,227.9 391.25,227.9 391.50,227.7 391.75,227.4 392.00,227.2 392.25,227.0 392.50,227.0 392.75,227.0 393.00,227.1 393.25,227.2 393.50,227.4 393.75,227.5 394.00,227.6 394.25,227.6 394.50,227.6 394.75,227.5 395.00,227.6 395.25,227.6 395.50,227.7 395.75,227.8 396.00,227.9 396.25,228.0 396.50,228.1 396.75,228.1 397.00,228.1 397.25,228.1 397.50,228.1 397.75,228.1 398.00,228.0 398.25,227.8 398.50,227.5 398.75,227.1 399.00,226.7 399.25,226.3 399.50,226.0 399.75,225.8 400.00,225.7 400.25,225.5 400.50,225.5 400.75,225.4 401.00,225.3 401.25,225.3 401.50,225.3 401.75,225.3 402.00,225.3 402.25,225.4 402.50,225.4 402.75,225.5 403.00,225.5 403.25,225.6 403.50,225.6 403.75,225.6 404.00,225.5 404.25,225.4 404.50,225.2 404.75,225.1 405.00,225.0 405.25,224.8 405.50,224.8 405.75,224.7 406.00,224.7 406.25,224.7 406.50,224.7 406.75,224.7 407.00,224.8 407.25,224.8 407.50,224.9 407.75,224.9 408.00,224.9 408.25,224.9 408.50,224.9 408.75,225.0 409.00,225.2 409.25,225.3 409.50,225.6 409.75,225.8 410.00,226.0 410.25,226.1 410.50,226.2 410.75,226.3 411.00,226.5 411.25,226.6 411.50,226.7 411.75,226.8 412.00,226.9 412.25,227.0 412.50,227.0 412.75,227.1 413.00,227.2 413.25,227.3 413.50,227.3 413.75,227.4 414.00,227.3 414.25,227.3 414.50,227.3 414.75,227.4 415.00,227.6 415.25,227.8 415.50,228.1 415.75,228.3 416.00,228.5 416.25,228.6 416.50,228.7 416.75,228.9 417.00,229.0 417.25,229.2 417.50,229.4 417.75,229.6 418.00,229.8 418.25,229.9 418.50,230.0 418.75,230.1 419.00,230.1 419.25,230.1 419.50,230.1 419.75,230.1 420.00,230.1 420.25,230.1 420.50,230.1 420.75,230.1 421.00,230.2 421.25,230.2 421.50,230.4 421.75,230.5 422.00,230.8 422.25,231.0 422.50,231.2 422.75,231.3 423.00,231.4 423.25,231.4 423.50,231.4 423.75,231.4 424.00,231.4 424.25,231.4 424.50,231.5 424.75,231.6 425.00,231.7 425.25,231.9 425.50,232.0 425.75,232.1 426.00,232.2 426.25,232.2 426.50,232.3 426.75,232.3 427.00,232.4 427.25,232.4 427.50,232.5 427.75,232.5 428.00,232.6 428.25,232.7 428.50,232.7 428.75,232.8 429.00,232.8 429.25,232.8 429.50,232.8 429.75,232.7 430.00,232.5 430.25,232.4 430.50,232.2 430.75,232.1 431.00,232.0 431.25,231.9 431.50,232.0 431.75,232.0 432.00,232.0 432.25,232.1 432.50,232.1 432.75,232.1 433.00,232.2 433.25,232.2 433.50,232.2 433.75,232.2 434.00,232.3 434.25,232.4 434.50,232.4 434.75,232.5 435.00,232.6 435.25,232.6 435.50,232.6 435.75,232.5 436.00,232.5 436.25,232.4 436.50,232.4 436.75,232.4 437.00,232.5 437.25,232.7 437.50,232.9 437.75,233.2 438.00,233.4 438.25,233.6 438.50,233.7 438.75,233.7 439.00,233.7 439.25,233.5 439.50,233.4 439.75,233.2 440.00,233.0 440.25,232.8 440.50,232.7 440.75,232.6 441.00,232.5 441.25,232.5 441.50,232.5 441.75,232.5 442.00,232.6 442.25,232.7 442.50,232.9 442.75,233.0 443.00,232.9 443.25,232.8 443.50,232.7 443.75,232.5 444.00,232.4 444.25,232.4 444.50,232.4 444.75,232.5 445.00,232.6 445.25,232.7 445.50,232.8 445.75,232.9 446.00,232.9 446.25,232.9 446.50,232.9 446.75,232.9 447.00,232.9 447.25,232.8 447.50,232.8 447.75,232.8 448.00,232.8 448.25,232.8 448.50,232.9 448.75,232.9 449.00,233.0 449.25,233.1 449.50,233.1 L449.50,238.6 449.25,238.7 449.00,238.7 448.75,238.8 448.50,238.9 448.25,239.0 448.00,239.1 447.75,239.1 447.50,239.2 447.25,239.3 447.00,239.4 446.75,239.5 446.50,239.6 446.25,239.7 446.00,239.7 445.75,239.7 445.50,239.7 445.25,239.7 445.00,239.7 444.75,239.7 444.50,239.6 444.25,239.6 444.00,239.6 443.75,239.7 443.50,239.8 443.25,239.9 443.00,240.1 442.75,240.2 442.50,240.3 442.25,240.3 442.00,240.2 441.75,240.1 441.50,239.9 441.25,239.7 441.00,239.4 440.75,239.3 440.50,239.2 440.25,239.3 440.00,239.4 439.75,239.6 439.50,239.7 439.25,239.8 439.00,239.8 438.75,239.8 438.50,239.8 438.25,239.7 438.00,239.6 437.75,239.5 437.50,239.4 437.25,239.4 437.00,239.5 436.75,239.7 436.50,240.0 436.25,240.2 436.00,240.3 435.75,240.3 435.50,240.2 435.25,240.0 435.00,239.7 434.75,239.3 434.50,239.0 434.25,238.8 434.00,238.8 433.75,239.0 433.50,239.2 433.25,239.5 433.00,239.7 432.75,239.9 432.50,240.1 432.25,240.1 432.00,240.1 431.75,240.2 431.50,240.1 431.25,240.1 431.00,240.1 430.75,240.0 430.50,240.0 430.25,239.9 430.00,239.8 429.75,239.6 429.50,239.4 429.25,239.1 429.00,238.9 428.75,238.7 428.50,238.6 428.25,238.5 428.00,238.4 427.75,238.3 427.50,238.1 427.25,237.9 427.00,237.7 426.75,237.6 426.50,237.5 426.25,237.4 426.00,237.4 425.75,237.4 425.50,237.4 425.25,237.4 425.00,237.4 424.75,237.4 424.50,237.4 424.25,237.4 424.00,237.4 423.75,237.5 423.50,237.5 423.25,237.6 423.00,237.7 422.75,237.7 422.50,237.8 422.25,237.9 422.00,238.0 421.75,238.1 421.50,238.1 421.25,238.1 421.00,238.1 420.75,238.0 420.50,237.7 420.25,237.4 420.00,237.0 419.75,236.6 419.50,236.2 419.25,236.0 419.00,235.9 418.75,235.8 418.50,235.7 418.25,235.7 418.00,235.6 417.75,235.4 417.50,235.3 417.25,235.2 417.00,235.1 416.75,235.1 416.50,235.1 416.25,235.1 416.00,235.1 415.75,235.1 415.50,235.0 415.25,234.9 415.00,234.8 414.75,234.6 414.50,234.3 414.25,234.0 414.00,233.8 413.75,233.5 413.50,233.3 413.25,233.2 413.00,233.1 412.75,233.1 412.50,233.1 412.25,233.1 412.00,233.2 411.75,233.3 411.50,233.4 411.25,233.4 411.00,233.5 410.75,233.4 410.50,233.3 410.25,233.1 410.00,232.8 409.75,232.4 409.50,232.0 409.25,231.7 409.00,231.4 408.75,231.3 408.50,231.1 408.25,231.0 408.00,231.0 407.75,231.0 407.50,231.1 407.25,231.3 407.00,231.5 406.75,231.6 406.50,231.7 406.25,231.7 406.00,231.8 405.75,231.9 405.50,231.9 405.25,232.0 405.00,232.1 404.75,232.2 404.50,232.2 404.25,232.3 404.00,232.3 403.75,232.4 403.50,232.6 403.25,232.8 403.00,233.0 402.75,233.2 402.50,233.3 402.25,233.3 402.00,233.4 401.75,233.4 401.50,233.4 401.25,233.4 401.00,233.4 400.75,233.5 400.50,233.6 400.25,233.7 400.00,233.8 399.75,233.9 399.50,234.0 399.25,234.2 399.00,234.4 398.75,234.5 398.50,234.7 398.25,234.7 398.00,234.8 397.75,234.8 397.50,234.8 397.25,234.8 397.00,234.9 396.75,234.9 396.50,234.9 396.25,234.9 396.00,234.9 395.75,234.9 395.50,234.8 395.25,234.8 395.00,234.7 394.75,234.6 394.50,234.6 394.25,234.6 394.00,234.6 393.75,234.6 393.50,234.6 393.25,234.7 393.00,234.8 392.75,235.0 392.50,235.2 392.25,235.3 392.00,235.4 391.75,235.4 391.50,235.3 391.25,235.2 391.00,235.0 390.75,234.8 390.50,234.7 390.25,234.6 390.00,234.6 389.75,234.6 389.50,234.6 389.25,234.6 389.00,234.5 388.75,234.4 388.50,234.2 388.25,234.0 388.00,233.9 387.75,233.8 387.50,233.8 387.25,233.9 387.00,234.1 386.75,234.4 386.50,234.7 386.25,235.0 386.00,235.2 385.75,235.4 385.50,235.6 385.25,235.7 385.00,235.8 384.75,235.8 384.50,235.9 384.25,235.9 384.00,236.0 383.75,236.0 383.50,236.0 383.25,236.0 383.00,236.0 382.75,236.1 382.50,236.1 382.25,236.1 382.00,236.1 381.75,236.1 381.50,236.1 381.25,236.1 381.00,236.0 380.75,235.9 380.50,235.8 380.25,235.6 380.00,235.5 379.75,235.5 379.50,235.6 379.25,235.8 379.00,236.0 378.75,236.1 378.50,236.1 378.25,236.1 378.00,236.0 377.75,235.8 377.50,235.7 377.25,235.5 377.00,235.4 376.75,235.4 376.50,235.5 376.25,235.6 376.00,235.7 375.75,235.9 375.50,236.0 375.25,236.1 375.00,236.2 374.75,236.3 374.50,236.3 374.25,236.4 374.00,236.4 373.75,236.4 373.50,236.4 373.25,236.4 373.00,236.4 372.75,236.4 372.50,236.4 372.25,236.3 372.00,236.2 371.75,236.1 371.50,236.1 371.25,236.0 371.00,236.0 370.75,236.0 370.50,236.0 370.25,236.0 370.00,236.0 369.75,236.0 369.50,236.0 369.25,235.9 369.00,235.8 368.75,235.8 368.50,235.7 368.25,235.6 368.00,235.5 367.75,235.4 367.50,235.3 367.25,235.2 367.00,235.1 366.75,235.1 366.50,235.1 366.25,235.1 366.00,235.1 365.75,235.1 365.50,235.0 365.25,235.0 365.00,235.0 364.75,235.0 364.50,235.1 364.25,235.1 364.00,235.3 363.75,235.4 363.50,235.5 363.25,235.6 363.00,235.6 362.75,235.6 362.50,235.6 362.25,235.5 362.00,235.4 361.75,235.3 361.50,235.2 361.25,235.1 361.00,235.1 360.75,235.0 360.50,235.0 360.25,234.9 360.00,234.9 359.75,235.0 359.50,235.2 359.25,235.4 359.00,235.6 358.75,235.9 358.50,236.1 358.25,236.3 358.00,236.4 357.75,236.3 357.50,236.2 357.25,236.0 357.00,235.8 356.75,235.6 356.50,235.5 356.25,235.4 356.00,235.3 355.75,235.2 355.50,235.0 355.25,234.9 355.00,234.8 354.75,234.7 354.50,234.6 354.25,234.6 354.00,234.6 353.75,234.6 353.50,234.7 353.25,234.8 353.00,235.0 352.75,235.3 352.50,235.5 352.25,235.7 352.00,235.8 351.75,235.9 351.50,236.0 351.25,236.0 351.00,236.0 350.75,236.1 350.50,236.2 350.25,236.2 350.00,236.3 349.75,236.4 349.50,236.5 349.25,236.5 349.00,236.5 348.75,236.5 348.50,236.4 348.25,236.2 348.00,236.1 347.75,236.0 347.50,235.9 347.25,236.0 347.00,236.1 346.75,236.3 346.50,236.4 346.25,236.5 346.00,236.6 345.75,236.6 345.50,236.6 345.25,236.6 345.00,236.5 344.75,236.3 344.50,236.2 344.25,236.0 344.00,235.8 343.75,235.7 343.50,235.6 343.25,235.6 343.00,235.6 342.75,235.6 342.50,235.7 342.25,235.8 342.00,235.9 341.75,236.0 341.50,236.1 341.25,236.1 341.00,236.0 340.75,235.9 340.50,235.8 340.25,235.6 340.00,235.5 339.75,235.3 339.50,235.3 339.25,235.2 339.00,235.2 338.75,235.1 338.50,235.0 338.25,234.9 338.00,234.8 337.75,234.7 337.50,234.7 337.25,234.7 337.00,234.7 336.75,234.8 336.50,234.8 336.25,234.9 336.00,235.0 335.75,235.1 335.50,235.3 335.25,235.5 335.00,235.7 334.75,235.8 334.50,235.9 334.25,235.9 334.00,236.0 333.75,236.0 333.50,236.0 333.25,236.1 333.00,236.1 332.75,236.2 332.50,236.2 332.25,236.2 332.00,236.1 331.75,236.1 331.50,235.9 331.25,235.8 331.00,235.6 330.75,235.5 330.50,235.3 330.25,235.1 330.00,234.8 329.75,234.6 329.50,234.5 329.25,234.4 329.00,234.5 328.75,234.7 328.50,234.9 328.25,235.2 328.00,235.5 327.75,235.8 327.50,236.0 327.25,236.1 327.00,236.2 326.75,236.2 326.50,236.2 326.25,236.1 326.00,236.1 325.75,235.9 325.50,235.7 325.25,235.5 325.00,235.3 324.75,235.1 324.50,234.9 324.25,234.8 324.00,234.7 323.75,234.6 323.50,234.6 323.25,234.6 323.00,234.6 322.75,234.7 322.50,234.7 322.25,234.7 322.00,234.7 321.75,234.6 321.50,234.6 321.25,234.6 321.00,234.5 320.75,234.5 320.50,234.6 320.25,234.6 320.00,234.7 319.75,234.9 319.50,235.0 319.25,235.2 319.00,235.3 318.75,235.5 318.50,235.6 318.25,235.6 318.00,235.7 317.75,235.7 317.50,235.8 317.25,235.9 317.00,235.9 316.75,235.9 316.50,235.9 316.25,235.9 316.00,235.9 315.75,235.9 315.50,235.9 315.25,235.9 315.00,236.0 314.75,236.0 314.50,236.0 314.25,236.0 314.00,235.9 313.75,235.7 313.50,235.5 313.25,235.3 313.00,235.3 312.75,235.3 312.50,235.5 312.25,235.7 312.00,235.9 311.75,236.0 311.50,236.0 311.25,236.1 311.00,236.1 310.75,236.0 310.50,236.0 310.25,235.8 310.00,235.6 309.75,235.2 309.50,234.9 309.25,234.6 309.00,234.4 308.75,234.4 308.50,234.5 308.25,234.8 308.00,235.2 307.75,235.5 307.50,235.8 307.25,235.9 307.00,236.0 306.75,236.0 306.50,236.0 306.25,236.0 306.00,236.0 305.75,236.0 305.50,236.0 305.25,236.0 305.00,235.9 304.75,235.9 304.50,235.8 304.25,235.7 304.00,235.6 303.75,235.5 303.50,235.3 303.25,235.2 303.00,235.1 302.75,234.9 302.50,234.8 302.25,234.6 302.00,234.5 301.75,234.5 301.50,234.5 301.25,234.5 301.00,234.5 300.75,234.4 300.50,234.4 300.25,234.3 300.00,234.3 299.75,234.2 299.50,234.2 299.25,234.2 299.00,234.2 298.75,234.2 298.50,234.2 298.25,234.2 298.00,234.2 297.75,234.1 297.50,234.0 297.25,233.8 297.00,233.6 296.75,233.5 296.50,233.5 296.25,233.6 296.00,233.6 295.75,233.7 295.50,233.8 295.25,233.9 295.00,233.9 294.75,234.0 294.50,234.1 294.25,234.3 294.00,234.6 293.75,234.9 293.50,235.1 293.25,235.3 293.00,235.4 292.75,235.4 292.50,235.3 292.25,235.2 292.00,235.0 291.75,234.8 291.50,234.7 291.25,234.7 291.00,234.7 290.75,234.8 290.50,234.8 290.25,234.8 290.00,234.7 289.75,234.6 289.50,234.5 289.25,234.3 289.00,234.2 288.75,234.2 288.50,234.1 288.25,234.0 288.00,234.0 287.75,233.9 287.50,233.9 287.25,233.9 287.00,234.0 286.75,234.1 286.50,234.3 286.25,234.5 286.00,234.7 285.75,234.8 285.50,234.9 285.25,234.8 285.00,234.7 284.75,234.5 284.50,234.2 284.25,234.0 284.00,233.8 283.75,233.7 283.50,233.7 283.25,233.9 283.00,234.0 282.75,234.2 282.50,234.3 282.25,234.3 282.00,234.4 281.75,234.4 281.50,234.5 281.25,234.6 281.00,234.7 280.75,235.0 280.50,235.2 280.25,235.4 280.00,235.6 279.75,235.7 279.50,235.7 279.25,235.7 279.00,235.6 278.75,235.6 278.50,235.6 278.25,235.6 278.00,235.6 277.75,235.7 277.50,235.7 277.25,235.7 277.00,235.6 276.75,235.5 276.50,235.3 276.25,235.0 276.00,234.8 275.75,234.7 275.50,234.5 275.25,234.4 275.00,234.2 274.75,234.1 274.50,233.9 274.25,233.9 274.00,233.9 273.75,234.0 273.50,234.2 273.25,234.6 273.00,234.9 272.75,235.3 272.50,235.5 272.25,235.6 272.00,235.6 271.75,235.5 271.50,235.4 271.25,235.2 271.00,234.9 270.75,234.6 270.50,234.4 270.25,234.3 270.00,234.2 269.75,234.1 269.50,234.1 269.25,234.2 269.00,234.4 268.75,234.5 268.50,234.6 268.25,234.7 268.00,234.7 267.75,234.7 267.50,234.7 267.25,234.6 267.00,234.6 266.75,234.5 266.50,234.5 266.25,234.5 266.00,234.6 265.75,234.7 265.50,234.9 265.25,235.0 265.00,235.1 264.75,235.1 264.50,235.0 264.25,234.9 264.00,234.7 263.75,234.5 263.50,234.2 263.25,234.0 263.00,233.8 262.75,233.6 262.50,233.4 262.25,233.4 262.00,233.4 261.75,233.5 261.50,233.6 261.25,233.6 261.00,233.7 260.75,233.7 260.50,233.7 260.25,233.8 260.00,233.8 259.75,233.9 259.50,233.9 259.25,233.9 259.00,233.9 258.75,234.0 258.50,234.0 258.25,234.1 258.00,234.2 257.75,234.5 257.50,234.8 257.25,235.0 257.00,235.2 256.75,235.3 256.50,235.3 256.25,235.2 256.00,235.0 255.75,234.7 255.50,234.4 255.25,234.1 255.00,233.8 254.75,233.7 254.50,233.6 254.25,233.5 254.00,233.4 253.75,233.2 253.50,233.0 253.25,232.8 253.00,232.8 252.75,232.9 252.50,233.1 252.25,233.6 252.00,234.1 251.75,234.6 251.50,234.9 251.25,235.1 251.00,235.2 250.75,235.3 250.50,235.4 250.25,235.5 250.00,235.6 249.75,235.7 249.50,235.7 249.25,235.7 249.00,235.7 248.75,235.7 248.50,235.6 248.25,235.4 248.00,235.3 247.75,235.0 247.50,234.7 247.25,234.4 247.00,234.2 246.75,234.1 246.50,234.1 246.25,234.3 246.00,234.6 245.75,234.9 245.50,235.2 245.25,235.4 245.00,235.5 244.75,235.5 244.50,235.5 244.25,235.4 244.00,235.4 243.75,235.3 243.50,235.4 243.25,235.4 243.00,235.5 242.75,235.5 242.50,235.4 242.25,235.3 242.00,235.1 241.75,234.9 241.50,234.6 241.25,234.4 241.00,234.3 240.75,234.2 240.50,234.1 240.25,234.0 240.00,233.9 239.75,233.7 239.50,233.4 239.25,233.2 239.00,233.0 238.75,232.9 238.50,233.0 238.25,233.1 238.00,233.2 237.75,233.2 237.50,233.2 237.25,233.1 237.00,232.9 236.75,232.8 236.50,232.6 236.25,232.6 236.00,232.6 235.75,232.8 235.50,232.9 235.25,233.0 235.00,233.1 234.75,233.2 234.50,233.2 234.25,233.1 234.00,233.1 233.75,233.1 233.50,233.1 233.25,233.2 233.00,233.3 232.75,233.4 232.50,233.4 232.25,233.5 232.00,233.5 231.75,233.6 231.50,233.6 231.25,233.6 231.00,233.6 230.75,233.5 230.50,233.5 230.25,233.4 230.00,233.3 229.75,233.1 229.50,232.8 229.25,232.5 229.00,232.4 228.75,232.3 228.50,232.3 228.25,232.4 228.00,232.5 227.75,232.5 227.50,232.5 227.25,232.4 227.00,232.1 226.75,231.9 226.50,231.6 226.25,231.3 226.00,231.2 225.75,231.2 225.50,231.2 225.25,231.2 225.00,231.2 224.75,231.2 224.50,231.1 224.25,231.1 224.00,231.1 223.75,231.1 223.50,231.2 223.25,231.3 223.00,231.4 222.75,231.5 222.50,231.5 222.25,231.6 222.00,231.6 221.75,231.6 221.50,231.6 221.25,231.6 221.00,231.7 220.75,231.7 220.50,231.6 220.25,231.6 220.00,231.5 219.75,231.4 219.50,231.3 219.25,231.1 219.00,231.0 218.75,230.9 218.50,230.9 218.25,231.0 218.00,231.1 217.75,231.2 217.50,231.3 217.25,231.3 217.00,231.4 216.75,231.4 216.50,231.4 216.25,231.4 216.00,231.3 215.75,231.1 215.50,230.8 215.25,230.5 215.00,230.2 214.75,230.0 214.50,229.8 214.25,229.7 214.00,229.6 213.75,229.5 213.50,229.4 213.25,229.3 213.00,229.3 212.75,229.2 212.50,229.2 212.25,229.2 212.00,229.2 211.75,229.2 211.50,229.2 211.25,229.1 211.00,229.1 210.75,229.1 210.50,229.2 210.25,229.3 210.00,229.4 209.75,229.5 209.50,229.6 209.25,229.6 209.00,229.6 208.75,229.6 208.50,229.6 208.25,229.5 208.00,229.5 207.75,229.5 207.50,229.4 207.25,229.1 207.00,228.8 206.75,228.3 206.50,227.8 206.25,227.3 206.00,226.9 205.75,226.6 205.50,226.5 205.25,226.3 205.00,226.2 204.75,226.1 204.50,225.9 204.25,225.8 204.00,225.8 203.75,225.7 203.50,225.7 203.25,225.7 203.00,225.7 202.75,225.6 202.50,225.6 202.25,225.6 202.00,225.6 201.75,225.4 201.50,225.2 201.25,224.7 201.00,223.9 200.75,223.0 200.50,221.9 200.25,220.8 200.00,219.7 199.75,218.5 199.50,217.2 199.25,215.7 199.00,214.0 198.75,212.0 198.50,209.8 198.25,207.5 198.00,205.1 197.75,202.9 197.50,201.0 197.25,199.7 197.00,199.1 196.75,199.3 196.50,200.3 196.25,201.7 196.00,203.5 195.75,205.5 195.50,207.6 195.25,209.9 195.00,212.0 194.75,214.1 194.50,215.9 194.25,217.5 194.00,218.6 193.75,219.4 193.50,219.8 193.25,220.1 193.00,220.3 192.75,220.5 192.50,220.8 192.25,221.1 192.00,221.3 191.75,221.6 191.50,221.8 191.25,222.0 191.00,222.2 190.75,222.4 190.50,222.7 190.25,222.9 190.00,223.2 189.75,223.5 189.50,223.8 189.25,224.0 189.00,224.2 188.75,224.4 188.50,224.6 188.25,224.7 188.00,224.9 187.75,225.1 187.50,225.3 187.25,225.6 187.00,225.9 186.75,226.1 186.50,226.3 186.25,226.3 186.00,226.2 185.75,225.9 185.50,225.6 185.25,225.3 185.00,225.1 184.75,225.1 184.50,225.1 184.25,225.2 184.00,225.3 183.75,225.4 183.50,225.4 183.25,225.5 183.00,225.6 182.75,225.9 182.50,226.3 182.25,226.7 182.00,226.9 181.75,227.1 181.50,227.2 181.25,227.1 181.00,227.0 180.75,226.8 180.50,226.6 180.25,226.4 180.00,226.3 179.75,226.2 179.50,226.1 179.25,226.0 179.00,226.0 178.75,225.9 178.50,225.8 178.25,225.6 178.00,225.4 177.75,225.2 177.50,225.1 177.25,225.1 177.00,225.3 176.75,225.7 176.50,226.2 176.25,226.6 176.00,226.9 175.75,227.1 175.50,227.1 175.25,227.1 175.00,227.1 174.75,227.0 174.50,226.9 174.25,226.8 174.00,226.7 173.75,226.7 173.50,226.6 173.25,226.5 173.00,226.4 172.75,226.4 172.50,226.3 172.25,226.3 172.00,226.4 171.75,226.5 171.50,226.5 171.25,226.5 171.00,226.5 170.75,226.3 170.50,226.1 170.25,225.8 170.00,225.6 169.75,225.5 169.50,225.5 169.25,225.5 169.00,225.6 168.75,225.6 168.50,225.6 168.25,225.6 168.00,225.5 167.75,225.3 167.50,225.1 167.25,224.9 167.00,224.8 166.75,224.7 166.50,224.8 166.25,224.8 166.00,224.8 165.75,224.8 165.50,224.6 165.25,224.3 165.00,224.0 164.75,223.7 164.50,223.4 164.25,223.4 164.00,223.4 163.75,223.6 163.50,223.7 163.25,223.7 163.00,223.7 162.75,223.6 162.50,223.4 162.25,223.1 162.00,222.6 161.75,222.2 161.50,221.8 161.25,221.3 161.00,220.9 160.75,220.6 160.50,220.3 160.25,220.1 160.00,219.8 159.75,219.5 159.50,219.2 159.25,218.8 159.00,218.6 158.75,218.3 158.50,217.8 158.25,217.1 158.00,216.0 157.75,214.5 157.50,212.7 157.25,210.8 157.00,209.0 156.75,207.6 156.50,206.4 156.25,205.8 156.00,205.8 155.75,206.3 155.50,207.3 155.25,208.7 155.00,210.2 154.75,211.7 154.50,213.0 154.25,214.2 154.00,215.3 153.75,216.3 153.50,217.2 153.25,218.0 153.00,218.6 152.75,219.0 152.50,219.2 152.25,219.3 152.00,219.2 151.75,219.0 151.50,218.8 151.25,218.5 151.00,218.3 150.75,218.2 150.50,218.3 150.25,218.4 150.00,218.6 149.75,218.8 149.50,219.0 149.25,219.1 149.00,219.1 148.75,219.2 148.50,219.1 148.25,219.1 148.00,218.9 147.75,218.8 147.50,218.7 147.25,218.6 147.00,218.5 146.75,218.5 146.50,218.4 146.25,218.3 146.00,218.3 145.75,218.5 145.50,218.7 145.25,219.0 145.00,219.3 144.75,219.4 144.50,219.5 144.25,219.6 144.00,219.5 143.75,219.3 143.50,219.1 143.25,218.9 143.00,218.6 142.75,218.5 142.50,218.3 142.25,218.3 142.00,218.1 141.75,218.0 141.50,217.7 141.25,217.4 141.00,217.1 140.75,216.8 140.50,216.6 140.25,216.5 140.00,216.6 139.75,216.8 139.50,217.1 139.25,217.4 139.00,217.6 138.75,217.7 138.50,217.7 138.25,217.5 138.00,217.2 137.75,216.8 137.50,216.4 137.25,216.0 137.00,215.8 136.75,215.7 136.50,215.6 136.25,215.6 136.00,215.7 135.75,215.7 135.50,215.7 135.25,215.8 135.00,215.9 134.75,216.0 134.50,216.2 134.25,216.2 134.00,216.3 133.75,216.2 133.50,216.1 133.25,216.0 133.00,215.7 132.75,215.5 132.50,215.2 132.25,215.1 132.00,215.0 131.75,215.0 131.50,215.0 131.25,215.0 131.00,214.9 130.75,214.9 130.50,214.7 130.25,214.5 130.00,214.1 129.75,213.7 129.50,213.2 129.25,212.9 129.00,212.7 128.75,212.6 128.50,212.6 128.25,212.7 128.00,212.8 127.75,212.9 127.50,213.1 127.25,213.3 127.00,213.5 126.75,213.6 126.50,213.8 126.25,213.9 126.00,213.9 125.75,213.9 125.50,213.8 125.25,213.7 125.00,213.6 124.75,213.4 124.50,213.2 124.25,213.0 124.00,213.0 123.75,213.0 123.50,213.0 123.25,213.0 123.00,213.0 122.75,212.9 122.50,212.7 122.25,212.4 122.00,212.1 121.75,211.8 121.50,211.6 121.25,211.3 121.00,211.1 120.75,210.9 120.50,210.7 120.25,210.6 120.00,210.5 119.75,210.4 119.50,210.3 119.25,210.3 119.00,210.3 118.75,210.3 118.50,210.2 118.25,210.2 118.00,210.1 117.75,210.0 117.50,210.0 117.25,209.9 117.00,210.0 116.75,210.0 116.50,210.0 116.25,209.9 116.00,209.7 115.75,209.4 115.50,209.0 115.25,208.6 115.00,208.3 114.75,208.2 114.50,208.1 114.25,208.1 114.00,208.1 113.75,208.1 113.50,208.1 113.25,208.0 113.00,208.0 112.75,208.0 112.50,208.0 112.25,208.0 112.00,208.1 111.75,208.1 111.50,208.0 111.25,207.8 111.00,207.5 110.75,207.2 110.50,206.9 110.25,206.7 110.00,206.5 109.75,206.3 109.50,206.0 109.25,205.6 109.00,205.2 108.75,204.9 108.50,204.7 108.25,204.6 108.00,204.7 107.75,204.8 107.50,204.9 107.25,205.2 107.00,205.5 106.75,205.9 106.50,206.3 106.25,206.5 106.00,206.6 105.75,206.6 105.50,206.4 105.25,206.1 105.00,205.6 104.75,205.1 104.50,204.5 104.25,204.2 104.00,204.0 103.75,204.1 103.50,204.2 103.25,204.4 103.00,204.6 102.75,204.8 102.50,205.0 102.25,205.1 102.00,205.2 101.75,205.2 101.50,205.2 101.25,205.1 101.00,205.0 100.75,204.9 100.50,204.7 100.25,204.6 100.00,204.4 99.75,204.1 99.50,203.7 99.25,203.2 99.00,202.8 98.75,202.5 98.50,202.2 98.25,202.1 98.00,201.9 97.75,201.9 97.50,202.0 97.25,202.1 97.00,202.2 96.75,202.3 96.50,202.4 96.25,202.3 96.00,202.3 95.75,202.2 95.50,202.1 95.25,201.9 95.00,201.8 94.75,201.7 94.50,201.5 94.25,201.3 94.00,200.9 93.75,200.6 93.50,200.3 93.25,200.0 93.00,199.8 92.75,199.7 92.50,199.5 92.25,199.4 92.00,199.3 91.75,199.2 91.50,199.2 91.25,199.2 91.00,199.2 90.75,199.2 90.50,199.3 90.25,199.3 90.00,199.4 89.75,199.4 89.50,199.5 89.25,199.5 89.00,199.5 88.75,199.5 88.50,199.3 88.25,199.0 88.00,198.6 87.75,198.2 87.50,198.0 87.25,197.9 87.00,198.0 86.75,198.3 86.50,198.5 86.25,198.7 86.00,198.8 85.75,198.7 85.50,198.5 85.25,198.1 85.00,197.8 84.75,197.4 84.50,197.2 84.25,197.1 84.00,197.0 83.75,197.1 83.50,197.2 83.25,197.3 83.00,197.4 82.75,197.5 82.50,197.5 82.25,197.4 82.00,197.3 81.75,197.0 81.50,196.6 81.25,196.2 81.00,195.8 80.75,195.6 80.50,195.4 80.25,195.3 80.00,195.2 79.75,195.0 79.50,194.8 79.25,194.7 79.00,194.6 78.75,194.7 78.50,194.8 78.25,194.9 78.00,195.0 77.75,195.0 77.50,194.8 77.25,194.4 77.00,193.9 76.75,193.4 76.50,193.0 76.25,192.8 76.00,192.9 75.75,193.2 75.50,193.6 75.25,194.1 75.00,194.4 74.75,194.6 74.50,194.6 74.25,194.6 74.00,194.6 73.75,194.6 73.50,194.5 73.25,194.4 73.00,194.3 72.75,194.1 72.50,193.9 72.25,193.5 72.00,193.2 71.75,192.9 71.50,192.7 71.25,192.7 71.00,192.9 70.75,193.2 70.50,193.4 70.25,193.6 70.00,193.6 69.75,193.6 69.50,193.6 69.25,193.5 69.00,193.3 68.75,193.0 68.50,192.8 68.25,192.6 68.00,192.4 67.75,192.2 67.50,192.0 67.25,191.7 67.00,191.6 66.75,191.4 66.50,191.3 66.25,191.2 66.00,191.1 65.75,191.0 65.50,191.1 65.25,191.2 65.00,191.4 64.75,191.8 64.50,192.2 64.25,192.6 64.00,192.9 63.75,193.1 63.50,193.3 63.25,193.5 63.00,193.7 62.75,193.8 62.50,193.9 62.25,193.9 62.00,193.8 61.75,193.6 61.50,193.4 61.25,193.1 61.00,193.0 60.75,193.0 60.50,193.1 60.25,193.3 60.00,193.5 59.75,193.7 59.50,194.0 59.25,194.2 59.00,194.4 58.75,194.5 58.50,194.6 58.25,194.7 58.00,194.7 57.75,194.6 57.50,194.4 57.25,194.2 57.00,193.9 56.75,193.7 56.50,193.6 56.25,193.5 56.00,193.6 55.75,193.8 55.50,194.0 55.25,194.2 55.00,194.3 54.75,194.4 54.50,194.4 54.25,194.4 54.00,194.3 53.75,194.3 53.50,194.3 53.25,194.5 53.00,194.7 52.75,195.0 52.50,195.2 52.25,195.4 52.00,195.5 51.75,195.6 51.50,195.6 51.25,195.5 51.00,195.4 50.75,195.3 50.50,195.2 50.25,195.2 50.00,195.2 49.75,195.2 49.50,195.2 49.25,195.3 49.00,195.5 48.75,195.6 48.50,195.8 48.25,195.9 48.00,195.9 47.75,195.8 47.50,195.7 47.25,195.4 47.00,195.1 46.75,194.7 46.50,194.6 46.25,194.6 46.00,194.8 45.75,195.1 45.50,195.3Z" fill="#0000ff"/><path d="M45.5,189.9 46.0,189.9 46.5,189.8 47.0,189.8 47.5,189.7 48.0,189.7 48.5,189.6 49.0,189.6 49.5,189.5 50.0,189.4 50.5,189.4 51.0,189.3 51.5,189.3 52.0,189.2 52.5,189.2 53.0,189.1 53.5,189.0 54.0,189.0 54.5,188.9 55.0,188.8 55.5,188.8 56.0,188.7 56.5,188.6 57.0,188.6 57.5,188.5 58.0,188.4 58.5,188.3 59.0,188.3 59.5,188.2 60.0,188.1 60.5,188.0 61.0,188.0 61.5,187.9 62.0,187.8 62.5,187.8 63.0,187.7 63.5,187.7 64.0,187.6 64.5,187.6 65.0,187.6 65.5,187.6 66.0,187.6 66.5,187.6 67.0,187.6 67.5,187.7 68.0,187.7 68.5,187.7 69.0,187.7 69.5,187.8 70.0,187.8 70.5,187.8 71.0,187.8 71.5,187.9 72.0,187.9 72.5,188.0 73.0,188.0 73.5,188.1 74.0,188.2 74.5,188.4 75.0,188.5 75.5,188.6 76.0,188.8 76.5,189.0 77.0,189.2 77.5,189.4 78.0,189.6 78.5,189.8 79.0,190.0 79.5,190.2 80.0,190.4 80.5,190.6 81.0,190.8 81.5,191.0 82.0,191.2 82.5,191.4 83.0,191.6 83.5,191.8 84.0,192.0 84.5,192.2 85.0,192.4 85.5,192.6 86.0,192.8 86.5,193.0 87.0,193.2 87.5,193.4 88.0,193.6 88.5,193.8 89.0,194.0 89.5,194.2 90.0,194.4 90.5,194.6 91.0,194.8 91.5,195.0 92.0,195.2 92.5,195.4 93.0,195.6 93.5,195.8 94.0,196.0 94.5,196.2 95.0,196.4 95.5,196.6 96.0,196.8 96.5,197.0 97.0,197.2 97.5,197.4 98.0,197.6 98.5,197.8 99.0,198.0 99.5,198.2 100.0,198.4 100.5,198.6 101.0,198.8 101.5,199.0 102.0,199.2 102.5,199.3 103.0,199.5 103.5,199.7 104.0,199.9 104.5,200.1 105.0,200.3 105.5,200.5 106.0,200.7 106.5,200.9 107.0,201.1 107.5,201.2 108.0,201.4 108.5,201.6 109.0,201.8 109.5,202.0 110.0,202.2 110.5,202.4 111.0,202.5 111.5,202.7 112.0,202.9 112.5,203.1 113.0,203.3 113.5,203.5 114.0,203.7 114.5,203.8 115.0,204.0 115.5,204.2 116.0,204.4 116.5,204.6 117.0,204.8 117.5,205.0 118.0,205.2 118.5,205.3 119.0,205.5 119.5,205.7 120.0,205.9 120.5,206.1 121.0,206.3 121.5,206.5 122.0,206.7 122.5,206.8 123.0,207.0 123.5,207.2 124.0,207.4 124.5,207.5 125.0,207.7 125.5,207.9 126.0,208.0 126.5,208.2 127.0,208.3 127.5,208.5 128.0,208.6 128.5,208.8 129.0,208.9 129.5,209.1 130.0,209.2 130.5,209.4 131.0,209.5 131.5,209.7 132.0,209.8 132.5,210.0 133.0,210.1 133.5,210.3 134.0,210.4 134.5,210.6 135.0,210.7 135.5,210.9 136.0,211.0 136.5,211.2 137.0,211.4 137.5,211.5 138.0,211.7 138.5,211.9 139.0,212.0 139.5,212.2 140.0,212.4 140.5,212.5 141.0,212.7 141.5,212.9 142.0,213.0 142.5,213.2 143.0,213.4 143.5,213.5 144.0,213.7 144.5,213.8 145.0,214.0 145.5,214.1 146.0,214.2 146.5,214.3 147.0,214.5 147.5,214.6 148.0,214.6 148.5,214.7 149.0,214.8 149.5,214.8 150.0,214.8 150.5,214.8 151.0,214.7 151.5,214.6 152.0,214.2 152.5,213.6 153.0,212.6 153.5,211.0 154.0,208.8 154.5,206.0 155.0,202.8 155.5,199.9 156.0,198.3 156.5,198.6 157.0,200.8 157.5,204.1 158.0,207.4 158.5,210.4 159.0,212.7 159.5,214.3 160.0,215.5 160.5,216.3 161.0,216.8 161.5,217.2 162.0,217.5 162.5,217.8 163.0,218.0 163.5,218.2 164.0,218.4 164.5,218.6 165.0,218.8 165.5,219.0 166.0,219.2 166.5,219.3 167.0,219.5 167.5,219.7 168.0,219.8 168.5,220.0 169.0,220.2 169.5,220.3 170.0,220.5 170.5,220.7 171.0,220.8 171.5,221.0 172.0,221.1 172.5,221.2 173.0,221.3 173.5,221.4 174.0,221.5 174.5,221.6 175.0,221.6 175.5,221.7 176.0,221.7 176.5,221.7 177.0,221.7 177.5,221.7 178.0,221.7 178.5,221.7 179.0,221.7 179.5,221.7 180.0,221.7 180.5,221.7 181.0,221.7 181.5,221.6 182.0,221.6 182.5,221.6 183.0,221.5 183.5,221.5 184.0,221.4 184.5,221.4 185.0,221.3 185.5,221.2 186.0,221.2 186.5,221.1 187.0,220.9 187.5,220.8 188.0,220.7 188.5,220.5 189.0,220.4 189.5,220.2 190.0,219.9 190.5,219.7 191.0,219.3 191.5,218.9 192.0,218.2 192.5,217.3 193.0,215.9 193.5,214.0 194.0,211.4 194.5,208.0 195.0,203.9 195.5,199.3 196.0,194.9 196.5,191.6 197.0,190.4 197.5,191.8 198.0,195.5 198.5,200.1 199.0,205.0 199.5,209.3 200.0,212.9 200.5,215.7 201.0,217.8 201.5,219.3 202.0,220.4 202.5,221.1 203.0,221.7 203.5,222.2 204.0,222.5 204.5,222.9 205.0,223.2 205.5,223.4 206.0,223.7 206.5,223.9 207.0,224.1 207.5,224.3 208.0,224.5 208.5,224.7 209.0,224.8 209.5,224.9 210.0,225.1 210.5,225.2 211.0,225.3 211.5,225.4 212.0,225.4 212.5,225.5 213.0,225.6 213.5,225.7 214.0,225.7 214.5,225.8 215.0,225.8 215.5,225.9 216.0,226.0 216.5,226.0 217.0,226.1 217.5,226.2 218.0,226.2 218.5,226.3 219.0,226.3 219.5,226.4 220.0,226.4 220.5,226.5 221.0,226.6 221.5,226.6 222.0,226.7 222.5,226.7 223.0,226.8 223.5,226.9 224.0,226.9 224.5,227.0 225.0,227.1 225.5,227.2 226.0,227.2 226.5,227.3 227.0,227.4 227.5,227.5 228.0,227.6 228.5,227.7 229.0,227.8 229.5,227.9 230.0,228.0 230.5,228.0 231.0,228.1 231.5,228.2 232.0,228.3 232.5,228.4 233.0,228.5 233.5,228.6 234.0,228.7 234.5,228.8 235.0,228.9 235.5,228.9 236.0,229.0 236.5,229.1 237.0,229.2 237.5,229.3 238.0,229.4 238.5,229.5 239.0,229.6 239.5,229.7 240.0,229.7 240.5,229.8 241.0,229.9 241.5,230.0 242.0,230.1 242.5,230.2 243.0,230.2 243.5,230.3 244.0,230.3 244.5,230.4 245.0,230.4 245.5,230.4 246.0,230.4 246.5,230.5 247.0,230.5 247.5,230.5 248.0,230.5 248.5,230.5 249.0,230.5 249.5,230.5 250.0,230.5 250.5,230.5 251.0,230.5 251.5,230.5 252.0,230.5 252.5,230.5 253.0,230.5 253.5,230.5 254.0,230.5 254.5,230.5 255.0,230.5 255.5,230.5 256.0,230.5 256.5,230.5 257.0,230.5 257.5,230.5 258.0,230.5 258.5,230.5 259.0,230.5 259.5,230.5 260.0,230.5 260.5,230.5 261.0,230.5 261.5,230.5 262.0,230.5 262.5,230.5 263.0,230.5 263.5,230.5 264.0,230.5 264.5,230.5 265.0,230.5 265.5,230.5 266.0,230.5 266.5,230.5 267.0,230.5 267.5,230.5 268.0,230.5 268.5,230.5 269.0,230.5 269.5,230.5 270.0,230.6 270.5,230.6 271.0,230.6 271.5,230.6 272.0,230.6 272.5,230.6 273.0,230.6 273.5,230.6 274.0,230.6 274.5,230.6 275.0,230.6 275.5,230.6 276.0,230.6 276.5,230.6 277.0,230.6 277.5,230.6 278.0,230.7 278.5,230.7 279.0,230.7 279.5,230.7 280.0,230.7 280.5,230.7 281.0,230.7 281.5,230.7 282.0,230.7 282.5,230.7 283.0,230.7 283.5,230.7 284.0,230.7 284.5,230.7 285.0,230.7 285.5,230.8 286.0,230.8 286.5,230.8 287.0,230.8 287.5,230.8 288.0,230.8 288.5,230.8 289.0,230.8 289.5,230.8 290.0,230.8 290.5,230.8 291.0,230.8 291.5,230.8 292.0,230.8 292.5,230.8 293.0,230.8 293.5,230.9 294.0,230.9 294.5,230.9 295.0,230.9 295.5,230.9 296.0,230.9 296.5,230.9 297.0,230.9 297.5,230.9 298.0,230.9 298.5,230.9 299.0,230.9 299.5,230.9 300.0,230.9 300.5,230.9 301.0,230.9 301.5,231.0 302.0,231.0 302.5,231.0 303.0,231.0 303.5,231.0 304.0,231.0 304.5,231.0 305.0,231.0 305.5,231.0 306.0,231.0 306.5,231.0 307.0,231.1 307.5,231.1 308.0,231.1 308.5,231.1 309.0,231.1 309.5,231.1 310.0,231.1 310.5,231.1 311.0,231.2 311.5,231.2 312.0,231.2 312.5,231.2 313.0,231.2 313.5,231.2 314.0,231.2 314.5,231.2 315.0,231.3 315.5,231.3 316.0,231.3 316.5,231.3 317.0,231.3 317.5,231.3 318.0,231.3 318.5,231.3 319.0,231.4 319.5,231.4 320.0,231.4 320.5,231.4 321.0,231.4 321.5,231.4 322.0,231.4 322.5,231.4 323.0,231.5 323.5,231.5 324.0,231.5 324.5,231.5 325.0,231.5 325.5,231.5 326.0,231.5 326.5,231.5 327.0,231.6 327.5,231.6 328.0,231.6 328.5,231.6 329.0,231.6 329.5,231.6 330.0,231.6 330.5,231.6 331.0,231.7 331.5,231.7 332.0,231.7 332.5,231.7 333.0,231.7 333.5,231.7 334.0,231.7 334.5,231.7 335.0,231.8 335.5,231.8 336.0,231.8 336.5,231.8 337.0,231.8 337.5,231.8 338.0,231.8 338.5,231.8 339.0,231.9 339.5,231.9 340.0,231.9 340.5,231.9 341.0,231.9 341.5,231.9 342.0,231.9 342.5,231.9 343.0,231.9 343.5,232.0 344.0,232.0 344.5,232.0 345.0,232.0 345.5,232.0 346.0,232.0 346.5,232.0 347.0,232.0 347.5,232.0 348.0,232.0 348.5,232.0 349.0,232.0 349.5,232.0 350.0,232.0 350.5,232.0 351.0,232.0 351.5,232.0 352.0,232.0 352.5,232.0 353.0,232.0 353.5,232.0 354.0,232.0 354.5,232.0 355.0,232.0 355.5,232.0 356.0,232.0 356.5,232.0 357.0,232.0 357.5,232.0 358.0,232.0 358.5,232.0 359.0,232.0 359.5,232.0 360.0,232.0 360.5,232.0 361.0,232.0 361.5,232.0 362.0,232.0 362.5,232.0 363.0,232.0 363.5,232.0 364.0,232.0 364.5,232.0 365.0,232.0 365.5,232.0 366.0,232.0 366.5,232.0 367.0,232.0 367.5,232.0 368.0,232.0 368.5,231.9 369.0,231.9 369.5,231.9 370.0,231.9 370.5,231.9 371.0,231.9 371.5,231.9 372.0,231.9 372.5,231.9 373.0,231.9 373.5,231.9 374.0,231.9 374.5,231.9 375.0,231.9 375.5,231.9 376.0,231.9 376.5,231.9 377.0,231.9 377.5,231.9 378.0,231.8 378.5,231.8 379.0,231.8 379.5,231.8 380.0,231.8 380.5,231.8 381.0,231.8 381.5,231.7 382.0,231.7 382.5,231.7 383.0,231.7 383.5,231.7 384.0,231.7 384.5,231.7 385.0,231.6 385.5,231.6 386.0,231.6 386.5,231.6 387.0,231.6 387.5,231.6 388.0,231.5 388.5,231.5 389.0,231.5 389.5,231.5 390.0,231.4 390.5,231.4 391.0,231.4 391.5,231.3 392.0,231.3 392.5,231.2 393.0,231.2 393.5,231.2 394.0,231.1 394.5,231.1 395.0,231.0 395.5,230.9 396.0,230.9 396.5,230.8 397.0,230.7 397.5,230.6 398.0,230.5 398.5,230.4 399.0,230.3 399.5,230.1 400.0,230.0 400.5,229.8 401.0,229.6 401.5,229.5 402.0,229.3 402.5,229.1 403.0,228.9 403.5,228.7 404.0,228.6 404.5,228.4 405.0,228.3 405.5,228.2 406.0,228.1 406.5,228.1 407.0,228.1 407.5,228.1 408.0,228.2 408.5,228.3 409.0,228.4 409.5,228.6 410.0,228.8 410.5,229.1 411.0,229.4 411.5,229.6 412.0,229.9 412.5,230.2 413.0,230.5 413.5,230.8 414.0,231.1 414.5,231.4 415.0,231.7 415.5,231.9 416.0,232.2 416.5,232.4 417.0,232.7 417.5,232.9 418.0,233.1 418.5,233.3 419.0,233.5 419.5,233.6 420.0,233.8 420.5,233.9 421.0,234.1 421.5,234.2 422.0,234.3 422.5,234.5 423.0,234.6 423.5,234.7 424.0,234.8 424.5,234.9 425.0,235.0 425.5,235.1 426.0,235.2 426.5,235.2 427.0,235.3 427.5,235.4 428.0,235.5 428.5,235.6 429.0,235.6 429.5,235.7 430.0,235.8 430.5,235.9 431.0,235.9 431.5,236.0 432.0,236.1 432.5,236.1 433.0,236.2 433.5,236.2 434.0,236.3 434.5,236.3 435.0,236.3 435.5,236.4 436.0,236.4 436.5,236.4 437.0,236.4 437.5,236.4 438.0,236.4 438.5,236.4 439.0,236.4 439.5,236.4 440.0,236.4 440.5,236.3 441.0,236.3 441.5,236.3 442.0,236.3 442.5,236.3 443.0,236.3 443.5,236.3 444.0,236.3 444.5,236.3 445.0,236.3 445.5,236.3 446.0,236.3 446.5,236.3 447.0,236.3 447.5,236.3 448.0,236.3 448.5,236.3 449.0,236.3 449.5,236.3" fill="none" stroke="#0000ff" stroke-width="3.0" stroke-linejoin="round"/><path d="M45.50,119.6 45.75,119.7 46.00,119.6 46.25,119.3 46.50,118.7 46.75,117.9 47.00,117.2 47.25,116.7 47.50,116.4 47.75,116.2 48.00,116.2 48.25,116.3 48.50,116.5 48.75,116.6 49.00,116.8 49.25,117.0 49.50,117.1 49.75,117.3 50.00,117.5 50.25,117.6 50.50,117.8 50.75,118.0 51.00,118.0 51.25,117.9 51.50,117.8 51.75,117.6 52.00,117.4 52.25,117.1 52.50,116.8 52.75,116.5 53.00,116.3 53.25,116.1 53.50,116.0 53.75,116.0 54.00,115.9 54.25,115.9 54.50,115.8 54.75,115.7 55.00,115.6 55.25,115.5 55.50,115.3 55.75,114.9 56.00,114.6 56.25,114.3 56.50,114.1 56.75,113.9 57.00,113.9 57.25,114.0 57.50,114.2 57.75,114.5 58.00,114.8 58.25,115.1 58.50,115.2 58.75,115.2 59.00,115.0 59.25,114.6 59.50,114.2 59.75,113.8 60.00,113.6 60.25,113.4 60.50,113.4 60.75,113.6 61.00,114.0 61.25,114.4 61.50,115.0 61.75,115.5 62.00,115.9 62.25,116.1 62.50,116.2 62.75,116.2 63.00,116.1 63.25,115.9 63.50,115.6 63.75,115.2 64.00,114.6 64.25,114.0 64.50,113.5 64.75,113.1 65.00,112.8 65.25,112.8 65.50,112.8 65.75,113.0 66.00,113.2 66.25,113.4 66.50,113.7 66.75,113.8 67.00,113.9 67.25,114.0 67.50,114.0 67.75,114.0 68.00,113.9 68.25,113.7 68.50,113.4 68.75,113.1 69.00,112.8 69.25,112.6 69.50,112.5 69.75,112.5 70.00,112.6 70.25,112.9 70.50,113.3 70.75,113.8 71.00,114.3 71.25,114.7 71.50,114.9 71.75,115.1 72.00,115.2 72.25,115.2 72.50,115.2 72.75,115.1 73.00,115.0 73.25,114.7 73.50,114.4 73.75,113.9 74.00,113.4 74.25,112.9 74.50,112.6 74.75,112.4 75.00,112.4 75.25,112.4 75.50,112.6 75.75,112.8 76.00,113.1 76.25,113.3 76.50,113.5 76.75,113.7 77.00,113.9 77.25,113.9 77.50,113.9 77.75,113.7 78.00,113.5 78.25,113.3 78.50,113.0 78.75,112.8 79.00,112.6 79.25,112.4 79.50,112.3 79.75,112.3 80.00,112.3 80.25,112.4 80.50,112.6 80.75,112.9 81.00,113.3 81.25,113.7 81.50,114.2 81.75,114.7 82.00,115.1 82.25,115.5 82.50,116.0 82.75,116.5 83.00,117.0 83.25,117.5 83.50,117.9 83.75,118.2 84.00,118.3 84.25,118.2 84.50,118.0 84.75,117.6 85.00,117.2 85.25,116.9 85.50,116.7 85.75,116.6 86.00,116.6 86.25,116.7 86.50,116.9 86.75,117.2 87.00,117.4 87.25,117.5 87.50,117.4 87.75,117.1 88.00,116.8 88.25,116.6 88.50,116.5 88.75,116.6 89.00,116.8 89.25,117.2 89.50,117.7 89.75,118.1 90.00,118.4 90.25,118.7 90.50,118.9 90.75,119.3 91.00,119.7 91.25,120.1 91.50,120.4 91.75,120.5 92.00,120.5 92.25,120.4 92.50,120.4 92.75,120.4 93.00,120.4 93.25,120.6 93.50,121.0 93.75,121.4 94.00,121.9 94.25,122.3 94.50,122.6 94.75,122.7 95.00,122.6 95.25,122.4 95.50,122.3 95.75,122.1 96.00,122.1 96.25,122.0 96.50,122.0 96.75,121.9 97.00,121.9 97.25,121.8 97.50,121.8 97.75,121.8 98.00,121.9 98.25,122.2 98.50,122.7 98.75,123.5 99.00,124.4 99.25,125.4 99.50,126.3 99.75,127.1 100.00,127.5 100.25,127.7 100.50,127.7 100.75,127.5 101.00,127.4 101.25,127.3 101.50,127.2 101.75,127.3 102.00,127.4 102.25,127.6 102.50,127.9 102.75,128.3 103.00,128.7 103.25,128.9 103.50,129.1 103.75,129.3 104.00,129.4 104.25,129.4 104.50,129.4 104.75,129.3 105.00,129.1 105.25,128.7 105.50,128.3 105.75,128.1 106.00,128.0 106.25,128.2 106.50,128.5 106.75,129.0 107.00,129.4 107.25,129.7 107.50,129.8 107.75,129.5 108.00,129.1 108.25,128.6 108.50,128.1 108.75,127.8 109.00,127.6 109.25,127.6 109.50,127.8 109.75,128.2 110.00,128.7 110.25,129.3 110.50,129.9 110.75,130.4 111.00,130.8 111.25,131.1 111.50,131.3 111.75,131.4 112.00,131.4 112.25,131.4 112.50,131.3 112.75,131.3 113.00,131.2 113.25,131.2 113.50,131.3 113.75,131.5 114.00,132.0 114.25,132.5 114.50,133.2 114.75,134.0 115.00,134.6 115.25,135.0 115.50,135.3 115.75,135.4 116.00,135.5 116.25,135.6 116.50,135.6 116.75,135.8 117.00,136.0 117.25,136.2 117.50,136.3 117.75,136.3 118.00,136.2 118.25,136.0 118.50,135.9 118.75,135.9 119.00,135.9 119.25,135.9 119.50,136.0 119.75,136.1 120.00,136.2 120.25,136.3 120.50,136.4 120.75,136.6 121.00,136.7 121.25,136.8 121.50,137.1 121.75,137.4 122.00,137.9 122.25,138.4 122.50,138.9 122.75,139.3 123.00,139.6 123.25,140.0 123.50,140.2 123.75,140.5 124.00,140.7 124.25,140.9 124.50,141.2 124.75,141.5 125.00,141.8 125.25,142.0 125.50,142.0 125.75,141.9 126.00,141.6 126.25,141.3 126.50,141.2 126.75,141.1 127.00,141.2 127.25,141.3 127.50,141.6 127.75,141.8 128.00,142.0 128.25,142.2 128.50,142.3 128.75,142.3 129.00,142.3 129.25,142.2 129.50,142.2 129.75,142.1 130.00,142.1 130.25,142.1 130.50,142.1 130.75,142.2 131.00,142.2 131.25,142.3 131.50,142.5 131.75,142.7 132.00,142.9 132.25,143.3 132.50,143.7 132.75,144.1 133.00,144.3 133.25,144.4 133.50,144.2 133.75,144.1 134.00,144.0 134.25,143.9 134.50,144.0 134.75,144.0 135.00,144.2 135.25,144.3 135.50,144.4 135.75,144.5 136.00,144.6 136.25,144.7 136.50,144.8 136.75,145.0 137.00,145.3 137.25,145.8 137.50,146.5 137.75,147.3 138.00,148.0 138.25,148.6 138.50,149.1 138.75,149.4 139.00,149.5 139.25,149.5 139.50,149.3 139.75,149.0 140.00,148.8 140.25,148.6 140.50,148.5 140.75,148.5 141.00,148.7 141.25,148.9 141.50,149.2 141.75,149.6 142.00,150.0 142.25,150.2 142.50,150.4 142.75,150.5 143.00,150.5 143.25,150.4 143.50,150.4 143.75,150.3 144.00,150.2 144.25,150.0 144.50,149.9 144.75,149.8 145.00,149.7 145.25,149.7 145.50,149.6 145.75,149.7 146.00,149.7 146.25,149.9 146.50,150.2 146.75,150.5 147.00,150.9 147.25,151.2 147.50,151.3 147.75,151.4 148.00,151.3 148.25,151.2 148.50,151.1 148.75,151.1 149.00,151.1 149.25,151.3 149.50,151.7 149.75,152.3 150.00,152.9 150.25,153.5 150.50,154.0 150.75,154.4 151.00,154.7 151.25,154.8 151.50,154.7 151.75,154.5 152.00,154.3 152.25,154.0 152.50,153.7 152.75,153.5 153.00,153.3 153.25,153.0 153.50,152.7 153.75,152.2 154.00,151.7 154.25,151.2 154.50,150.8 154.75,150.3 155.00,149.6 155.25,148.3 155.50,146.3 155.75,143.4 156.00,139.5 156.25,135.0 156.50,130.0 156.75,125.1 157.00,120.7 157.25,117.3 157.50,115.0 157.75,113.7 158.00,113.2 158.25,113.1 158.50,113.4 158.75,114.2 159.00,115.5 159.25,117.6 159.50,120.8 159.75,125.1 160.00,130.3 160.25,135.8 160.50,141.0 160.75,145.3 161.00,148.6 161.25,150.9 161.50,152.4 161.75,153.5 162.00,154.4 162.25,155.3 162.50,156.0 162.75,156.7 163.00,157.3 163.25,157.9 163.50,158.5 163.75,159.0 164.00,159.4 164.25,159.8 164.50,160.1 164.75,160.4 165.00,160.6 165.25,160.8 165.50,160.8 165.75,160.9 166.00,160.8 166.25,160.8 166.50,160.7 166.75,160.7 167.00,160.6 167.25,160.6 167.50,160.5 167.75,160.5 168.00,160.5 168.25,160.6 168.50,160.9 168.75,161.3 169.00,161.8 169.25,162.4 169.50,162.9 169.75,163.3 170.00,163.5 170.25,163.7 170.50,163.7 170.75,163.7 171.00,163.8 171.25,163.8 171.50,163.8 171.75,163.9 172.00,164.0 172.25,164.0 172.50,163.9 172.75,163.7 173.00,163.4 173.25,163.1 173.50,162.7 173.75,162.4 174.00,162.3 174.25,162.2 174.50,162.2 174.75,162.2 175.00,162.3 175.25,162.3 175.50,162.4 175.75,162.5 176.00,162.6 176.25,162.8 176.50,163.0 176.75,163.3 177.00,163.8 177.25,164.3 177.50,164.8 177.75,165.2 178.00,165.3 178.25,165.3 178.50,164.9 178.75,164.4 179.00,163.9 179.25,163.5 179.50,163.2 179.75,163.0 180.00,162.9 180.25,162.9 180.50,162.9 180.75,162.9 181.00,163.0 181.25,163.0 181.50,163.1 181.75,163.1 182.00,163.3 182.25,163.5 182.50,163.7 182.75,164.0 183.00,164.3 183.25,164.6 183.50,164.8 183.75,164.9 184.00,165.1 184.25,165.2 184.50,165.3 184.75,165.5 185.00,165.6 185.25,165.6 185.50,165.5 185.75,165.3 186.00,165.0 186.25,164.8 186.50,164.6 186.75,164.6 187.00,164.7 187.25,164.9 187.50,165.3 187.75,165.7 188.00,166.1 188.25,166.3 188.50,166.5 188.75,166.6 189.00,166.7 189.25,166.7 189.50,166.7 189.75,166.7 190.00,166.6 190.25,166.5 190.50,166.3 190.75,166.0 191.00,165.8 191.25,165.5 191.50,165.2 191.75,164.8 192.00,164.5 192.25,164.2 192.50,164.1 192.75,163.9 193.00,163.7 193.25,163.4 193.50,163.1 193.75,162.7 194.00,162.3 194.25,161.9 194.50,161.6 194.75,161.3 195.00,160.9 195.25,160.2 195.50,159.2 195.75,157.8 196.00,155.9 196.25,153.3 196.50,150.0 196.75,145.7 197.00,140.3 197.25,134.1 197.50,127.4 197.75,120.9 198.00,115.1 198.25,110.4 198.50,107.0 198.75,104.7 199.00,103.5 199.25,103.0 199.50,103.0 199.75,103.4 200.00,104.4 200.25,106.3 200.50,109.3 200.75,113.5 201.00,118.8 201.25,124.8 201.50,131.2 201.75,137.4 202.00,143.3 202.25,148.5 202.50,152.9 202.75,156.5 203.00,159.2 203.25,161.2 203.50,162.8 203.75,164.0 204.00,164.9 204.25,165.5 204.50,166.0 204.75,166.2 205.00,166.3 205.25,166.4 205.50,166.5 205.75,166.7 206.00,166.9 206.25,167.0 206.50,167.2 206.75,167.3 207.00,167.5 207.25,167.9 207.50,168.3 207.75,168.9 208.00,169.5 208.25,169.9 208.50,170.2 208.75,170.3 209.00,170.3 209.25,170.3 209.50,170.1 209.75,170.0 210.00,169.9 210.25,169.7 210.50,169.6 210.75,169.4 211.00,169.3 211.25,169.2 211.50,169.2 211.75,169.2 212.00,169.2 212.25,169.3 212.50,169.5 212.75,169.6 213.00,169.9 213.25,170.1 213.50,170.5 213.75,170.9 214.00,171.3 214.25,171.7 214.50,171.9 214.75,172.0 215.00,171.9 215.25,171.8 215.50,171.5 215.75,171.2 216.00,171.0 216.25,170.8 216.50,170.7 216.75,170.7 217.00,170.7 217.25,170.8 217.50,170.9 217.75,170.9 218.00,171.0 218.25,171.1 218.50,171.3 218.75,171.5 219.00,171.8 219.25,172.1 219.50,172.5 219.75,172.7 220.00,172.8 220.25,172.9 220.50,173.0 220.75,173.2 221.00,173.3 221.25,173.4 221.50,173.4 221.75,173.2 222.00,172.9 222.25,172.5 222.50,172.3 222.75,172.1 223.00,172.1 223.25,172.1 223.50,172.2 223.75,172.3 224.00,172.5 224.25,172.6 224.50,172.6 224.75,172.7 225.00,172.7 225.25,172.7 225.50,172.8 225.75,172.8 226.00,172.8 226.25,172.9 226.50,172.9 226.75,173.0 227.00,173.0 227.25,173.0 227.50,173.1 227.75,173.1 228.00,173.2 228.25,173.4 228.50,173.7 228.75,174.1 229.00,174.5 229.25,174.8 229.50,175.0 229.75,174.9 230.00,174.7 230.25,174.4 230.50,174.0 230.75,173.6 231.00,173.4 231.25,173.3 231.50,173.2 231.75,173.2 232.00,173.3 232.25,173.4 232.50,173.4 232.75,173.5 233.00,173.5 233.25,173.5 233.50,173.5 233.75,173.5 234.00,173.6 234.25,173.7 234.50,173.8 234.75,173.9 235.00,174.1 235.25,174.2 235.50,174.4 235.75,174.5 236.00,174.8 236.25,175.0 236.50,175.2 236.75,175.3 237.00,175.4 237.25,175.4 237.50,175.3 237.75,175.2 238.00,175.0 238.25,174.9 238.50,174.8 238.75,174.9 239.00,175.0 239.25,175.3 239.50,175.7 239.75,176.2 240.00,176.6 240.25,177.0 240.50,177.3 240.75,177.6 241.00,177.9 241.25,178.2 241.50,178.4 241.75,178.3 242.00,178.0 242.25,177.7 242.50,177.3 242.75,177.1 243.00,176.9 243.25,176.9 243.50,176.9 243.75,177.1 244.00,177.3 244.25,177.6 244.50,177.9 244.75,178.1 245.00,178.2 245.25,178.2 245.50,178.1 245.75,178.0 246.00,177.8 246.25,177.7 246.50,177.7 246.75,177.6 247.00,177.5 247.25,177.4 247.50,177.2 247.75,176.9 248.00,176.5 248.25,176.2 248.50,176.1 248.75,176.0 249.00,176.1 249.25,176.3 249.50,176.6 249.75,176.9 250.00,177.2 250.25,177.5 250.50,177.6 250.75,177.7 251.00,177.8 251.25,177.8 251.50,177.8 251.75,177.6 252.00,177.4 252.25,177.1 252.50,176.8 252.75,176.5 253.00,176.3 253.25,176.1 253.50,176.1 253.75,176.1 254.00,176.1 254.25,176.1 254.50,176.2 254.75,176.4 255.00,176.7 255.25,177.1 255.50,177.5 255.75,177.9 256.00,178.1 256.25,178.1 256.50,178.0 256.75,177.8 257.00,177.7 257.25,177.5 257.50,177.5 257.75,177.4 258.00,177.5 258.25,177.5 258.50,177.5 258.75,177.6 259.00,177.6 259.25,177.6 259.50,177.6 259.75,177.5 260.00,177.5 260.25,177.3 260.50,177.2 260.75,177.1 261.00,177.0 261.25,177.0 261.50,177.0 261.75,177.2 262.00,177.4 262.25,177.7 262.50,178.0 262.75,178.0 263.00,177.9 263.25,177.5 263.50,177.2 263.75,176.9 264.00,176.7 264.25,176.6 264.50,176.6 264.75,176.6 265.00,176.6 265.25,176.6 265.50,176.7 265.75,176.7 266.00,176.7 266.25,176.8 266.50,176.9 266.75,176.9 267.00,177.0 267.25,177.1 267.50,177.1 267.75,177.2 268.00,177.3 268.25,177.5 268.50,177.7 268.75,177.9 269.00,178.1 269.25,178.3 269.50,178.4 269.75,178.5 270.00,178.6 270.25,178.7 270.50,178.8 270.75,178.9 271.00,179.0 271.25,179.1 271.50,179.2 271.75,179.2 272.00,179.0 272.25,178.8 272.50,178.4 272.75,178.1 273.00,177.8 273.25,177.7 273.50,177.7 273.75,177.7 274.00,177.8 274.25,178.0 274.50,178.3 274.75,178.6 275.00,178.9 275.25,179.2 275.50,179.4 275.75,179.6 276.00,179.6 276.25,179.6 276.50,179.5 276.75,179.5 277.00,179.4 277.25,179.3 277.50,179.3 277.75,179.3 278.00,179.3 278.25,179.3 278.50,179.4 278.75,179.3 279.00,179.2 279.25,178.9 279.50,178.5 279.75,178.1 280.00,177.9 280.25,177.7 280.50,177.6 280.75,177.6 281.00,177.7 281.25,177.8 281.50,177.9 281.75,178.0 282.00,178.1 282.25,178.2 282.50,178.2 282.75,178.1 283.00,178.0 283.25,177.8 283.50,177.6 283.75,177.4 284.00,177.3 284.25,177.3 284.50,177.4 284.75,177.5 285.00,177.8 285.25,178.0 285.50,178.3 285.75,178.6 286.00,178.8 286.25,178.9 286.50,179.0 286.75,179.0 287.00,178.8 287.25,178.7 287.50,178.5 287.75,178.4 288.00,178.4 288.25,178.3 288.50,178.3 288.75,178.3 289.00,178.3 289.25,178.3 289.50,178.3 289.75,178.2 290.00,178.2 290.25,178.2 290.50,178.2 290.75,178.3 291.00,178.5 291.25,178.6 291.50,178.7 291.75,178.6 292.00,178.4 292.25,178.0 292.50,177.5 292.75,177.1 293.00,176.8 293.25,176.7 293.50,176.7 293.75,176.8 294.00,177.0 294.25,177.3 294.50,177.6 294.75,177.9 295.00,178.1 295.25,178.2 295.50,178.3 295.75,178.3 296.00,178.3 296.25,178.3 296.50,178.4 296.75,178.4 297.00,178.5 297.25,178.6 297.50,178.8 297.75,179.0 298.00,179.1 298.25,179.2 298.50,179.2 298.75,179.2 299.00,179.2 299.25,179.2 299.50,179.2 299.75,179.2 300.00,179.2 300.25,179.1 300.50,178.9 300.75,178.7 301.00,178.4 301.25,178.3 301.50,178.2 301.75,178.1 302.00,178.2 302.25,178.2 302.50,178.3 302.75,178.4 303.00,178.5 303.25,178.6 303.50,178.7 303.75,178.7 304.00,178.7 304.25,178.5 304.50,178.3 304.75,178.1 305.00,177.9 305.25,177.8 305.50,177.7 305.75,177.7 306.00,177.7 306.25,177.7 306.50,177.7 306.75,177.8 307.00,177.9 307.25,177.9 307.50,177.9 307.75,177.9 308.00,177.7 308.25,177.6 308.50,177.4 308.75,177.2 309.00,177.0 309.25,177.0 309.50,176.9 309.75,177.0 310.00,177.1 310.25,177.2 310.50,177.3 310.75,177.4 311.00,177.5 311.25,177.6 311.50,177.6 311.75,177.6 312.00,177.6 312.25,177.5 312.50,177.3 312.75,177.1 313.00,176.8 313.25,176.6 313.50,176.6 313.75,176.6 314.00,176.8 314.25,177.1 314.50,177.5 314.75,177.8 315.00,178.1 315.25,178.2 315.50,178.3 315.75,178.2 316.00,178.1 316.25,178.0 316.50,177.8 316.75,177.6 317.00,177.3 317.25,177.0 317.50,176.7 317.75,176.5 318.00,176.4 318.25,176.4 318.50,176.4 318.75,176.5 319.00,176.6 319.25,176.7 319.50,176.8 319.75,176.9 320.00,176.9 320.25,176.9 320.50,176.9 320.75,176.9 321.00,176.9 321.25,176.9 321.50,176.8 321.75,176.8 322.00,176.8 322.25,176.8 322.50,176.8 322.75,176.8 323.00,176.8 323.25,176.8 323.50,177.0 323.75,177.1 324.00,177.4 324.25,177.6 324.50,177.8 324.75,177.9 325.00,177.8 325.25,177.6 325.50,177.3 325.75,177.0 326.00,176.8 326.25,176.7 326.50,176.6 326.75,176.6 327.00,176.6 327.25,176.6 327.50,176.7 327.75,176.7 328.00,176.7 328.25,176.7 328.50,176.8 328.75,176.8 329.00,176.9 329.25,177.1 329.50,177.2 329.75,177.2 330.00,177.2 330.25,177.1 330.50,176.9 330.75,176.7 331.00,176.6 331.25,176.6 331.50,176.5 331.75,176.5 332.00,176.5 332.25,176.6 332.50,176.6 332.75,176.7 333.00,176.7 333.25,176.8 333.50,176.8 333.75,176.8 334.00,176.8 334.25,176.8 334.50,176.9 334.75,177.0 335.00,177.3 335.25,177.6 335.50,178.1 335.75,178.5 336.00,178.9 336.25,179.2 336.50,179.4 336.75,179.5 337.00,179.5 337.25,179.5 337.50,179.5 337.75,179.5 338.00,179.5 338.25,179.5 338.50,179.4 338.75,179.2 339.00,178.9 339.25,178.4 339.50,178.0 339.75,177.7 340.00,177.5 340.25,177.4 340.50,177.4 340.75,177.5 341.00,177.6 341.25,177.8 341.50,178.2 341.75,178.7 342.00,179.2 342.25,179.6 342.50,179.7 342.75,179.6 343.00,179.4 343.25,179.1 343.50,178.9 343.75,178.8 344.00,178.8 344.25,178.8 344.50,178.9 344.75,179.1 345.00,179.3 345.25,179.4 345.50,179.5 345.75,179.5 346.00,179.5 346.25,179.5 346.50,179.5 346.75,179.4 347.00,179.4 347.25,179.4 347.50,179.4 347.75,179.4 348.00,179.3 348.25,179.3 348.50,179.2 348.75,179.2 349.00,179.2 349.25,179.2 349.50,179.2 349.75,179.2 350.00,179.1 350.25,179.1 350.50,179.1 350.75,179.1 351.00,179.1 351.25,179.1 351.50,179.2 351.75,179.2 352.00,179.3 352.25,179.5 352.50,179.6 352.75,179.8 353.00,179.8 353.25,179.8 353.50,179.7 353.75,179.6 354.00,179.5 354.25,179.4 354.50,179.4 354.75,179.3 355.00,179.2 355.25,179.0 355.50,178.8 355.75,178.6 356.00,178.5 356.25,178.5 356.50,178.6 356.75,178.8 357.00,179.0 357.25,179.3 357.50,179.5 357.75,179.6 358.00,179.7 358.25,179.7 358.50,179.8 358.75,179.8 359.00,179.9 359.25,180.0 359.50,180.2 359.75,180.3 360.00,180.4 360.25,180.5 360.50,180.6 360.75,180.7 361.00,180.8 361.25,180.9 361.50,180.9 361.75,180.7 362.00,180.4 362.25,180.0 362.50,179.6 362.75,179.2 363.00,179.0 363.25,178.8 363.50,178.7 363.75,178.7 364.00,178.7 364.25,178.8 364.50,178.9 364.75,179.0 365.00,179.3 365.25,179.6 365.50,180.0 365.75,180.3 366.00,180.5 366.25,180.5 366.50,180.5 366.75,180.4 367.00,180.3 367.25,180.2 367.50,180.1 367.75,180.1 368.00,180.1 368.25,180.2 368.50,180.3 368.75,180.5 369.00,180.7 369.25,180.8 369.50,180.8 369.75,180.7 370.00,180.6 370.25,180.5 370.50,180.5 370.75,180.5 371.00,180.7 371.25,180.9 371.50,181.1 371.75,181.3 372.00,181.3 372.25,181.1 372.50,180.7 372.75,180.2 373.00,179.8 373.25,179.5 373.50,179.4 373.75,179.4 374.00,179.4 374.25,179.6 374.50,179.8 374.75,180.0 375.00,180.2 375.25,180.5 375.50,180.7 375.75,180.9 376.00,181.2 376.25,181.5 376.50,181.7 376.75,181.8 377.00,181.6 377.25,181.3 377.50,180.9 377.75,180.6 378.00,180.3 378.25,180.1 378.50,180.1 378.75,180.2 379.00,180.4 379.25,180.6 379.50,180.9 379.75,181.1 380.00,181.3 380.25,181.4 380.50,181.3 380.75,181.2 381.00,181.0 381.25,180.8 381.50,180.6 381.75,180.4 382.00,180.2 382.25,180.1 382.50,180.0 382.75,179.9 383.00,179.9 383.25,179.8 383.50,179.8 383.75,179.9 384.00,180.0 384.25,180.2 384.50,180.4 384.75,180.8 385.00,181.2 385.25,181.6 385.50,182.0 385.75,182.3 386.00,182.4 386.25,182.3 386.50,182.2 386.75,182.0 387.00,181.8 387.25,181.7 387.50,181.6 387.75,181.4 388.00,181.2 388.25,181.0 388.50,180.8 388.75,180.7 389.00,180.6 389.25,180.6 389.50,180.7 389.75,180.8 390.00,181.0 390.25,181.2 390.50,181.5 390.75,181.7 391.00,181.8 391.25,181.8 391.50,181.7 391.75,181.5 392.00,181.4 392.25,181.2 392.50,181.1 392.75,181.0 393.00,180.9 393.25,180.9 393.50,181.0 393.75,181.1 394.00,181.3 394.25,181.6 394.50,181.8 394.75,182.0 395.00,182.3 395.25,182.4 395.50,182.6 395.75,182.7 396.00,182.6 396.25,182.6 396.50,182.5 396.75,182.4 397.00,182.4 397.25,182.3 397.50,182.2 397.75,182.1 398.00,182.0 398.25,181.9 398.50,181.8 398.75,181.7 399.00,181.6 399.25,181.6 399.50,181.7 399.75,181.8 400.00,182.0 400.25,182.2 400.50,182.4 400.75,182.5 401.00,182.6 401.25,182.6 401.50,182.6 401.75,182.6 402.00,182.5 402.25,182.5 402.50,182.4 402.75,182.3 403.00,182.2 403.25,182.1 403.50,182.1 403.75,182.0 404.00,182.0 404.25,181.9 404.50,181.9 404.75,181.9 405.00,181.9 405.25,181.9 405.50,182.0 405.75,182.1 406.00,182.1 406.25,182.1 406.50,181.9 406.75,181.6 407.00,181.4 407.25,181.1 407.50,180.8 407.75,180.6 408.00,180.2 408.25,179.8 408.50,179.2 408.75,178.6 409.00,178.0 409.25,177.4 409.50,176.8 409.75,176.4 410.00,176.0 410.25,175.9 410.50,175.8 410.75,175.9 411.00,176.0 411.25,176.3 411.50,176.6 411.75,177.0 412.00,177.5 412.25,178.1 412.50,178.8 412.75,179.7 413.00,180.6 413.25,181.6 413.50,182.4 413.75,183.0 414.00,183.4 414.25,183.6 414.50,183.6 414.75,183.5 415.00,183.4 415.25,183.3 415.50,183.2 415.75,183.2 416.00,183.2 416.25,183.2 416.50,183.2 416.75,183.3 417.00,183.4 417.25,183.5 417.50,183.7 417.75,184.0 418.00,184.3 418.25,184.7 418.50,184.9 418.75,184.8 419.00,184.6 419.25,184.3 419.50,184.1 419.75,183.9 420.00,183.9 420.25,184.1 420.50,184.3 420.75,184.7 421.00,185.1 421.25,185.5 421.50,185.8 421.75,186.0 422.00,186.2 422.25,186.3 422.50,186.5 422.75,186.6 423.00,186.6 423.25,186.6 423.50,186.6 423.75,186.6 424.00,186.4 424.25,186.3 424.50,186.0 424.75,185.8 425.00,185.6 425.25,185.4 425.50,185.3 425.75,185.3 426.00,185.3 426.25,185.3 426.50,185.4 426.75,185.5 427.00,185.5 427.25,185.6 427.50,185.7 427.75,185.7 428.00,185.7 428.25,185.6 428.50,185.5 428.75,185.3 429.00,185.2 429.25,185.0 429.50,184.9 429.75,184.8 430.00,184.8 430.25,184.8 430.50,184.8 430.75,185.0 431.00,185.2 431.25,185.6 431.50,185.9 431.75,186.2 432.00,186.4 432.25,186.4 432.50,186.3 432.75,186.2 433.00,186.0 433.25,185.9 433.50,185.8 433.75,185.8 434.00,185.9 434.25,186.1 434.50,186.3 434.75,186.5 435.00,186.6 435.25,186.6 435.50,186.6 435.75,186.5 436.00,186.4 436.25,186.2 436.50,186.1 436.75,186.0 437.00,185.8 437.25,185.7 437.50,185.6 437.75,185.5 438.00,185.6 438.25,185.6 438.50,185.7 438.75,185.9 439.00,186.1 439.25,186.2 439.50,186.3 439.75,186.3 440.00,186.3 440.25,186.3 440.50,186.3 440.75,186.3 441.00,186.3 441.25,186.2 441.50,186.1 441.75,186.0 442.00,185.9 442.25,185.8 442.50,185.7 442.75,185.6 443.00,185.5 443.25,185.5 443.50,185.5 443.75,185.5 444.00,185.5 444.25,185.6 444.50,185.8 444.75,186.0 445.00,186.2 445.25,186.4 445.50,186.5 445.75,186.5 446.00,186.4 446.25,186.3 446.50,186.1 446.75,186.0 447.00,185.9 447.25,185.8 447.50,185.8 447.75,185.8 448.00,185.9 448.25,186.1 448.50,186.3 448.75,186.5 449.00,186.8 449.25,187.0 449.50,187.3 L449.50,195.0 449.25,194.8 449.00,194.4 448.75,194.1 448.50,193.7 448.25,193.5 448.00,193.4 447.75,193.5 447.50,193.6 447.25,193.7 447.00,193.9 446.75,194.1 446.50,194.4 446.25,194.6 446.00,194.8 445.75,195.0 445.50,195.1 445.25,195.1 445.00,195.1 444.75,195.1 444.50,195.1 444.25,195.0 444.00,194.9 443.75,194.8 443.50,194.7 443.25,194.7 443.00,194.8 442.75,194.8 442.50,194.9 442.25,195.0 442.00,195.0 441.75,195.1 441.50,195.1 441.25,195.0 441.00,195.0 440.75,194.8 440.50,194.6 440.25,194.3 440.00,194.1 439.75,193.9 439.50,193.8 439.25,193.8 439.00,193.8 438.75,194.0 438.50,194.2 438.25,194.4 438.00,194.6 437.75,194.7 437.50,194.8 437.25,194.8 437.00,194.7 436.75,194.6 436.50,194.5 436.25,194.3 436.00,194.2 435.75,194.1 435.50,194.1 435.25,194.1 435.00,194.3 434.75,194.5 434.50,194.7 434.25,194.8 434.00,194.9 433.75,194.9 433.50,194.9 433.25,194.9 433.00,194.9 432.75,194.9 432.50,194.9 432.25,194.9 432.00,194.8 431.75,194.8 431.50,194.8 431.25,194.8 431.00,194.7 430.75,194.6 430.50,194.4 430.25,194.2 430.00,193.9 429.75,193.7 429.50,193.5 429.25,193.5 429.00,193.5 428.75,193.7 428.50,193.9 428.25,194.1 428.00,194.3 427.75,194.4 427.50,194.5 427.25,194.6 427.00,194.6 426.75,194.6 426.50,194.5 426.25,194.5 426.00,194.5 425.75,194.4 425.50,194.4 425.25,194.3 425.00,194.3 424.75,194.3 424.50,194.3 424.25,194.3 424.00,194.3 423.75,194.3 423.50,194.3 423.25,194.2 423.00,194.1 422.75,193.9 422.50,193.7 422.25,193.6 422.00,193.4 421.75,193.3 421.50,193.3 421.25,193.2 421.00,193.2 420.75,193.2 420.50,193.3 420.25,193.3 420.00,193.3 419.75,193.4 419.50,193.4 419.25,193.3 419.00,193.3 418.75,193.2 418.50,193.0 418.25,192.9 418.00,192.7 417.75,192.6 417.50,192.4 417.25,192.2 417.00,192.0 416.75,191.7 416.50,191.4 416.25,191.2 416.00,191.1 415.75,191.0 415.50,191.1 415.25,191.1 415.00,191.2 414.75,191.4 414.50,191.5 414.25,191.6 414.00,191.7 413.75,191.8 413.50,191.8 413.25,191.6 413.00,191.4 412.75,191.1 412.50,190.6 412.25,190.0 412.00,189.4 411.75,188.6 411.50,187.8 411.25,187.0 411.00,186.3 410.75,185.8 410.50,185.6 410.25,185.6 410.00,185.8 409.75,186.1 409.50,186.3 409.25,186.6 409.00,186.8 408.75,187.1 408.50,187.5 408.25,188.0 408.00,188.5 407.75,189.0 407.50,189.4 407.25,189.7 407.00,190.0 406.75,190.2 406.50,190.4 406.25,190.5 406.00,190.6 405.75,190.7 405.50,190.8 405.25,190.9 405.00,190.9 404.75,191.0 404.50,191.0 404.25,191.0 404.00,190.9 403.75,190.9 403.50,190.9 403.25,190.9 403.00,190.9 402.75,190.9 402.50,190.9 402.25,190.9 402.00,190.9 401.75,190.9 401.50,190.8 401.25,190.8 401.00,190.8 400.75,190.8 400.50,190.9 400.25,190.9 400.00,190.9 399.75,190.9 399.50,190.8 399.25,190.7 399.00,190.6 398.75,190.5 398.50,190.4 398.25,190.5 398.00,190.7 397.75,190.9 397.50,191.1 397.25,191.3 397.00,191.4 396.75,191.4 396.50,191.4 396.25,191.3 396.00,191.1 395.75,190.8 395.50,190.5 395.25,190.2 395.00,190.1 394.75,190.1 394.50,190.3 394.25,190.6 394.00,190.8 393.75,190.9 393.50,191.0 393.25,190.9 393.00,190.8 392.75,190.6 392.50,190.4 392.25,190.3 392.00,190.3 391.75,190.3 391.50,190.3 391.25,190.4 391.00,190.4 390.75,190.4 390.50,190.5 390.25,190.5 390.00,190.6 389.75,190.8 389.50,190.9 389.25,191.1 389.00,191.2 388.75,191.2 388.50,191.2 388.25,191.1 388.00,190.9 387.75,190.6 387.50,190.3 387.25,190.0 387.00,189.9 386.75,189.8 386.50,189.7 386.25,189.8 386.00,189.8 385.75,189.8 385.50,189.8 385.25,189.8 385.00,189.8 384.75,189.7 384.50,189.6 384.25,189.6 384.00,189.7 383.75,190.0 383.50,190.3 383.25,190.6 383.00,190.8 382.75,190.9 382.50,190.8 382.25,190.6 382.00,190.2 381.75,189.7 381.50,189.2 381.25,188.7 381.00,188.6 380.75,188.6 380.50,188.9 380.25,189.3 380.00,189.7 379.75,190.0 379.50,190.2 379.25,190.2 379.00,190.2 378.75,190.2 378.50,190.1 378.25,190.1 378.00,190.0 377.75,189.9 377.50,189.8 377.25,189.7 377.00,189.6 376.75,189.5 376.50,189.4 376.25,189.4 376.00,189.4 375.75,189.6 375.50,189.7 375.25,189.9 375.00,190.1 374.75,190.2 374.50,190.4 374.25,190.5 374.00,190.6 373.75,190.7 373.50,190.7 373.25,190.7 373.00,190.7 372.75,190.6 372.50,190.6 372.25,190.5 372.00,190.4 371.75,190.3 371.50,190.2 371.25,190.1 371.00,189.9 370.75,189.8 370.50,189.6 370.25,189.4 370.00,189.2 369.75,189.1 369.50,189.0 369.25,189.0 369.00,189.1 368.75,189.2 368.50,189.3 368.25,189.4 368.00,189.5 367.75,189.5 367.50,189.5 367.25,189.5 367.00,189.5 366.75,189.5 366.50,189.5 366.25,189.5 366.00,189.4 365.75,189.3 365.50,189.2 365.25,189.0 365.00,188.9 364.75,188.8 364.50,188.7 364.25,188.6 364.00,188.4 363.75,188.3 363.50,188.2 363.25,188.2 363.00,188.2 362.75,188.3 362.50,188.5 362.25,188.7 362.00,188.9 361.75,189.1 361.50,189.3 361.25,189.4 361.00,189.5 360.75,189.5 360.50,189.4 360.25,189.3 360.00,189.1 359.75,189.0 359.50,188.8 359.25,188.7 359.00,188.6 358.75,188.5 358.50,188.4 358.25,188.3 358.00,188.3 357.75,188.2 357.50,188.2 357.25,188.3 357.00,188.3 356.75,188.3 356.50,188.3 356.25,188.3 356.00,188.2 355.75,188.2 355.50,188.1 355.25,188.1 355.00,188.2 354.75,188.3 354.50,188.4 354.25,188.6 354.00,188.9 353.75,189.0 353.50,189.2 353.25,189.2 353.00,189.2 352.75,189.2 352.50,189.1 352.25,189.0 352.00,188.9 351.75,188.9 351.50,188.9 351.25,189.0 351.00,189.1 350.75,189.2 350.50,189.2 350.25,189.2 350.00,189.2 349.75,189.1 349.50,189.0 349.25,188.8 349.00,188.5 348.75,188.3 348.50,188.2 348.25,188.2 348.00,188.2 347.75,188.4 347.50,188.6 347.25,188.9 347.00,189.3 346.75,189.6 346.50,189.8 346.25,189.9 346.00,189.9 345.75,189.7 345.50,189.2 345.25,188.7 345.00,188.1 344.75,187.6 344.50,187.4 344.25,187.4 344.00,187.5 343.75,187.8 343.50,188.0 343.25,188.3 343.00,188.5 342.75,188.7 342.50,188.8 342.25,188.9 342.00,189.0 341.75,189.0 341.50,188.9 341.25,188.9 341.00,188.8 340.75,188.8 340.50,188.7 340.25,188.8 340.00,188.9 339.75,188.9 339.50,188.9 339.25,188.9 339.00,188.7 338.75,188.4 338.50,187.9 338.25,187.5 338.00,187.1 337.75,186.8 337.50,186.7 337.25,186.7 337.00,186.8 336.75,186.9 336.50,187.1 336.25,187.3 336.00,187.5 335.75,187.7 335.50,187.9 335.25,188.1 335.00,188.4 334.75,188.7 334.50,188.9 334.25,189.1 334.00,189.1 333.75,189.1 333.50,189.1 333.25,188.9 333.00,188.7 332.75,188.5 332.50,188.2 332.25,188.0 332.00,187.8 331.75,187.7 331.50,187.6 331.25,187.6 331.00,187.6 330.75,187.8 330.50,187.8 330.25,187.9 330.00,187.8 329.75,187.7 329.50,187.4 329.25,187.1 329.00,186.8 328.75,186.6 328.50,186.6 328.25,186.8 328.00,187.1 327.75,187.6 327.50,188.0 327.25,188.2 327.00,188.4 326.75,188.5 326.50,188.5 326.25,188.5 326.00,188.4 325.75,188.4 325.50,188.3 325.25,188.2 325.00,188.1 324.75,188.0 324.50,187.7 324.25,187.4 324.00,186.9 323.75,186.5 323.50,186.1 323.25,185.8 323.00,185.5 322.75,185.2 322.50,185.0 322.25,184.9 322.00,184.9 321.75,185.1 321.50,185.4 321.25,185.9 321.00,186.4 320.75,187.0 320.50,187.5 320.25,187.8 320.00,188.1 319.75,188.3 319.50,188.4 319.25,188.4 319.00,188.4 318.75,188.4 318.50,188.4 318.25,188.3 318.00,188.2 317.75,188.1 317.50,187.9 317.25,187.9 317.00,187.9 316.75,188.0 316.50,188.1 316.25,188.2 316.00,188.3 315.75,188.2 315.50,188.1 315.25,187.8 315.00,187.4 314.75,187.0 314.50,186.6 314.25,186.3 314.00,186.0 313.75,185.9 313.50,185.9 313.25,185.9 313.00,186.0 312.75,186.2 312.50,186.5 312.25,186.8 312.00,187.3 311.75,187.6 311.50,187.9 311.25,188.0 311.00,188.1 310.75,188.0 310.50,187.9 310.25,187.7 310.00,187.5 309.75,187.3 309.50,187.2 309.25,187.1 309.00,187.1 308.75,187.2 308.50,187.3 308.25,187.4 308.00,187.6 307.75,187.9 307.50,188.2 307.25,188.5 307.00,188.7 306.75,188.8 306.50,188.8 306.25,188.8 306.00,188.7 305.75,188.5 305.50,188.3 305.25,188.1 305.00,187.8 304.75,187.5 304.50,187.3 304.25,187.3 304.00,187.3 303.75,187.5 303.50,187.7 303.25,187.8 303.00,187.7 302.75,187.7 302.50,187.6 302.25,187.5 302.00,187.5 301.75,187.6 301.50,187.8 301.25,188.1 301.00,188.4 300.75,188.6 300.50,188.8 300.25,188.8 300.00,188.9 299.75,188.9 299.50,189.0 299.25,189.0 299.00,189.0 298.75,189.1 298.50,189.1 298.25,189.1 298.00,189.1 297.75,189.1 297.50,189.0 297.25,188.9 297.00,188.7 296.75,188.4 296.50,188.1 296.25,187.8 296.00,187.6 295.75,187.5 295.50,187.4 295.25,187.4 295.00,187.4 294.75,187.5 294.50,187.6 294.25,187.7 294.00,187.9 293.75,188.0 293.50,188.0 293.25,188.1 293.00,188.1 292.75,188.2 292.50,188.2 292.25,188.3 292.00,188.4 291.75,188.6 291.50,188.7 291.25,188.8 291.00,188.8 290.75,188.7 290.50,188.7 290.25,188.6 290.00,188.6 289.75,188.7 289.50,188.8 289.25,188.9 289.00,189.0 288.75,189.1 288.50,189.1 288.25,189.1 288.00,189.2 287.75,189.2 287.50,189.2 287.25,189.2 287.00,189.3 286.75,189.2 286.50,189.2 286.25,189.1 286.00,189.0 285.75,188.9 285.50,188.8 285.25,188.7 285.00,188.4 284.75,188.1 284.50,187.7 284.25,187.3 284.00,186.9 283.75,186.8 283.50,186.8 283.25,187.0 283.00,187.4 282.75,187.8 282.50,188.2 282.25,188.6 282.00,188.9 281.75,189.1 281.50,189.2 281.25,189.3 281.00,189.3 280.75,189.3 280.50,189.3 280.25,189.3 280.00,189.2 279.75,189.1 279.50,188.9 279.25,188.6 279.00,188.3 278.75,188.0 278.50,187.8 278.25,187.7 278.00,187.7 277.75,187.8 277.50,188.0 277.25,188.3 277.00,188.6 276.75,188.9 276.50,189.1 276.25,189.3 276.00,189.3 275.75,189.3 275.50,189.3 275.25,189.3 275.00,189.3 274.75,189.3 274.50,189.2 274.25,189.1 274.00,188.9 273.75,188.6 273.50,188.3 273.25,187.9 273.00,187.5 272.75,187.2 272.50,187.1 272.25,187.3 272.00,187.6 271.75,188.0 271.50,188.3 271.25,188.5 271.00,188.5 270.75,188.4 270.50,188.3 270.25,188.1 270.00,188.0 269.75,188.0 269.50,188.0 269.25,188.0 269.00,187.9 268.75,187.9 268.50,187.9 268.25,187.8 268.00,187.8 267.75,187.9 267.50,188.0 267.25,188.3 267.00,188.6 266.75,188.9 266.50,189.1 266.25,189.2 266.00,189.2 265.75,189.0 265.50,188.7 265.25,188.4 265.00,188.1 264.75,188.0 264.50,188.1 264.25,188.3 264.00,188.6 263.75,188.8 263.50,188.9 263.25,189.0 263.00,188.9 262.75,188.9 262.50,188.7 262.25,188.6 262.00,188.4 261.75,188.2 261.50,188.1 261.25,187.9 261.00,187.7 260.75,187.6 260.50,187.6 260.25,187.7 260.00,188.0 259.75,188.4 259.50,188.7 259.25,188.9 259.00,189.0 258.75,189.0 258.50,188.9 258.25,188.8 258.00,188.7 257.75,188.7 257.50,188.7 257.25,188.8 257.00,188.8 256.75,188.9 256.50,188.9 256.25,189.0 256.00,189.0 255.75,188.9 255.50,188.9 255.25,188.9 255.00,188.8 254.75,188.7 254.50,188.4 254.25,187.9 254.00,187.4 253.75,186.8 253.50,186.4 253.25,186.4 253.00,186.8 252.75,187.3 252.50,187.9 252.25,188.3 252.00,188.5 251.75,188.6 251.50,188.5 251.25,188.2 251.00,187.8 250.75,187.4 250.50,187.1 250.25,186.8 250.00,186.7 249.75,186.8 249.50,186.9 249.25,187.2 249.00,187.5 248.75,187.9 248.50,188.1 248.25,188.3 248.00,188.4 247.75,188.4 247.50,188.3 247.25,188.1 247.00,187.9 246.75,187.5 246.50,187.2 246.25,187.0 246.00,186.8 245.75,186.8 245.50,186.8 245.25,186.9 245.00,187.0 244.75,187.0 244.50,187.1 244.25,187.1 244.00,187.1 243.75,187.1 243.50,187.0 243.25,187.0 243.00,187.0 242.75,186.9 242.50,186.9 242.25,186.9 242.00,187.0 241.75,187.1 241.50,187.3 241.25,187.4 241.00,187.5 240.75,187.6 240.50,187.6 240.25,187.6 240.00,187.6 239.75,187.5 239.50,187.3 239.25,187.1 239.00,186.7 238.75,186.3 238.50,185.9 238.25,185.6 238.00,185.4 237.75,185.2 237.50,185.1 237.25,185.0 237.00,185.0 236.75,185.1 236.50,185.2 236.25,185.3 236.00,185.4 235.75,185.5 235.50,185.6 235.25,185.7 235.00,185.9 234.75,186.0 234.50,186.2 234.25,186.3 234.00,186.3 233.75,186.3 233.50,186.1 233.25,185.9 233.00,185.6 232.75,185.2 232.50,184.8 232.25,184.5 232.00,184.2 231.75,184.0 231.50,183.9 231.25,184.0 231.00,184.2 230.75,184.4 230.50,184.6 230.25,184.6 230.00,184.6 229.75,184.6 229.50,184.4 229.25,184.3 229.00,184.3 228.75,184.4 228.50,184.7 228.25,185.0 228.00,185.2 227.75,185.4 227.50,185.4 227.25,185.5 227.00,185.5 226.75,185.4 226.50,185.3 226.25,185.2 226.00,185.0 225.75,184.7 225.50,184.3 225.25,184.0 225.00,183.7 224.75,183.5 224.50,183.4 224.25,183.4 224.00,183.5 223.75,183.8 223.50,184.1 223.25,184.3 223.00,184.6 222.75,184.7 222.50,184.8 222.25,184.8 222.00,184.7 221.75,184.7 221.50,184.6 221.25,184.5 221.00,184.3 220.75,184.1 220.50,183.9 220.25,183.7 220.00,183.5 219.75,183.4 219.50,183.3 219.25,183.2 219.00,183.2 218.75,183.1 218.50,183.0 218.25,182.9 218.00,182.8 217.75,182.6 217.50,182.4 217.25,182.3 217.00,182.3 216.75,182.3 216.50,182.5 216.25,182.7 216.00,182.9 215.75,183.1 215.50,183.1 215.25,183.1 215.00,183.0 214.75,182.7 214.50,182.5 214.25,182.2 214.00,182.1 213.75,181.9 213.50,181.8 213.25,181.7 213.00,181.6 212.75,181.6 212.50,181.5 212.25,181.5 212.00,181.5 211.75,181.4 211.50,181.4 211.25,181.4 211.00,181.5 210.75,181.6 210.50,181.6 210.25,181.6 210.00,181.6 209.75,181.5 209.50,181.4 209.25,181.2 209.00,180.9 208.75,180.7 208.50,180.6 208.25,180.6 208.00,180.5 207.75,180.4 207.50,180.2 207.25,179.9 207.00,179.5 206.75,179.0 206.50,178.5 206.25,178.2 206.00,177.9 205.75,177.8 205.50,177.7 205.25,177.7 205.00,177.7 204.75,177.6 204.50,177.6 204.25,177.5 204.00,177.2 203.75,176.8 203.50,176.3 203.25,175.7 203.00,175.0 202.75,174.2 202.50,173.4 202.25,172.3 202.00,170.8 201.75,168.9 201.50,166.6 201.25,164.0 201.00,160.9 200.75,157.3 200.50,153.3 200.25,148.8 200.00,144.4 199.75,141.0 199.50,139.4 199.25,140.1 199.00,143.0 198.75,147.3 198.50,152.0 198.25,156.4 198.00,160.0 197.75,163.0 197.50,165.5 197.25,167.6 197.00,169.4 196.75,170.7 196.50,171.7 196.25,172.5 196.00,173.1 195.75,173.7 195.50,174.2 195.25,174.6 195.00,174.9 194.75,175.1 194.50,175.2 194.25,175.2 194.00,175.1 193.75,175.1 193.50,175.0 193.25,174.8 193.00,174.7 192.75,174.6 192.50,174.5 192.25,174.4 192.00,174.3 191.75,174.1 191.50,174.0 191.25,173.9 191.00,173.8 190.75,173.9 190.50,174.1 190.25,174.6 190.00,175.1 189.75,175.7 189.50,176.1 189.25,176.5 189.00,176.6 188.75,176.7 188.50,176.6 188.25,176.4 188.00,176.1 187.75,175.7 187.50,175.4 187.25,175.1 187.00,175.0 186.75,175.1 186.50,175.3 186.25,175.6 186.00,175.8 185.75,176.0 185.50,176.0 185.25,176.0 185.00,175.9 184.75,175.8 184.50,175.8 184.25,175.8 184.00,175.9 183.75,176.0 183.50,176.1 183.25,176.2 183.00,176.2 182.75,176.1 182.50,175.8 182.25,175.4 182.00,174.9 181.75,174.5 181.50,174.1 181.25,173.8 181.00,173.7 180.75,173.8 180.50,173.9 180.25,174.2 180.00,174.6 179.75,175.1 179.50,175.5 179.25,175.9 179.00,176.1 178.75,176.3 178.50,176.3 178.25,176.4 178.00,176.4 177.75,176.5 177.50,176.5 177.25,176.5 177.00,176.4 176.75,176.3 176.50,176.2 176.25,176.0 176.00,175.7 175.75,175.5 175.50,175.3 175.25,175.2 175.00,175.1 174.75,175.0 174.50,175.0 174.25,175.0 174.00,175.2 173.75,175.4 173.50,175.7 173.25,175.8 173.00,175.9 172.75,175.9 172.50,175.9 172.25,175.8 172.00,175.7 171.75,175.6 171.50,175.5 171.25,175.2 171.00,174.8 170.75,174.2 170.50,173.7 170.25,173.4 170.00,173.3 169.75,173.4 169.50,173.6 169.25,173.9 169.00,174.0 168.75,173.9 168.50,173.8 168.25,173.4 168.00,172.9 167.75,172.3 167.50,171.8 167.25,171.4 167.00,171.1 166.75,171.0 166.50,171.0 166.25,171.2 166.00,171.4 165.75,171.7 165.50,171.9 165.25,172.1 165.00,172.2 164.75,172.2 164.50,172.1 164.25,171.9 164.00,171.6 163.75,171.3 163.50,171.0 163.25,170.8 163.00,170.5 162.75,170.2 162.50,169.8 162.25,169.3 162.00,168.7 161.75,168.0 161.50,167.4 161.25,166.9 161.00,166.5 160.75,165.9 160.50,165.3 160.25,164.3 160.00,162.9 159.75,161.0 159.50,158.6 159.25,155.6 159.00,152.2 158.75,148.8 158.50,146.1 158.25,144.8 158.00,145.2 157.75,147.2 157.50,150.2 157.25,153.4 157.00,156.2 156.75,158.4 156.50,159.9 156.25,161.0 156.00,161.8 155.75,162.4 155.50,163.0 155.25,163.5 155.00,163.9 154.75,164.3 154.50,164.5 154.25,164.6 154.00,164.7 153.75,164.8 153.50,164.9 153.25,164.9 153.00,164.9 152.75,164.9 152.50,164.8 152.25,164.8 152.00,164.6 151.75,164.5 151.50,164.5 151.25,164.5 151.00,164.7 150.75,165.0 150.50,165.4 150.25,165.7 150.00,166.0 149.75,166.1 149.50,166.2 149.25,166.2 149.00,166.1 148.75,166.1 148.50,166.0 148.25,165.9 148.00,165.8 147.75,165.7 147.50,165.7 147.25,165.5 147.00,165.4 146.75,165.1 146.50,164.9 146.25,164.6 146.00,164.4 145.75,164.2 145.50,164.1 145.25,164.0 145.00,163.9 144.75,163.9 144.50,163.8 144.25,163.7 144.00,163.5 143.75,163.2 143.50,162.8 143.25,162.3 143.00,161.9 142.75,161.6 142.50,161.4 142.25,161.3 142.00,161.3 141.75,161.2 141.50,161.1 141.25,160.9 141.00,160.8 140.75,160.6 140.50,160.4 140.25,160.3 140.00,160.3 139.75,160.3 139.50,160.4 139.25,160.5 139.00,160.7 138.75,160.9 138.50,161.0 138.25,161.1 138.00,161.1 137.75,161.2 137.50,161.2 137.25,161.2 137.00,161.2 136.75,161.2 136.50,161.0 136.25,160.7 136.00,160.2 135.75,159.5 135.50,158.7 135.25,158.0 135.00,157.6 134.75,157.5 134.50,157.5 134.25,157.6 134.00,157.7 133.75,157.8 133.50,157.8 133.25,157.8 133.00,157.8 132.75,157.7 132.50,157.6 132.25,157.6 132.00,157.7 131.75,157.8 131.50,157.9 131.25,158.0 131.00,157.9 130.75,157.7 130.50,157.3 130.25,156.8 130.00,156.1 129.75,155.6 129.50,155.1 129.25,154.8 129.00,154.6 128.75,154.5 128.50,154.4 128.25,154.5 128.00,154.6 127.75,154.9 127.50,155.2 127.25,155.6 127.00,155.9 126.75,156.1 126.50,156.3 126.25,156.4 126.00,156.4 125.75,156.3 125.50,156.1 125.25,155.9 125.00,155.6 124.75,155.4 124.50,155.3 124.25,155.2 124.00,155.2 123.75,155.1 123.50,155.0 123.25,154.9 123.00,154.6 122.75,154.3 122.50,153.9 122.25,153.4 122.00,152.8 121.75,152.1 121.50,151.3 121.25,150.6 121.00,150.0 120.75,149.6 120.50,149.4 120.25,149.4 120.00,149.6 119.75,149.9 119.50,150.3 119.25,150.6 119.00,150.9 118.75,151.0 118.50,151.0 118.25,150.9 118.00,150.5 117.75,150.1 117.50,149.5 117.25,148.9 117.00,148.3 116.75,148.0 116.50,147.7 116.25,147.6 116.00,147.5 115.75,147.4 115.50,147.4 115.25,147.4 115.00,147.5 114.75,147.5 114.50,147.6 114.25,147.6 114.00,147.5 113.75,147.5 113.50,147.3 113.25,147.2 113.00,147.1 112.75,147.0 112.50,146.9 112.25,146.6 112.00,146.3 111.75,145.8 111.50,145.4 111.25,144.9 111.00,144.6 110.75,144.5 110.50,144.5 110.25,144.5 110.00,144.6 109.75,144.6 109.50,144.5 109.25,144.3 109.00,144.0 108.75,143.6 108.50,143.3 108.25,143.2 108.00,143.1 107.75,143.1 107.50,143.1 107.25,143.0 107.00,142.7 106.75,142.1 106.50,141.4 106.25,140.6 106.00,139.9 105.75,139.7 105.50,139.7 105.25,140.0 105.00,140.3 104.75,140.5 104.50,140.7 104.25,140.8 104.00,140.9 103.75,141.0 103.50,141.1 103.25,141.1 103.00,141.1 102.75,141.1 102.50,140.9 102.25,140.6 102.00,140.2 101.75,139.7 101.50,139.4 101.25,139.1 101.00,139.0 100.75,138.9 100.50,138.8 100.25,138.7 100.00,138.4 99.75,138.0 99.50,137.4 99.25,136.9 99.00,136.4 98.75,136.0 98.50,135.9 98.25,136.1 98.00,136.4 97.75,136.8 97.50,137.2 97.25,137.5 97.00,137.6 96.75,137.6 96.50,137.3 96.25,136.8 96.00,136.1 95.75,135.4 95.50,134.8 95.25,134.5 95.00,134.3 94.75,134.4 94.50,134.4 94.25,134.6 94.00,134.8 93.75,135.0 93.50,135.2 93.25,135.4 93.00,135.5 92.75,135.6 92.50,135.5 92.25,135.2 92.00,134.7 91.75,134.1 91.50,133.3 91.25,132.4 91.00,131.7 90.75,131.1 90.50,130.7 90.25,130.5 90.00,130.4 89.75,130.4 89.50,130.6 89.25,130.9 89.00,131.1 88.75,131.3 88.50,131.3 88.25,131.3 88.00,131.2 87.75,130.9 87.50,130.6 87.25,130.2 87.00,129.9 86.75,129.7 86.50,129.5 86.25,129.5 86.00,129.5 85.75,129.4 85.50,129.4 85.25,129.3 85.00,129.3 84.75,129.2 84.50,129.3 84.25,129.3 84.00,129.3 83.75,129.4 83.50,129.4 83.25,129.3 83.00,129.1 82.75,128.7 82.50,128.1 82.25,127.5 82.00,127.0 81.75,126.6 81.50,126.4 81.25,126.6 81.00,127.0 80.75,127.6 80.50,128.2 80.25,128.6 80.00,128.7 79.75,128.5 79.50,128.0 79.25,127.3 79.00,126.4 78.75,125.6 78.50,124.9 78.25,124.4 78.00,124.2 77.75,124.3 77.50,124.7 77.25,125.3 77.00,126.0 76.75,126.7 76.50,127.1 76.25,127.3 76.00,127.1 75.75,126.8 75.50,126.2 75.25,125.5 75.00,124.9 74.75,124.4 74.50,124.2 74.25,124.0 74.00,124.0 73.75,124.1 73.50,124.2 73.25,124.3 73.00,124.7 72.75,125.2 72.50,125.8 72.25,126.6 72.00,127.3 71.75,127.9 71.50,128.3 71.25,128.5 71.00,128.7 70.75,128.7 70.50,128.7 70.25,128.6 70.00,128.5 69.75,128.4 69.50,128.4 69.25,128.5 69.00,128.7 68.75,128.9 68.50,129.0 68.25,129.0 68.00,128.9 67.75,128.8 67.50,128.6 67.25,128.5 67.00,128.5 66.75,128.5 66.50,128.6 66.25,128.7 66.00,128.7 65.75,128.6 65.50,128.5 65.25,128.3 65.00,128.1 64.75,127.9 64.50,127.8 64.25,127.7 64.00,127.6 63.75,127.5 63.50,127.4 63.25,127.4 63.00,127.3 62.75,127.2 62.50,127.2 62.25,127.2 62.00,127.4 61.75,127.8 61.50,128.3 61.25,128.8 61.00,129.3 60.75,129.5 60.50,129.6 60.25,129.6 60.00,129.6 59.75,129.4 59.50,129.2 59.25,129.1 59.00,129.0 58.75,128.9 58.50,128.8 58.25,128.6 58.00,128.4 57.75,128.1 57.50,127.7 57.25,127.4 57.00,127.1 56.75,126.9 56.50,126.8 56.25,126.7 56.00,126.6 55.75,126.6 55.50,126.6 55.25,126.7 55.00,126.9 54.75,127.1 54.50,127.3 54.25,127.6 54.00,127.7 53.75,127.8 53.50,127.8 53.25,127.8 53.00,127.7 52.75,127.6 52.50,127.5 52.25,127.4 52.00,127.4 51.75,127.4 51.50,127.4 51.25,127.4 51.00,127.5 50.75,127.6 50.50,128.0 50.25,128.5 50.00,129.3 49.75,130.1 49.50,130.9 49.25,131.5 49.00,131.9 48.75,132.1 48.50,132.1 48.25,132.1 48.00,131.9 47.75,131.6 47.50,131.2 47.25,130.7 47.00,130.1 46.75,129.7 46.50,129.3 46.25,129.1 46.00,128.9 45.75,128.8 45.50,128.8Z" fill="#000000"/><path d="M45.5,124.7 46.0,124.6 46.5,124.5 47.0,124.4 47.5,124.3 48.0,124.2 48.5,124.0 49.0,123.9 49.5,123.8 50.0,123.6 50.5,123.5 51.0,123.3 51.5,123.2 52.0,123.1 52.5,122.9 53.0,122.8 53.5,122.7 54.0,122.6 54.5,122.5 55.0,122.4 55.5,122.3 56.0,122.2 56.5,122.1 57.0,122.1 57.5,122.0 58.0,121.9 58.5,121.8 59.0,121.8 59.5,121.7 60.0,121.6 60.5,121.5 61.0,121.5 61.5,121.4 62.0,121.3 62.5,121.2 63.0,121.2 63.5,121.1 64.0,121.1 64.5,121.0 65.0,121.0 65.5,120.9 66.0,120.9 66.5,120.9 67.0,120.8 67.5,120.8 68.0,120.8 68.5,120.8 69.0,120.7 69.5,120.7 70.0,120.7 70.5,120.7 71.0,120.6 71.5,120.6 72.0,120.6 72.5,120.6 73.0,120.5 73.5,120.5 74.0,120.5 74.5,120.4 75.0,120.4 75.5,120.3 76.0,120.3 76.5,120.3 77.0,120.2 77.5,120.2 78.0,120.3 78.5,120.3 79.0,120.4 79.5,120.5 80.0,120.7 80.5,120.8 81.0,121.0 81.5,121.2 82.0,121.5 82.5,121.7 83.0,122.0 83.5,122.2 84.0,122.5 84.5,122.7 85.0,123.0 85.5,123.2 86.0,123.5 86.5,123.7 87.0,124.0 87.5,124.2 88.0,124.5 88.5,124.8 89.0,125.0 89.5,125.3 90.0,125.6 90.5,125.9 91.0,126.2 91.5,126.4 92.0,126.7 92.5,127.0 93.0,127.3 93.5,127.6 94.0,127.9 94.5,128.2 95.0,128.5 95.5,128.8 96.0,129.1 96.5,129.4 97.0,129.7 97.5,130.0 98.0,130.3 98.5,130.6 99.0,130.8 99.5,131.1 100.0,131.3 100.5,131.6 101.0,131.8 101.5,132.1 102.0,132.3 102.5,132.5 103.0,132.7 103.5,133.0 104.0,133.2 104.5,133.4 105.0,133.6 105.5,133.9 106.0,134.1 106.5,134.3 107.0,134.6 107.5,134.8 108.0,135.1 108.5,135.4 109.0,135.7 109.5,136.1 110.0,136.4 110.5,136.8 111.0,137.2 111.5,137.6 112.0,138.0 112.5,138.4 113.0,138.8 113.5,139.2 114.0,139.7 114.5,140.1 115.0,140.5 115.5,140.9 116.0,141.4 116.5,141.8 117.0,142.2 117.5,142.6 118.0,143.0 118.5,143.4 119.0,143.7 119.5,144.1 120.0,144.4 120.5,144.8 121.0,145.1 121.5,145.4 122.0,145.7 122.5,146.0 123.0,146.3 123.5,146.6 124.0,146.9 124.5,147.2 125.0,147.5 125.5,147.8 126.0,148.1 126.5,148.4 127.0,148.7 127.5,149.0 128.0,149.2 128.5,149.5 129.0,149.8 129.5,150.0 130.0,150.3 130.5,150.5 131.0,150.7 131.5,150.9 132.0,151.1 132.5,151.4 133.0,151.6 133.5,151.8 134.0,152.0 134.5,152.2 135.0,152.5 135.5,152.7 136.0,152.9 136.5,153.2 137.0,153.4 137.5,153.7 138.0,154.0 138.5,154.2 139.0,154.5 139.5,154.7 140.0,155.0 140.5,155.3 141.0,155.5 141.5,155.8 142.0,156.0 142.5,156.3 143.0,156.5 143.5,156.8 144.0,157.0 144.5,157.2 145.0,157.5 145.5,157.7 146.0,157.9 146.5,158.2 147.0,158.4 147.5,158.6 148.0,158.8 148.5,159.0 149.0,159.1 149.5,159.3 150.0,159.4 150.5,159.6 151.0,159.7 151.5,159.7 152.0,159.8 152.5,159.8 153.0,159.7 153.5,159.6 154.0,159.4 154.5,159.0 155.0,158.4 155.5,157.2 156.0,154.6 156.5,149.6 157.0,141.1 157.5,129.1 158.0,118.1 158.5,117.0 159.0,127.3 159.5,140.1 160.0,149.9 160.5,156.0 161.0,159.5 161.5,161.4 162.0,162.7 162.5,163.5 163.0,164.2 163.5,164.8 164.0,165.3 164.5,165.7 165.0,166.1 165.5,166.4 166.0,166.7 166.5,166.9 167.0,167.1 167.5,167.3 168.0,167.5 168.5,167.6 169.0,167.8 169.5,168.0 170.0,168.1 170.5,168.3 171.0,168.4 171.5,168.5 172.0,168.7 172.5,168.8 173.0,168.9 173.5,169.0 174.0,169.1 174.5,169.2 175.0,169.3 175.5,169.4 176.0,169.4 176.5,169.5 177.0,169.5 177.5,169.6 178.0,169.6 178.5,169.7 179.0,169.7 179.5,169.8 180.0,169.8 180.5,169.9 181.0,169.9 181.5,170.0 182.0,170.0 182.5,170.0 183.0,170.1 183.5,170.1 184.0,170.1 184.5,170.1 185.0,170.1 185.5,170.2 186.0,170.2 186.5,170.2 187.0,170.2 187.5,170.1 188.0,170.1 188.5,170.1 189.0,170.1 189.5,170.0 190.0,170.0 190.5,169.9 191.0,169.9 191.5,169.8 192.0,169.7 192.5,169.5 193.0,169.4 193.5,169.2 194.0,168.9 194.5,168.6 195.0,168.1 195.5,167.4 196.0,166.3 196.5,164.4 197.0,160.8 197.5,154.3 198.0,143.4 198.5,128.1 199.0,111.7 199.5,104.0 200.0,112.0 200.5,128.6 201.0,144.2 201.5,155.3 202.0,162.1 202.5,165.9 203.0,168.1 203.5,169.4 204.0,170.4 204.5,171.1 205.0,171.7 205.5,172.2 206.0,172.7 206.5,173.1 207.0,173.4 207.5,173.8 208.0,174.1 208.5,174.3 209.0,174.6 209.5,174.8 210.0,175.0 210.5,175.2 211.0,175.4 211.5,175.6 212.0,175.8 212.5,175.9 213.0,176.1 213.5,176.2 214.0,176.4 214.5,176.5 215.0,176.7 215.5,176.8 216.0,177.0 216.5,177.1 217.0,177.2 217.5,177.4 218.0,177.5 218.5,177.6 219.0,177.7 219.5,177.8 220.0,177.9 220.5,178.0 221.0,178.1 221.5,178.2 222.0,178.2 222.5,178.3 223.0,178.4 223.5,178.5 224.0,178.5 224.5,178.6 225.0,178.7 225.5,178.7 226.0,178.8 226.5,178.9 227.0,179.0 227.5,179.0 228.0,179.1 228.5,179.2 229.0,179.2 229.5,179.3 230.0,179.4 230.5,179.4 231.0,179.5 231.5,179.6 232.0,179.7 232.5,179.7 233.0,179.8 233.5,179.9 234.0,180.0 234.5,180.1 235.0,180.1 235.5,180.2 236.0,180.3 236.5,180.4 237.0,180.5 237.5,180.6 238.0,180.7 238.5,180.8 239.0,180.9 239.5,181.0 240.0,181.1 240.5,181.2 241.0,181.3 241.5,181.4 242.0,181.5 242.5,181.6 243.0,181.7 243.5,181.8 244.0,181.8 244.5,181.9 245.0,182.0 245.5,182.0 246.0,182.0 246.5,182.1 247.0,182.1 247.5,182.1 248.0,182.2 248.5,182.2 249.0,182.2 249.5,182.2 250.0,182.3 250.5,182.3 251.0,182.3 251.5,182.3 252.0,182.4 252.5,182.4 253.0,182.4 253.5,182.4 254.0,182.5 254.5,182.5 255.0,182.5 255.5,182.5 256.0,182.6 256.5,182.6 257.0,182.6 257.5,182.6 258.0,182.7 258.5,182.7 259.0,182.7 259.5,182.7 260.0,182.8 260.5,182.8 261.0,182.8 261.5,182.8 262.0,182.9 262.5,182.9 263.0,182.9 263.5,182.9 264.0,182.9 264.5,183.0 265.0,183.0 265.5,183.0 266.0,183.0 266.5,183.0 267.0,183.0 267.5,183.0 268.0,183.0 268.5,183.0 269.0,183.0 269.5,183.0 270.0,183.0 270.5,183.0 271.0,183.0 271.5,183.0 272.0,183.0 272.5,183.0 273.0,183.0 273.5,183.0 274.0,183.0 274.5,183.0 275.0,183.0 275.5,183.0 276.0,183.0 276.5,183.0 277.0,183.0 277.5,183.0 278.0,183.0 278.5,183.0 279.0,183.0 279.5,183.0 280.0,183.0 280.5,183.0 281.0,183.0 281.5,183.0 282.0,183.0 282.5,183.0 283.0,183.0 283.5,183.0 284.0,183.0 284.5,183.0 285.0,183.0 285.5,183.0 286.0,183.0 286.5,183.0 287.0,182.9 287.5,182.9 288.0,182.9 288.5,182.9 289.0,182.9 289.5,182.9 290.0,182.9 290.5,182.9 291.0,182.9 291.5,182.9 292.0,182.9 292.5,182.9 293.0,182.9 293.5,182.8 294.0,182.8 294.5,182.8 295.0,182.8 295.5,182.8 296.0,182.8 296.5,182.8 297.0,182.8 297.5,182.8 298.0,182.8 298.5,182.8 299.0,182.8 299.5,182.8 300.0,182.8 300.5,182.7 301.0,182.7 301.5,182.7 302.0,182.7 302.5,182.7 303.0,182.7 303.5,182.7 304.0,182.7 304.5,182.7 305.0,182.7 305.5,182.6 306.0,182.6 306.5,182.6 307.0,182.6 307.5,182.6 308.0,182.6 308.5,182.5 309.0,182.5 309.5,182.5 310.0,182.5 310.5,182.5 311.0,182.4 311.5,182.4 312.0,182.4 312.5,182.4 313.0,182.4 313.5,182.4 314.0,182.3 314.5,182.3 315.0,182.3 315.5,182.3 316.0,182.3 316.5,182.3 317.0,182.2 317.5,182.2 318.0,182.2 318.5,182.2 319.0,182.2 319.5,182.2 320.0,182.1 320.5,182.1 321.0,182.1 321.5,182.1 322.0,182.1 322.5,182.1 323.0,182.1 323.5,182.1 324.0,182.1 324.5,182.1 325.0,182.1 325.5,182.2 326.0,182.2 326.5,182.2 327.0,182.3 327.5,182.3 328.0,182.4 328.5,182.4 329.0,182.5 329.5,182.5 330.0,182.6 330.5,182.6 331.0,182.7 331.5,182.7 332.0,182.8 332.5,182.8 333.0,182.9 333.5,182.9 334.0,183.0 334.5,183.0 335.0,183.1 335.5,183.1 336.0,183.2 336.5,183.2 337.0,183.3 337.5,183.3 338.0,183.4 338.5,183.4 339.0,183.5 339.5,183.5 340.0,183.6 340.5,183.6 341.0,183.7 341.5,183.7 342.0,183.8 342.5,183.8 343.0,183.9 343.5,183.9 344.0,183.9 344.5,184.0 345.0,184.0 345.5,184.0 346.0,184.1 346.5,184.1 347.0,184.1 347.5,184.1 348.0,184.1 348.5,184.1 349.0,184.2 349.5,184.2 350.0,184.2 350.5,184.2 351.0,184.2 351.5,184.2 352.0,184.3 352.5,184.3 353.0,184.3 353.5,184.3 354.0,184.3 354.5,184.3 355.0,184.4 355.5,184.4 356.0,184.4 356.5,184.4 357.0,184.4 357.5,184.4 358.0,184.5 358.5,184.5 359.0,184.5 359.5,184.5 360.0,184.5 360.5,184.5 361.0,184.6 361.5,184.6 362.0,184.6 362.5,184.6 363.0,184.6 363.5,184.6 364.0,184.7 364.5,184.7 365.0,184.7 365.5,184.7 366.0,184.7 366.5,184.7 367.0,184.8 367.5,184.8 368.0,184.8 368.5,184.8 369.0,184.8 369.5,184.8 370.0,184.9 370.5,184.9 371.0,184.9 371.5,184.9 372.0,184.9 372.5,184.9 373.0,185.0 373.5,185.0 374.0,185.0 374.5,185.0 375.0,185.0 375.5,185.1 376.0,185.1 376.5,185.1 377.0,185.1 377.5,185.2 378.0,185.2 378.5,185.2 379.0,185.2 379.5,185.3 380.0,185.3 380.5,185.3 381.0,185.3 381.5,185.4 382.0,185.4 382.5,185.4 383.0,185.4 383.5,185.5 384.0,185.5 384.5,185.5 385.0,185.5 385.5,185.6 386.0,185.6 386.5,185.6 387.0,185.6 387.5,185.6 388.0,185.7 388.5,185.7 389.0,185.7 389.5,185.7 390.0,185.8 390.5,185.8 391.0,185.8 391.5,185.8 392.0,185.9 392.5,185.9 393.0,185.9 393.5,186.0 394.0,186.0 394.5,186.0 395.0,186.1 395.5,186.1 396.0,186.2 396.5,186.2 397.0,186.3 397.5,186.3 398.0,186.4 398.5,186.5 399.0,186.5 399.5,186.6 400.0,186.6 400.5,186.7 401.0,186.7 401.5,186.8 402.0,186.8 402.5,186.8 403.0,186.9 403.5,186.9 404.0,186.9 404.5,187.0 405.0,187.0 405.5,187.0 406.0,186.9 406.5,186.8 407.0,186.7 407.5,186.3 408.0,185.6 408.5,184.6 409.0,183.2 409.5,181.6 410.0,180.1 410.5,179.5 411.0,180.2 411.5,181.8 412.0,183.6 412.5,185.1 413.0,186.3 413.5,187.0 414.0,187.5 414.5,187.8 415.0,188.0 415.5,188.2 416.0,188.3 416.5,188.4 417.0,188.5 417.5,188.6 418.0,188.7 418.5,188.7 419.0,188.8 419.5,188.9 420.0,188.9 420.5,189.0 421.0,189.0 421.5,189.1 422.0,189.1 422.5,189.2 423.0,189.2 423.5,189.2 424.0,189.3 424.5,189.3 425.0,189.3 425.5,189.4 426.0,189.4 426.5,189.5 427.0,189.5 427.5,189.5 428.0,189.6 428.5,189.6 429.0,189.6 429.5,189.7 430.0,189.7 430.5,189.7 431.0,189.8 431.5,189.8 432.0,189.8 432.5,189.9 433.0,189.9 433.5,189.9 434.0,190.0 434.5,190.0 435.0,190.0 435.5,190.0 436.0,190.0 436.5,190.1 437.0,190.1 437.5,190.1 438.0,190.1 438.5,190.1 439.0,190.1 439.5,190.2 440.0,190.2 440.5,190.2 441.0,190.2 441.5,190.2 442.0,190.3 442.5,190.3 443.0,190.3 443.5,190.3 444.0,190.3 444.5,190.3 445.0,190.4 445.5,190.4 446.0,190.4 446.5,190.4 447.0,190.4 447.5,190.4 448.0,190.4 448.5,190.5 449.0,190.5 449.5,190.5" fill="none" stroke="#000000" stroke-width="3.0" stroke-linejoin="round"/>
<!-- frame -->
<path d="M45.3,5 L45.3,333.8 L449.2,333.8 L449.2,5 Z" fill="none" stroke="#000" stroke-width="2.2"/>
<line x1="62.13" y1="334" x2="62.13" y2="330.50" stroke="#000" stroke-width="2"/><line x1="78.96" y1="334" x2="78.96" y2="327.50" stroke="#000" stroke-width="2"/><line x1="95.79" y1="334" x2="95.79" y2="330.50" stroke="#000" stroke-width="2"/><line x1="112.62" y1="334" x2="112.62" y2="327.50" stroke="#000" stroke-width="2"/><line x1="129.45" y1="334" x2="129.45" y2="330.50" stroke="#000" stroke-width="2"/><line x1="146.27" y1="334" x2="146.27" y2="327.50" stroke="#000" stroke-width="2"/><line x1="163.10" y1="334" x2="163.10" y2="330.50" stroke="#000" stroke-width="2"/><line x1="179.93" y1="334" x2="179.93" y2="327.50" stroke="#000" stroke-width="2"/><line x1="196.76" y1="334" x2="196.76" y2="330.50" stroke="#000" stroke-width="2"/><line x1="213.59" y1="334" x2="213.59" y2="327.50" stroke="#000" stroke-width="2"/><line x1="230.42" y1="334" x2="230.42" y2="330.50" stroke="#000" stroke-width="2"/><line x1="247.25" y1="334" x2="247.25" y2="327.50" stroke="#000" stroke-width="2"/><line x1="264.08" y1="334" x2="264.08" y2="330.50" stroke="#000" stroke-width="2"/><line x1="280.91" y1="334" x2="280.91" y2="327.50" stroke="#000" stroke-width="2"/><line x1="297.74" y1="334" x2="297.74" y2="330.50" stroke="#000" stroke-width="2"/><line x1="314.57" y1="334" x2="314.57" y2="327.50" stroke="#000" stroke-width="2"/><line x1="331.40" y1="334" x2="331.40" y2="330.50" stroke="#000" stroke-width="2"/><line x1="348.23" y1="334" x2="348.23" y2="327.50" stroke="#000" stroke-width="2"/><line x1="365.05" y1="334" x2="365.05" y2="330.50" stroke="#000" stroke-width="2"/><line x1="381.88" y1="334" x2="381.88" y2="327.50" stroke="#000" stroke-width="2"/><line x1="398.71" y1="334" x2="398.71" y2="330.50" stroke="#000" stroke-width="2"/><line x1="415.54" y1="334" x2="415.54" y2="327.50" stroke="#000" stroke-width="2"/><line x1="432.37" y1="334" x2="432.37" y2="330.50" stroke="#000" stroke-width="2"/>
<text x="45.30" y="357.3" text-anchor="middle" class="tk">20</text><text x="78.96" y="357.3" text-anchor="middle" class="tk">25</text><text x="112.62" y="357.3" text-anchor="middle" class="tk">30</text><text x="146.27" y="357.3" text-anchor="middle" class="tk">35</text><text x="179.93" y="357.3" text-anchor="middle" class="tk">40</text><text x="213.59" y="357.3" text-anchor="middle" class="tk">45</text><text x="247.25" y="357.3" text-anchor="middle" class="tk">50</text><text x="280.91" y="357.3" text-anchor="middle" class="tk">55</text><text x="314.57" y="357.3" text-anchor="middle" class="tk">60</text><text x="348.23" y="357.3" text-anchor="middle" class="tk">65</text><text x="381.88" y="357.3" text-anchor="middle" class="tk">70</text><text x="415.54" y="357.3" text-anchor="middle" class="tk">75</text><text x="449.20" y="357.3" text-anchor="middle" class="tk">80</text>
<text x="50.2" y="27.5" font-size="20.4">Cuprite</text>
<!-- table -->
<rect x="216" y="7" width="231" height="82" fill="#fff"/>
<rect x="216" y="5.4" width="231" height="2.6" fill="#000"/>
<rect x="216" y="37.8" width="231" height="2.4" fill="#000"/>
<rect x="216" y="88.8" width="231" height="2.4" fill="#000"/>
<text x="256" y="26.7" class="tb" text-anchor="middle">Sample</text>
<text x="320.5" y="26.7" class="tb" text-anchor="middle">Cu<tspan font-size="7.5" dy="1.5">2</tspan><tspan dy="-1.5">O_c1</tspan></text>
<text x="371.1" y="26.7" class="tb" text-anchor="middle">Cu<tspan font-size="7.5" dy="1.5">2</tspan><tspan dy="-1.5">O_c2</tspan></text>
<text x="421.8" y="26.7" class="tb" text-anchor="middle">Cu<tspan font-size="7.5" dy="1.5">2</tspan><tspan dy="-1.5">O_c3</tspan></text>
<text x="255.8" y="56.7" class="tb" text-anchor="middle">FWHM / (111)</text>
<text x="320.5" y="56.7" class="tb" text-anchor="middle">0.269</text>
<text x="371.3" y="56.7" class="tb" text-anchor="middle">0.566</text>
<text x="421.8" y="56.7" class="tb" text-anchor="middle">1.594</text>
<text x="255.8" y="81.3" class="tb" text-anchor="middle">FWHM / (200)</text>
<text x="320.5" y="81.3" class="tb" text-anchor="middle">0.292</text>
<text x="371.3" y="81.3" class="tb" text-anchor="middle">0.675</text>
<text x="421.8" y="81.3" class="tb" text-anchor="middle">2.601</text>
<!-- peak labels -->
<text x="139.3" y="110" class="pk" style="font-size:17.5px">(111)</text>
<text x="181" y="102" class="pk">(200)</text>
<text x="393.6" y="165.8" class="pk" style="font-size:17px">(311)</text>
<text x="138.4" y="192" class="pk" style="font-size:17.5px">(111)</text>
<text x="181.5" y="191.5" class="pk">(200)</text>
<text x="390.4" y="221.6" class="pk" style="font-size:17px">(311)</text>
<text x="140.6" y="244" class="pk" style="font-size:17.5px">(111)</text>
<text x="182.7" y="254" class="pk">(200)</text>
<!-- curve labels -->
<text x="237.2" y="165.5" font-size="21" textLength="25.3" lengthAdjust="spacingAndGlyphs">Cu</text><text x="263.0" y="173.9" font-size="13.5" style="font-weight:normal">2</text><text x="268.6" y="165.5" font-size="21">O</text><text x="283.8" y="166.3" font-size="21" textLength="10.6" lengthAdjust="spacingAndGlyphs">_</text><text x="294.9" y="165.5" font-size="21" textLength="16.5" lengthAdjust="spacingAndGlyphs">c1</text>
<text x="237.2" y="216.5" font-size="21" textLength="25.3" lengthAdjust="spacingAndGlyphs">Cu</text><text x="263.0" y="224.9" font-size="13.5" style="font-weight:normal">2</text><text x="268.6" y="216.5" font-size="21">O</text><text x="283.8" y="217.3" font-size="21" textLength="10.6" lengthAdjust="spacingAndGlyphs">_</text><text x="294.9" y="216.5" font-size="21" textLength="16.5" lengthAdjust="spacingAndGlyphs">c2</text>
<text x="236.8" y="266.2" font-size="21" textLength="25.3" lengthAdjust="spacingAndGlyphs">Cu</text><text x="262.6" y="274.6" font-size="13.5" style="font-weight:normal">2</text><text x="268.2" y="266.2" font-size="21">O</text><text x="283.4" y="267.0" font-size="21" textLength="10.6" lengthAdjust="spacingAndGlyphs">_</text><text x="294.6" y="266.2" font-size="21" textLength="16.5" lengthAdjust="spacingAndGlyphs">c3</text>
<text x="236.8" y="305.8" font-size="21" textLength="25.3" lengthAdjust="spacingAndGlyphs">Cu</text><text x="262.6" y="314.2" font-size="13.5" style="font-weight:normal">2</text><text x="268.2" y="305.8" font-size="21">O</text><text x="283.4" y="306.6" font-size="21" textLength="10.6" lengthAdjust="spacingAndGlyphs">_</text><text x="294.2" y="305.8" font-size="21" font-style="italic">α</text>
<!-- axis titles -->
<text transform="translate(208.7,391) scale(1.012,1.1)" font-size="27.5">2θ (deg.)</text>
<text transform="translate(25.5,306) rotate(-90)" font-size="31.15">Intensity (arb. units)</text>
</svg></body></html>
